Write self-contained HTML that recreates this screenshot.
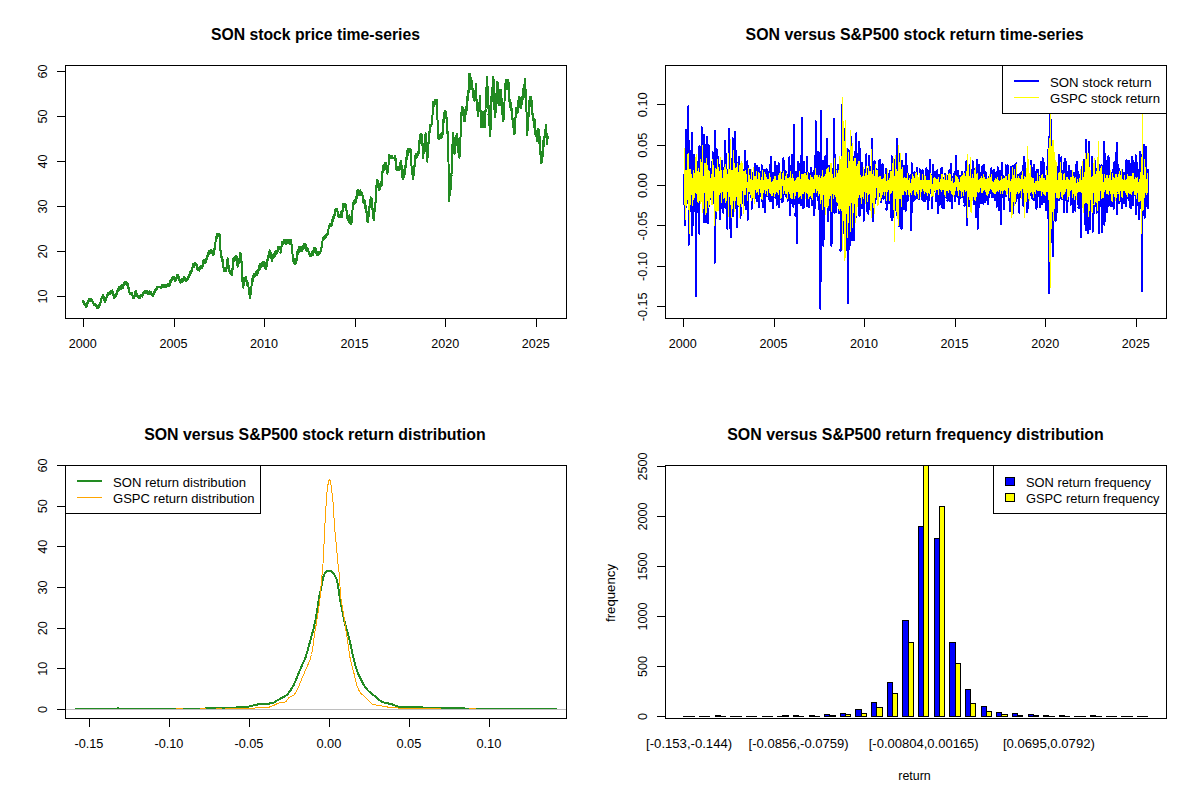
<!DOCTYPE html>
<html><head><meta charset="utf-8"><title>SON vs S&amp;P500</title>
<style>html,body{margin:0;padding:0;background:#fff}svg{display:block}text{font-family:"Liberation Sans", sans-serif}</style>
</head><body>
<svg width="1200" height="800" viewBox="0 0 1200 800">
<defs><clipPath id="c1"><rect x="65" y="65" width="502" height="254"/></clipPath><clipPath id="c2"><rect x="665" y="65" width="502" height="254"/></clipPath><clipPath id="c3"><rect x="65" y="465" width="502" height="254"/></clipPath><clipPath id="c4"><rect x="665" y="465" width="502" height="254"/></clipPath></defs>
<g shape-rendering="crispEdges">
<g clip-path="url(#c1)">
<polyline points="83.1,301.3 83.2,302.3 83.2,300.8 83.3,300.7 83.4,301.8 83.5,301.9 83.5,301.7 83.6,302.8 83.7,301.6 83.7,302.7 83.8,302.5 83.9,303.3 84.0,303.4 84.0,303.8 84.1,302.3 84.2,303.4 84.2,303.0 84.3,303.7 84.4,304.3 84.5,304.2 84.5,304.3 84.6,303.9 84.7,304.5 84.7,304.3 84.8,305.1 84.9,304.9 85.0,303.4 85.0,304.8 85.1,305.1 85.2,304.4 85.2,303.8 85.3,305.5 85.4,304.7 85.5,305.1 85.5,306.2 85.6,304.8 85.7,305.4 85.7,305.4 85.8,305.8 85.9,305.1 86.0,305.8 86.0,305.6 86.1,306.7 86.2,307.1 86.2,306.2 86.3,305.9 86.4,306.0 86.5,305.0 86.5,305.8 86.6,305.7 86.7,306.1 86.8,303.8 86.8,304.0 86.9,303.7 87.0,303.4 87.0,303.8 87.1,303.5 87.2,303.9 87.2,303.7 87.3,303.6 87.4,302.8 87.5,303.0 87.5,303.4 87.6,303.6 87.7,302.8 87.8,301.2 87.8,301.7 87.9,301.7 88.0,301.8 88.0,302.3 88.1,301.7 88.2,300.9 88.2,301.4 88.3,301.0 88.4,300.9 88.5,300.5 88.5,301.1 88.6,299.9 88.7,300.0 88.8,299.4 88.8,300.2 88.9,299.7 89.0,299.6 89.0,298.5 89.1,299.9 89.2,299.5 89.3,300.5 89.3,298.9 89.4,300.2 89.5,300.4 89.5,299.5 89.6,298.8 89.7,300.6 89.8,300.3 89.8,300.0 89.9,300.0 90.0,298.9 90.0,300.1 90.1,299.9 90.2,299.3 90.3,300.3 90.3,299.7 90.4,300.3 90.5,300.5 90.5,301.3 90.6,299.0 90.7,300.9 90.8,300.4 90.8,300.5 90.9,300.3 91.0,300.1 91.0,299.0 91.1,300.4 91.2,300.8 91.3,300.5 91.3,300.5 91.4,299.3 91.5,299.4 91.5,300.9 91.6,300.8 91.7,300.4 91.8,299.3 91.8,301.3 91.9,300.0 92.0,299.4 92.0,300.7 92.1,300.2 92.2,299.7 92.3,299.9 92.3,301.3 92.4,301.3 92.5,302.2 92.5,302.1 92.6,301.4 92.7,301.5 92.8,301.9 92.8,301.4 92.9,302.9 93.0,302.9 93.0,302.6 93.1,303.0 93.2,302.7 93.3,303.2 93.3,303.5 93.4,303.1 93.5,304.2 93.5,304.5 93.6,303.3 93.7,303.6 93.8,303.8 93.8,304.9 93.9,304.5 94.0,304.6 94.0,304.8 94.1,304.7 94.2,304.8 94.3,304.8 94.3,305.4 94.4,304.7 94.5,303.6 94.5,303.8 94.6,304.1 94.7,304.6 94.8,305.5 94.8,304.4 94.9,305.2 95.0,305.4 95.0,305.4 95.1,305.3 95.2,305.6 95.3,305.5 95.3,305.7 95.4,305.1 95.5,303.9 95.5,305.6 95.6,305.9 95.7,305.5 95.8,305.6 95.8,306.3 95.9,306.0 96.0,305.9 96.0,306.0 96.1,306.0 96.2,305.5 96.3,306.4 96.3,305.8 96.4,306.4 96.5,305.5 96.5,307.4 96.6,306.9 96.7,307.2 96.8,306.6 96.8,307.1 96.9,307.5 97.0,307.0 97.0,308.2 97.1,307.5 97.2,308.0 97.3,307.0 97.3,307.6 97.4,307.8 97.5,307.3 97.5,307.1 97.6,307.2 97.7,306.8 97.8,307.4 97.8,308.0 97.9,306.6 98.0,306.6 98.1,306.8 98.1,306.8 98.2,305.7 98.3,306.4 98.3,306.5 98.4,306.4 98.5,305.9 98.6,307.1 98.6,305.7 98.7,306.6 98.8,307.0 98.8,305.8 98.9,306.1 99.0,306.2 99.1,305.7 99.1,305.3 99.2,305.0 99.3,305.7 99.4,305.1 99.4,304.8 99.5,305.5 99.6,304.8 99.6,305.0 99.7,305.3 99.8,305.4 99.9,305.2 99.9,305.0 100.0,305.0 100.1,305.4 100.1,304.2 100.2,303.7 100.3,303.3 100.4,303.2 100.4,302.2 100.5,302.6 100.6,301.8 100.7,302.2 100.7,301.3 100.8,301.7 100.9,300.8 101.0,300.7 101.0,299.4 101.1,301.1 101.2,300.0 101.2,299.0 101.3,299.2 101.4,299.1 101.5,298.6 101.5,298.9 101.6,298.1 101.7,296.6 101.8,296.8 101.8,298.3 101.9,297.5 102.0,297.5 102.0,297.6 102.1,296.8 102.2,297.7 102.3,297.6 102.3,297.5 102.4,296.3 102.5,296.6 102.5,296.8 102.6,296.0 102.7,296.2 102.7,296.0 102.8,295.8 102.9,295.6 103.0,295.3 103.0,295.1 103.1,295.0 103.2,294.8 103.2,296.5 103.3,295.7 103.4,296.8 103.5,297.3 103.5,297.9 103.6,297.3 103.7,297.0 103.8,296.4 103.8,296.4 103.9,297.1 104.0,297.3 104.0,298.2 104.1,297.7 104.2,298.4 104.3,298.2 104.3,298.0 104.4,299.0 104.5,300.5 104.6,300.8 104.6,301.4 104.7,301.4 104.8,300.3 104.9,300.9 104.9,302.0 105.0,301.2 105.1,300.3 105.1,300.1 105.2,299.9 105.3,300.0 105.4,300.6 105.4,299.3 105.5,299.6 105.6,300.3 105.6,298.0 105.7,299.2 105.8,298.6 105.9,300.0 105.9,298.5 106.0,298.4 106.1,298.1 106.2,298.8 106.2,299.0 106.3,298.2 106.4,299.1 106.4,298.6 106.5,297.4 106.6,297.8 106.7,297.4 106.7,297.0 106.8,295.4 106.9,295.6 106.9,296.3 107.0,295.3 107.1,296.1 107.2,295.9 107.2,294.9 107.3,296.2 107.4,295.4 107.5,295.7 107.5,294.8 107.6,293.2 107.7,294.3 107.7,293.9 107.8,294.2 107.9,294.5 108.0,294.6 108.0,293.4 108.1,292.7 108.2,293.8 108.2,294.4 108.3,293.8 108.4,294.1 108.5,293.2 108.5,293.2 108.6,293.1 108.7,293.3 108.8,292.5 108.8,292.6 108.9,293.1 109.0,293.8 109.0,293.3 109.1,293.0 109.2,292.4 109.3,293.2 109.3,292.3 109.4,292.5 109.5,292.4 109.5,292.4 109.6,292.0 109.7,293.3 109.8,292.9 109.8,292.0 109.9,293.4 110.0,293.3 110.0,292.0 110.1,293.2 110.2,293.2 110.3,292.9 110.3,292.0 110.4,293.8 110.5,292.9 110.6,292.8 110.6,292.7 110.7,292.4 110.8,292.5 110.8,291.5 110.9,292.0 111.0,291.4 111.1,291.5 111.1,292.5 111.2,291.9 111.3,290.9 111.3,291.8 111.4,291.8 111.5,291.7 111.6,292.8 111.6,292.1 111.7,291.8 111.8,292.5 111.9,292.1 111.9,291.2 112.0,292.3 112.1,291.1 112.1,291.7 112.2,291.7 112.3,291.7 112.4,290.4 112.4,291.5 112.5,291.2 112.6,291.7 112.6,291.5 112.7,292.3 112.8,292.4 112.9,294.3 112.9,292.8 113.0,293.9 113.1,293.5 113.2,295.4 113.2,294.2 113.3,294.7 113.4,294.0 113.5,295.6 113.5,295.8 113.6,294.2 113.7,296.4 113.7,296.8 113.8,296.6 113.9,297.4 114.0,296.1 114.0,295.9 114.1,297.3 114.2,297.9 114.3,296.4 114.3,296.8 114.4,297.5 114.5,296.9 114.5,296.8 114.6,297.6 114.7,296.3 114.8,297.0 114.8,295.9 114.9,296.2 115.0,296.2 115.0,294.7 115.1,296.2 115.2,296.6 115.3,296.3 115.3,296.2 115.4,294.8 115.5,296.1 115.5,295.9 115.6,297.0 115.7,296.3 115.8,295.9 115.8,295.2 115.9,296.2 116.0,294.9 116.0,294.5 116.1,295.0 116.2,294.4 116.3,294.5 116.3,295.7 116.4,293.7 116.5,293.6 116.5,294.3 116.6,294.7 116.7,292.4 116.8,292.8 116.8,292.2 116.9,292.5 117.0,292.8 117.0,291.4 117.1,291.5 117.2,291.5 117.3,291.7 117.3,291.6 117.4,290.6 117.5,291.0 117.6,289.6 117.6,291.3 117.7,290.5 117.8,291.2 117.8,289.9 117.9,289.6 118.0,288.9 118.1,290.4 118.1,290.3 118.2,290.3 118.3,290.6 118.4,290.8 118.4,290.2 118.5,291.3 118.6,290.4 118.6,289.8 118.7,290.3 118.8,290.5 118.9,290.3 118.9,287.9 119.0,289.9 119.1,287.6 119.1,288.0 119.2,288.1 119.3,288.8 119.4,286.6 119.4,286.6 119.5,288.0 119.6,287.6 119.7,286.7 119.7,287.2 119.8,286.6 119.9,287.5 119.9,286.6 120.0,287.7 120.1,286.6 120.2,287.1 120.2,288.3 120.3,287.3 120.4,287.7 120.5,286.6 120.5,287.5 120.6,287.5 120.7,287.6 120.7,287.6 120.8,287.0 120.9,287.6 121.0,288.3 121.0,288.7 121.1,288.1 121.2,286.2 121.2,286.1 121.3,287.1 121.4,287.4 121.5,288.4 121.5,288.0 121.6,287.6 121.7,287.9 121.7,287.6 121.8,287.0 121.9,286.8 122.0,287.1 122.0,285.8 122.1,286.1 122.2,284.8 122.2,286.1 122.3,286.4 122.4,285.7 122.5,286.1 122.5,286.6 122.6,286.8 122.7,285.9 122.8,286.1 122.8,286.0 122.9,288.0 123.0,286.6 123.0,286.8 123.1,286.9 123.2,287.2 123.3,287.0 123.3,286.1 123.4,285.3 123.5,286.1 123.5,284.1 123.6,283.8 123.7,284.4 123.8,283.8 123.8,285.0 123.9,283.7 124.0,284.6 124.0,284.2 124.1,284.0 124.2,284.1 124.3,283.0 124.3,282.5 124.4,282.5 124.5,282.9 124.5,282.3 124.6,282.4 124.7,282.5 124.8,282.6 124.8,283.3 124.9,284.0 125.0,283.1 125.0,284.1 125.1,282.3 125.2,282.3 125.3,284.2 125.3,282.3 125.4,282.6 125.5,282.9 125.6,281.6 125.6,282.5 125.7,284.5 125.8,282.8 125.8,283.5 125.9,283.2 126.0,283.1 126.1,284.3 126.1,284.3 126.2,284.5 126.3,284.2 126.3,283.9 126.4,285.0 126.5,285.1 126.6,284.6 126.6,285.1 126.7,284.6 126.8,285.1 126.9,285.1 126.9,285.1 127.0,284.2 127.1,284.2 127.1,283.2 127.2,284.2 127.3,284.1 127.4,284.5 127.4,283.5 127.5,283.8 127.6,284.1 127.6,285.3 127.7,285.2 127.8,283.4 127.9,286.5 127.9,286.0 128.0,285.6 128.1,285.8 128.1,288.2 128.2,288.1 128.3,288.0 128.4,287.4 128.4,288.5 128.5,288.9 128.6,287.2 128.6,287.4 128.7,288.4 128.8,289.0 128.9,288.4 128.9,289.2 129.0,289.0 129.1,290.9 129.1,290.5 129.2,291.1 129.3,292.1 129.4,291.7 129.4,291.7 129.5,292.3 129.6,292.1 129.6,293.7 129.7,293.3 129.8,293.1 129.9,293.3 129.9,292.9 130.0,293.8 130.1,294.2 130.1,293.7 130.2,294.0 130.3,292.9 130.4,293.2 130.4,293.3 130.5,292.9 130.6,292.9 130.6,292.9 130.7,292.9 130.8,292.9 130.9,292.9 130.9,292.9 131.0,292.9 131.1,292.9 131.2,292.9 131.2,292.9 131.3,292.9 131.4,293.0 131.4,293.1 131.5,292.9 131.6,293.5 131.7,293.8 131.7,293.3 131.8,293.4 131.9,293.4 131.9,295.0 132.0,293.2 132.1,293.8 132.2,293.4 132.2,295.4 132.3,294.6 132.4,295.2 132.5,296.2 132.5,296.0 132.6,295.2 132.7,296.3 132.7,296.4 132.8,296.1 132.9,296.1 133.0,296.1 133.0,297.7 133.1,297.5 133.2,298.0 133.2,296.9 133.3,298.2 133.4,298.1 133.5,297.7 133.5,298.0 133.6,296.8 133.7,297.8 133.7,296.8 133.8,297.6 133.9,297.0 134.0,297.8 134.0,297.6 134.1,297.8 134.2,296.5 134.2,296.3 134.3,295.6 134.4,295.8 134.5,296.3 134.5,296.2 134.6,296.0 134.7,295.5 134.7,294.8 134.8,294.9 134.9,295.8 135.0,295.5 135.0,294.2 135.1,294.6 135.2,294.4 135.2,291.9 135.3,292.7 135.4,292.5 135.5,292.2 135.5,292.7 135.6,291.2 135.7,292.6 135.7,290.8 135.8,291.7 135.9,292.1 136.0,292.1 136.0,291.9 136.1,291.6 136.2,291.8 136.2,292.6 136.3,290.8 136.4,292.3 136.5,293.3 136.5,293.8 136.6,294.1 136.7,293.7 136.7,293.9 136.8,293.9 136.9,293.7 137.0,294.2 137.0,295.1 137.1,293.7 137.2,294.1 137.2,293.6 137.3,295.9 137.4,295.8 137.5,295.7 137.5,296.4 137.6,296.5 137.7,296.4 137.8,295.7 137.8,295.9 137.9,296.3 138.0,295.8 138.0,296.0 138.1,296.4 138.2,296.7 138.3,296.9 138.3,296.7 138.4,296.2 138.5,296.7 138.5,296.5 138.6,296.8 138.7,297.6 138.8,297.6 138.8,296.6 138.9,296.4 139.0,295.7 139.0,297.3 139.1,296.8 139.2,296.8 139.3,296.9 139.3,297.9 139.4,297.5 139.5,297.5 139.5,297.5 139.6,296.6 139.7,297.3 139.8,296.9 139.8,297.4 139.9,298.3 140.0,297.5 140.0,297.6 140.1,296.6 140.2,296.2 140.3,296.9 140.3,296.7 140.4,295.0 140.5,296.1 140.6,296.1 140.6,295.7 140.7,295.9 140.8,295.6 140.8,295.3 140.9,294.7 141.0,296.5 141.1,295.9 141.1,296.2 141.2,296.3 141.3,296.2 141.3,296.5 141.4,295.9 141.5,296.4 141.6,296.4 141.6,296.4 141.7,296.1 141.8,296.0 141.9,295.7 141.9,296.2 142.0,296.3 142.1,296.1 142.1,296.7 142.2,296.0 142.3,296.2 142.4,295.4 142.4,296.1 142.5,295.6 142.6,295.8 142.6,294.9 142.7,295.0 142.8,293.7 142.9,293.5 142.9,294.1 143.0,293.5 143.1,293.7 143.1,293.8 143.2,293.0 143.3,292.6 143.4,293.6 143.4,293.0 143.5,293.9 143.6,292.8 143.7,293.1 143.7,293.8 143.8,292.5 143.9,292.1 143.9,292.8 144.0,292.4 144.1,293.3 144.2,291.7 144.2,293.1 144.3,292.3 144.4,291.2 144.4,292.1 144.5,291.7 144.6,291.5 144.7,292.0 144.7,291.9 144.8,291.9 144.9,292.1 145.0,291.1 145.0,291.0 145.1,291.0 145.2,292.2 145.2,292.5 145.3,293.0 145.4,291.5 145.5,291.8 145.5,291.9 145.6,292.4 145.7,292.4 145.7,291.7 145.8,291.6 145.9,291.9 146.0,291.8 146.0,291.1 146.1,291.4 146.2,292.3 146.2,291.9 146.3,292.5 146.4,291.5 146.5,292.5 146.5,291.6 146.6,292.3 146.7,292.0 146.8,291.2 146.8,291.9 146.9,291.6 147.0,292.8 147.0,292.5 147.1,291.8 147.2,291.4 147.3,291.5 147.3,291.3 147.4,292.3 147.5,292.4 147.5,292.1 147.6,292.5 147.7,292.9 147.8,293.5 147.8,292.6 147.9,293.6 148.0,293.0 148.1,293.8 148.1,293.4 148.2,293.8 148.3,293.3 148.3,293.8 148.4,293.8 148.5,293.1 148.6,293.8 148.6,293.6 148.7,293.7 148.8,293.8 148.8,293.2 148.9,293.0 149.0,293.8 149.1,292.6 149.1,293.1 149.2,292.8 149.3,292.4 149.4,292.6 149.4,291.0 149.5,293.0 149.6,292.3 149.6,291.7 149.7,293.0 149.8,293.1 149.9,292.2 149.9,292.6 150.0,292.5 150.1,291.6 150.1,292.9 150.2,292.4 150.3,292.9 150.4,293.3 150.4,293.5 150.5,293.3 150.6,292.4 150.6,293.7 150.7,292.8 150.8,293.7 150.9,293.6 150.9,293.6 151.0,293.6 151.1,293.5 151.2,294.5 151.2,293.4 151.3,293.7 151.4,292.4 151.4,293.8 151.5,293.7 151.6,294.5 151.7,294.2 151.7,294.8 151.8,293.9 151.9,294.4 151.9,294.1 152.0,294.4 152.1,294.8 152.2,293.9 152.2,294.8 152.3,294.9 152.4,294.7 152.5,295.9 152.5,295.8 152.6,295.0 152.7,295.6 152.7,295.5 152.8,296.0 152.9,295.1 153.0,294.9 153.0,295.5 153.1,295.0 153.2,295.5 153.2,295.6 153.3,295.7 153.4,295.3 153.5,294.6 153.5,294.0 153.6,293.7 153.7,293.1 153.7,293.2 153.8,292.8 153.9,293.2 154.0,293.9 154.0,293.7 154.1,292.9 154.2,292.9 154.2,293.0 154.3,293.0 154.4,291.6 154.5,292.6 154.5,292.2 154.6,290.9 154.7,291.1 154.7,290.8 154.8,289.6 154.9,290.1 155.0,290.1 155.0,290.2 155.1,290.5 155.2,290.2 155.2,290.6 155.3,290.6 155.4,290.5 155.5,289.9 155.5,290.1 155.6,290.0 155.7,290.3 155.7,289.5 155.8,289.5 155.9,289.4 156.0,289.6 156.0,290.3 156.1,289.8 156.2,289.1 156.3,289.3 156.3,288.8 156.4,288.2 156.5,288.7 156.5,289.3 156.6,289.3 156.7,288.7 156.8,288.9 156.8,288.3 156.9,289.0 157.0,288.6 157.0,288.0 157.1,288.7 157.2,288.1 157.3,286.8 157.3,287.1 157.4,287.4 157.5,286.6 157.6,287.0 157.6,286.6 157.7,286.6 157.8,286.6 157.8,286.6 157.9,286.9 158.0,286.9 158.1,286.6 158.1,286.6 158.2,286.6 158.3,287.3 158.4,286.6 158.4,286.6 158.5,286.6 158.6,286.6 158.6,286.6 158.7,286.6 158.8,286.6 158.9,286.6 158.9,286.6 159.0,286.6 159.1,286.6 159.1,286.6 159.2,286.6 159.3,286.6 159.4,286.6 159.4,286.6 159.5,286.6 159.6,286.6 159.7,286.6 159.7,286.6 159.8,286.8 159.9,286.6 159.9,286.6 160.0,286.6 160.1,286.6 160.2,287.1 160.2,286.9 160.3,287.8 160.4,287.3 160.5,287.4 160.5,288.0 160.6,286.6 160.7,287.7 160.7,288.0 160.8,287.2 160.9,288.3 161.0,287.8 161.0,288.2 161.1,287.7 161.2,287.5 161.2,287.5 161.3,287.1 161.4,287.4 161.5,287.9 161.5,287.2 161.6,286.6 161.7,286.9 161.8,286.0 161.8,287.4 161.9,286.6 162.0,287.0 162.0,285.0 162.1,286.0 162.2,285.7 162.3,286.5 162.3,285.6 162.4,286.1 162.5,285.3 162.6,286.2 162.6,284.7 162.7,285.1 162.8,285.1 162.8,284.9 162.9,285.4 163.0,285.2 163.1,284.8 163.1,285.2 163.2,285.8 163.3,285.8 163.4,286.0 163.4,285.0 163.5,285.1 163.6,285.5 163.6,285.0 163.7,286.8 163.8,286.1 163.9,285.1 163.9,286.5 164.0,287.3 164.1,285.8 164.1,286.2 164.2,286.5 164.3,285.8 164.4,286.8 164.4,287.4 164.5,286.2 164.6,286.6 164.7,286.5 164.7,286.0 164.8,285.8 164.9,285.7 164.9,285.9 165.0,285.2 165.1,285.8 165.2,287.1 165.2,287.0 165.3,287.0 165.4,286.0 165.5,285.6 165.5,287.3 165.6,286.5 165.7,287.5 165.7,286.6 165.8,287.0 165.9,285.9 166.0,286.5 166.0,286.9 166.1,285.9 166.2,286.3 166.2,285.6 166.3,285.5 166.4,285.1 166.5,285.5 166.5,285.7 166.6,286.2 166.7,285.4 166.8,286.1 166.8,285.2 166.9,285.2 167.0,285.5 167.0,284.7 167.1,285.9 167.2,285.0 167.3,284.4 167.3,284.3 167.4,284.2 167.5,284.9 167.5,284.8 167.6,283.7 167.7,285.1 167.8,284.6 167.8,285.0 167.9,285.1 168.0,284.1 168.1,284.4 168.1,284.9 168.2,285.4 168.3,285.0 168.3,286.1 168.4,285.3 168.5,285.3 168.6,286.0 168.6,285.7 168.7,286.0 168.8,285.6 168.8,284.3 168.9,284.9 169.0,284.6 169.1,285.3 169.1,285.0 169.2,284.9 169.3,284.2 169.4,283.4 169.4,284.1 169.5,283.6 169.6,284.2 169.6,286.0 169.7,284.4 169.8,283.3 169.9,282.8 169.9,283.5 170.0,283.1 170.1,282.4 170.1,281.3 170.2,281.3 170.3,282.1 170.4,281.0 170.4,280.7 170.5,281.3 170.6,280.6 170.6,280.8 170.7,280.6 170.8,280.7 170.9,281.9 170.9,281.8 171.0,281.3 171.1,280.4 171.2,279.9 171.2,280.0 171.3,279.4 171.4,278.9 171.4,279.7 171.5,279.3 171.6,279.5 171.7,279.1 171.7,279.0 171.8,278.5 171.9,279.6 171.9,278.8 172.0,279.2 172.1,280.2 172.2,278.9 172.2,279.8 172.3,277.8 172.4,279.1 172.5,279.0 172.5,279.2 172.6,279.2 172.7,278.7 172.7,277.6 172.8,277.8 172.9,277.2 173.0,277.0 173.0,277.9 173.1,277.5 173.2,277.2 173.2,277.7 173.3,276.6 173.4,276.6 173.5,276.7 173.5,277.0 173.6,278.2 173.7,276.8 173.8,278.3 173.8,279.3 173.9,278.5 174.0,278.6 174.1,277.9 174.1,279.0 174.2,278.5 174.3,279.3 174.3,278.2 174.4,278.7 174.5,278.3 174.6,280.7 174.6,280.3 174.7,281.3 174.8,280.5 174.9,280.1 174.9,281.0 175.0,280.0 175.1,280.8 175.1,281.2 175.2,278.9 175.3,280.5 175.4,280.9 175.4,280.4 175.5,280.1 175.6,280.2 175.6,280.1 175.7,280.9 175.8,279.7 175.9,279.8 175.9,279.8 176.0,279.6 176.1,279.2 176.1,278.1 176.2,278.3 176.3,278.7 176.4,279.0 176.4,278.7 176.5,277.5 176.6,278.8 176.6,277.6 176.7,277.6 176.8,278.2 176.9,277.3 176.9,277.1 177.0,277.0 177.1,276.0 177.1,275.8 177.2,275.6 177.3,277.0 177.4,276.6 177.4,274.7 177.5,275.6 177.6,275.6 177.6,275.4 177.7,274.7 177.8,275.9 177.9,276.5 177.9,276.9 178.0,275.4 178.1,275.1 178.1,275.7 178.2,275.1 178.3,274.7 178.4,276.4 178.4,275.3 178.5,276.0 178.6,276.7 178.6,277.8 178.7,277.3 178.8,277.4 178.9,277.6 178.9,279.1 179.0,279.0 179.1,278.2 179.1,279.8 179.2,279.8 179.3,280.1 179.4,278.7 179.4,279.1 179.5,279.9 179.6,279.4 179.6,280.0 179.7,280.1 179.8,280.2 179.9,280.8 179.9,280.0 180.0,281.2 180.1,281.5 180.1,281.2 180.2,281.4 180.3,282.6 180.4,281.4 180.4,281.5 180.5,281.1 180.6,281.6 180.6,281.8 180.7,282.4 180.8,282.6 180.9,282.4 180.9,282.3 181.0,281.9 181.1,282.6 181.2,282.2 181.2,281.8 181.3,281.7 181.4,281.8 181.4,281.5 181.5,281.9 181.6,281.7 181.7,281.7 181.7,282.0 181.8,281.1 181.9,280.6 181.9,279.1 182.0,281.0 182.1,281.2 182.2,281.3 182.2,281.1 182.3,280.8 182.4,281.4 182.5,281.5 182.5,280.3 182.6,281.2 182.7,280.6 182.7,280.4 182.8,280.0 182.9,279.7 183.0,280.5 183.0,280.8 183.1,280.9 183.2,280.6 183.2,280.4 183.3,280.9 183.4,279.6 183.5,278.6 183.5,277.2 183.6,277.6 183.7,277.2 183.8,277.7 183.8,278.1 183.9,278.7 184.0,277.8 184.0,277.2 184.1,277.8 184.2,277.6 184.3,278.6 184.3,277.6 184.4,278.1 184.5,278.4 184.5,277.8 184.6,277.7 184.7,277.7 184.8,278.3 184.8,278.9 184.9,277.7 185.0,278.8 185.1,279.4 185.1,278.6 185.2,279.8 185.3,279.3 185.3,279.5 185.4,279.2 185.5,280.0 185.6,280.2 185.6,280.5 185.7,280.1 185.8,279.6 185.9,280.7 185.9,280.2 186.0,280.6 186.1,280.4 186.1,280.7 186.2,279.5 186.3,280.5 186.4,280.0 186.4,280.0 186.5,280.7 186.6,280.2 186.6,280.7 186.7,280.6 186.8,280.1 186.9,280.3 186.9,280.2 187.0,280.0 187.1,278.4 187.2,279.1 187.2,280.1 187.3,279.9 187.4,280.0 187.4,280.4 187.5,280.2 187.6,280.2 187.7,279.0 187.7,279.4 187.8,279.8 187.9,279.0 188.0,279.1 188.0,278.3 188.1,279.4 188.2,277.4 188.2,276.6 188.3,277.0 188.4,277.4 188.5,276.3 188.5,276.8 188.6,277.2 188.7,276.5 188.7,276.1 188.8,276.2 188.9,274.8 189.0,275.7 189.0,274.6 189.1,275.0 189.2,275.6 189.2,274.8 189.3,274.5 189.4,274.8 189.5,275.1 189.5,274.2 189.6,272.7 189.7,275.0 189.7,273.2 189.8,272.9 189.9,272.7 190.0,272.5 190.0,272.2 190.1,271.6 190.2,272.5 190.2,273.2 190.3,271.7 190.4,272.6 190.5,271.6 190.5,272.7 190.6,272.5 190.7,272.5 190.7,270.6 190.8,271.9 190.9,272.3 191.0,272.9 191.0,273.0 191.1,272.1 191.2,272.1 191.2,271.1 191.3,271.4 191.4,271.1 191.5,270.6 191.5,270.4 191.6,270.2 191.7,270.0 191.7,269.9 191.8,270.3 191.9,270.9 192.0,271.0 192.0,269.6 192.1,270.8 192.2,269.6 192.2,269.0 192.3,269.8 192.4,269.9 192.5,267.4 192.5,266.1 192.6,266.0 192.7,265.4 192.7,265.4 192.8,266.3 192.9,265.4 193.0,266.3 193.0,266.3 193.1,266.2 193.2,265.6 193.2,265.6 193.3,263.8 193.4,266.2 193.5,264.0 193.5,264.1 193.6,265.9 193.7,265.6 193.7,264.2 193.8,266.5 193.9,266.6 194.0,266.0 194.0,267.4 194.1,266.6 194.2,267.3 194.2,266.3 194.3,264.0 194.4,264.2 194.5,265.9 194.5,263.8 194.6,263.7 194.7,264.5 194.7,262.9 194.8,264.9 194.9,262.9 195.0,265.2 195.0,264.1 195.1,264.8 195.2,264.7 195.2,263.3 195.3,264.0 195.4,263.9 195.5,263.7 195.5,264.6 195.6,263.7 195.7,263.5 195.7,264.5 195.8,265.3 195.9,264.8 196.0,263.6 196.0,263.4 196.1,264.1 196.2,264.6 196.2,263.8 196.3,264.5 196.4,264.9 196.5,265.2 196.5,265.5 196.6,266.1 196.7,265.2 196.8,265.1 196.8,266.6 196.9,267.0 197.0,265.8 197.0,266.6 197.1,266.0 197.2,267.1 197.2,266.0 197.3,267.3 197.4,268.6 197.5,269.7 197.5,268.5 197.6,269.0 197.7,268.2 197.8,268.3 197.8,267.8 197.9,268.9 198.0,268.4 198.0,267.9 198.1,268.5 198.2,268.6 198.2,268.0 198.3,268.9 198.4,269.3 198.5,269.2 198.5,269.3 198.6,270.1 198.7,269.9 198.8,269.4 198.8,269.7 198.9,269.1 199.0,268.2 199.0,270.0 199.1,270.0 199.2,269.2 199.3,269.3 199.3,269.6 199.4,270.7 199.5,269.4 199.5,269.8 199.6,268.4 199.7,269.1 199.8,268.0 199.8,268.0 199.9,268.5 200.0,266.9 200.0,267.1 200.1,267.8 200.2,267.4 200.3,268.6 200.3,267.4 200.4,267.5 200.5,268.4 200.6,267.5 200.6,267.6 200.7,267.7 200.8,267.0 200.8,266.4 200.9,267.1 201.0,266.3 201.1,267.5 201.1,266.7 201.2,265.9 201.3,266.2 201.3,267.1 201.4,267.4 201.5,267.3 201.6,266.7 201.6,267.6 201.7,267.5 201.8,266.7 201.9,268.2 201.9,266.4 202.0,268.3 202.1,267.0 202.1,267.7 202.2,266.2 202.3,266.3 202.4,265.6 202.4,265.4 202.5,266.2 202.6,266.1 202.6,266.1 202.7,264.1 202.8,264.1 202.9,262.7 202.9,263.5 203.0,262.6 203.1,260.7 203.1,261.2 203.2,261.2 203.3,261.6 203.4,262.3 203.4,262.3 203.5,263.2 203.6,264.0 203.7,260.5 203.7,260.4 203.8,261.9 203.9,260.5 203.9,260.9 204.0,262.2 204.1,261.5 204.2,261.8 204.2,261.3 204.3,261.4 204.4,261.5 204.4,261.6 204.5,260.4 204.6,260.4 204.7,260.4 204.7,260.4 204.8,260.4 204.9,261.8 205.0,260.4 205.0,262.0 205.1,261.1 205.2,261.1 205.2,263.1 205.3,261.3 205.4,261.3 205.5,261.6 205.5,261.1 205.6,261.2 205.7,261.3 205.7,262.0 205.8,261.8 205.9,261.3 206.0,260.1 206.0,262.0 206.1,260.9 206.2,259.1 206.2,260.3 206.3,259.1 206.4,261.7 206.5,258.4 206.5,258.8 206.6,259.4 206.7,256.1 206.7,256.2 206.8,256.2 206.9,256.2 207.0,256.5 207.0,257.5 207.1,257.2 207.2,256.1 207.2,255.6 207.3,255.9 207.4,255.4 207.5,255.0 207.5,254.9 207.6,252.6 207.7,253.0 207.8,255.8 207.8,255.6 207.9,255.9 208.0,256.4 208.0,254.8 208.1,256.1 208.2,255.7 208.3,254.7 208.3,253.7 208.4,254.7 208.5,254.9 208.5,253.9 208.6,254.0 208.7,253.8 208.8,252.9 208.8,253.7 208.9,253.4 209.0,253.4 209.0,251.1 209.1,250.4 209.2,252.0 209.3,250.6 209.3,252.2 209.4,251.2 209.5,252.6 209.5,251.6 209.6,251.1 209.7,251.8 209.8,253.2 209.8,252.6 209.9,253.2 210.0,252.7 210.0,252.3 210.1,251.9 210.2,252.8 210.3,250.6 210.3,251.1 210.4,250.9 210.5,251.8 210.6,251.7 210.6,252.2 210.7,250.9 210.8,251.1 210.8,250.8 210.9,250.3 211.0,251.2 211.1,250.3 211.1,250.3 211.2,250.5 211.3,250.3 211.3,250.7 211.4,250.3 211.5,251.4 211.6,250.3 211.6,250.3 211.7,251.0 211.8,252.1 211.9,250.9 211.9,250.5 212.0,251.9 212.1,252.1 212.1,251.3 212.2,251.4 212.3,253.2 212.4,252.3 212.4,252.1 212.5,251.9 212.6,252.0 212.6,251.0 212.7,251.8 212.8,253.5 212.9,252.5 212.9,251.8 213.0,252.3 213.1,255.1 213.2,253.8 213.2,254.0 213.3,253.1 213.4,254.6 213.5,253.8 213.5,252.0 213.6,254.4 213.7,254.1 213.8,253.8 213.8,252.7 213.9,252.2 214.0,252.5 214.0,251.5 214.1,251.1 214.2,251.1 214.2,250.2 214.3,248.9 214.4,248.0 214.5,248.7 214.5,248.1 214.6,247.1 214.7,247.9 214.7,249.0 214.8,247.2 214.9,248.3 215.0,244.3 215.0,244.4 215.1,244.1 215.2,244.9 215.2,244.6 215.3,243.0 215.4,242.5 215.5,242.4 215.5,240.9 215.6,240.0 215.7,240.5 215.7,240.3 215.8,239.0 215.9,239.9 216.0,238.5 216.0,238.4 216.1,240.1 216.2,237.7 216.2,238.3 216.3,237.1 216.4,237.6 216.5,238.2 216.5,237.8 216.6,238.6 216.7,236.1 216.7,236.4 216.8,233.6 216.9,234.2 217.0,236.6 217.0,235.0 217.1,235.0 217.2,235.4 217.2,234.7 217.3,234.4 217.4,235.8 217.5,235.4 217.5,235.2 217.6,236.4 217.7,235.2 217.7,234.6 217.8,235.5 217.9,235.5 218.0,234.2 218.0,233.6 218.1,234.5 218.2,234.2 218.2,235.5 218.3,234.6 218.4,234.4 218.5,235.3 218.5,233.8 218.6,235.5 218.7,233.6 218.7,234.5 218.8,235.0 218.9,236.2 219.0,233.6 219.0,233.6 219.1,235.8 219.2,233.6 219.2,234.1 219.3,234.4 219.4,234.3 219.5,236.0 219.5,234.4 219.6,236.2 219.7,238.0 219.7,239.4 219.8,241.4 219.9,242.6 220.0,242.8 220.0,244.4 220.1,243.6 220.2,247.0 220.2,246.6 220.3,249.0 220.4,248.8 220.5,250.8 220.5,250.1 220.6,252.5 220.7,253.7 220.7,253.4 220.8,253.0 220.9,252.4 221.0,253.4 221.0,254.7 221.1,253.7 221.2,255.4 221.3,255.0 221.3,252.9 221.4,256.2 221.5,258.2 221.6,256.6 221.6,257.1 221.7,256.5 221.8,256.8 221.8,258.6 221.9,258.7 222.0,258.7 222.1,259.1 222.1,261.3 222.2,259.0 222.3,259.9 222.4,260.2 222.4,259.8 222.5,260.0 222.6,259.6 222.6,260.1 222.7,260.6 222.8,264.2 222.9,264.1 222.9,262.4 223.0,263.6 223.1,265.0 223.2,265.6 223.2,265.5 223.3,267.2 223.4,267.0 223.5,268.2 223.5,267.3 223.6,268.8 223.7,267.7 223.8,268.8 223.8,268.6 223.9,268.4 224.0,267.9 224.0,267.9 224.1,267.9 224.2,267.9 224.2,267.9 224.3,271.3 224.4,270.1 224.5,269.3 224.5,271.2 224.6,271.3 224.7,270.3 224.8,270.9 224.8,269.0 224.9,270.4 225.0,270.9 225.0,271.3 225.1,271.1 225.2,271.3 225.2,271.3 225.3,271.1 225.4,271.3 225.5,269.8 225.5,271.3 225.6,270.6 225.7,271.1 225.8,271.2 225.8,268.8 225.9,271.3 226.0,269.6 226.0,271.3 226.1,270.5 226.2,268.4 226.2,270.0 226.3,269.9 226.4,267.7 226.5,269.1 226.5,267.9 226.6,267.7 226.7,267.0 226.8,266.1 226.8,265.7 226.9,265.9 227.0,263.9 227.1,263.5 227.1,262.4 227.2,261.1 227.3,260.4 227.4,259.8 227.4,259.1 227.5,258.8 227.6,258.4 227.6,261.6 227.7,261.3 227.8,259.7 227.9,262.0 227.9,261.8 228.0,262.8 228.1,262.0 228.2,262.9 228.2,264.0 228.3,262.1 228.4,263.7 228.4,265.6 228.5,265.2 228.6,265.2 228.7,267.0 228.7,266.4 228.8,267.1 228.9,266.7 229.0,269.8 229.0,269.4 229.1,271.4 229.2,269.9 229.3,270.0 229.3,270.3 229.4,271.2 229.5,270.7 229.5,270.6 229.6,272.2 229.7,272.8 229.8,271.3 229.8,270.9 229.9,272.5 230.0,271.6 230.0,272.3 230.1,273.4 230.2,273.6 230.3,272.6 230.3,272.9 230.4,273.2 230.5,274.1 230.5,270.5 230.6,272.9 230.7,272.0 230.8,272.8 230.8,272.4 230.9,273.7 231.0,272.3 231.0,272.6 231.1,271.8 231.2,273.7 231.3,273.7 231.3,273.3 231.4,271.9 231.5,274.1 231.5,273.1 231.6,274.6 231.7,274.1 231.8,273.8 231.8,274.9 231.9,275.0 232.0,273.2 232.0,273.3 232.1,274.0 232.2,271.5 232.3,271.4 232.3,269.0 232.4,268.6 232.5,269.5 232.5,268.4 232.6,268.0 232.7,266.7 232.7,266.1 232.8,264.4 232.9,264.0 233.0,263.7 233.0,261.4 233.1,260.0 233.2,258.9 233.2,260.1 233.3,259.8 233.4,257.9 233.5,259.2 233.5,261.3 233.6,261.3 233.7,261.3 233.7,259.6 233.8,259.6 233.9,260.6 234.0,261.2 234.0,258.9 234.1,258.6 234.2,259.5 234.2,259.7 234.3,258.5 234.4,259.5 234.5,260.3 234.5,258.3 234.6,259.8 234.7,257.4 234.7,258.5 234.8,260.0 234.9,258.9 235.0,257.4 235.0,260.2 235.1,258.1 235.2,256.4 235.2,259.2 235.3,258.0 235.4,259.0 235.5,257.6 235.5,259.9 235.6,259.1 235.7,259.7 235.7,258.4 235.8,258.2 235.9,258.1 236.0,257.3 236.0,257.3 236.1,257.1 236.2,258.8 236.2,256.9 236.3,256.0 236.4,256.0 236.5,257.6 236.5,256.0 236.6,257.4 236.7,257.5 236.8,259.4 236.8,261.3 236.9,261.7 237.0,260.6 237.1,259.1 237.1,263.2 237.2,265.3 237.3,263.0 237.4,264.7 237.4,265.2 237.5,266.2 237.6,266.5 237.6,266.4 237.7,266.7 237.8,263.7 237.9,264.7 237.9,264.3 238.0,262.9 238.1,261.2 238.1,262.2 238.2,264.3 238.3,263.1 238.4,262.8 238.4,262.3 238.5,263.5 238.6,262.8 238.7,263.3 238.7,262.6 238.8,262.1 238.9,262.2 238.9,261.7 239.0,259.8 239.1,258.9 239.2,259.3 239.2,259.5 239.3,262.0 239.4,259.1 239.4,258.8 239.5,258.0 239.6,258.2 239.7,257.7 239.7,257.1 239.8,253.4 239.9,256.3 240.0,257.7 240.0,257.4 240.1,257.1 240.2,256.2 240.2,256.8 240.3,256.1 240.4,252.8 240.5,252.8 240.5,253.0 240.6,253.8 240.7,254.9 240.7,256.0 240.8,254.9 240.9,253.4 241.0,258.3 241.0,256.5 241.1,259.1 241.2,260.0 241.2,258.1 241.3,261.9 241.4,263.0 241.5,260.5 241.5,262.2 241.6,264.3 241.7,264.0 241.8,263.5 241.8,265.5 241.9,266.2 242.0,270.8 242.0,267.6 242.1,270.7 242.2,272.7 242.3,275.4 242.3,277.1 242.4,279.7 242.5,281.8 242.5,281.9 242.6,285.4 242.7,284.0 242.8,286.2 242.8,287.6 242.9,287.6 243.0,283.6 243.0,287.6 243.1,287.6 243.2,284.8 243.3,284.4 243.3,287.6 243.4,284.2 243.5,282.8 243.6,285.4 243.6,282.4 243.7,283.1 243.8,283.3 243.8,282.2 243.9,282.1 244.0,282.9 244.1,278.1 244.1,281.5 244.2,281.6 244.3,279.3 244.4,280.9 244.4,278.7 244.5,280.4 244.6,279.5 244.7,279.6 244.7,279.4 244.8,280.1 244.9,280.2 244.9,277.6 245.0,280.6 245.1,280.2 245.2,280.0 245.2,278.4 245.3,278.3 245.4,277.6 245.5,280.2 245.5,277.9 245.6,277.5 245.7,276.9 245.7,276.6 245.8,279.2 245.9,279.7 246.0,278.1 246.0,278.4 246.1,278.1 246.2,278.8 246.2,281.2 246.3,280.1 246.4,279.9 246.5,282.3 246.5,282.6 246.6,283.7 246.7,281.3 246.7,280.3 246.8,284.6 246.9,281.6 247.0,281.8 247.0,283.5 247.1,284.0 247.2,285.0 247.2,284.9 247.3,283.9 247.4,283.5 247.5,284.3 247.5,283.3 247.6,284.2 247.7,285.9 247.7,282.8 247.8,283.4 247.9,285.7 248.0,282.9 248.0,284.4 248.1,285.0 248.2,284.1 248.2,285.2 248.3,284.2 248.4,285.3 248.5,287.1 248.5,287.7 248.6,289.6 248.7,289.4 248.8,290.0 248.8,289.1 248.9,290.5 249.0,292.6 249.1,292.3 249.1,292.7 249.2,293.9 249.3,292.0 249.3,293.5 249.4,293.6 249.5,295.4 249.6,295.6 249.6,294.1 249.7,296.8 249.8,296.3 249.9,296.9 249.9,297.9 250.0,297.5 250.1,296.8 250.1,297.4 250.2,296.7 250.3,296.4 250.4,295.9 250.4,295.7 250.5,295.3 250.6,294.0 250.7,293.0 250.7,292.1 250.8,290.6 250.9,291.8 250.9,292.4 251.0,290.0 251.1,291.3 251.2,290.2 251.2,287.2 251.3,286.7 251.4,287.2 251.5,285.9 251.5,284.1 251.6,285.5 251.7,282.0 251.8,282.3 251.8,279.1 251.9,280.0 252.0,279.4 252.0,278.6 252.1,281.1 252.2,281.2 252.3,281.3 252.3,279.6 252.4,279.7 252.5,281.3 252.6,281.3 252.6,279.9 252.7,278.5 252.8,279.0 252.8,278.4 252.9,277.1 253.0,277.7 253.1,278.4 253.1,275.9 253.2,277.9 253.3,279.0 253.4,278.2 253.4,279.1 253.5,277.2 253.6,275.9 253.6,278.1 253.7,275.6 253.8,274.1 253.9,274.3 253.9,276.3 254.0,276.0 254.1,275.4 254.1,276.3 254.2,276.3 254.3,275.7 254.4,275.9 254.4,274.1 254.5,275.8 254.6,274.1 254.7,274.1 254.7,274.1 254.8,274.7 254.9,274.1 254.9,274.3 255.0,274.1 255.1,274.1 255.2,274.9 255.2,274.9 255.3,274.1 255.4,274.1 255.5,275.0 255.5,274.4 255.6,275.0 255.7,274.8 255.7,275.6 255.8,274.4 255.9,273.2 256.0,274.3 256.0,273.2 256.1,274.7 256.2,273.4 256.2,273.1 256.3,272.1 256.4,274.3 256.5,273.2 256.5,275.5 256.6,273.8 256.7,272.2 256.7,272.1 256.8,274.0 256.9,274.2 257.0,271.8 257.0,273.5 257.1,271.2 257.2,272.5 257.2,271.9 257.3,270.4 257.4,270.5 257.5,271.2 257.5,273.4 257.6,271.8 257.7,272.1 257.7,272.0 257.8,270.4 257.9,273.3 258.0,270.8 258.0,271.3 258.1,271.2 258.2,270.8 258.2,269.7 258.3,270.0 258.4,270.1 258.5,269.3 258.5,268.9 258.6,269.6 258.7,270.0 258.7,269.5 258.8,268.1 258.9,266.7 259.0,266.3 259.0,266.6 259.1,265.9 259.2,266.4 259.2,267.5 259.3,268.4 259.4,267.7 259.5,268.2 259.5,267.5 259.6,264.5 259.7,267.9 259.7,266.4 259.8,266.6 259.9,265.1 260.0,264.1 260.0,266.7 260.1,269.2 260.2,264.7 260.2,264.7 260.3,267.8 260.4,266.1 260.5,265.3 260.5,268.4 260.6,265.0 260.7,264.1 260.7,265.8 260.8,265.3 260.9,265.9 261.0,264.8 261.0,265.0 261.1,266.3 261.2,265.8 261.2,263.8 261.3,265.0 261.4,264.1 261.5,264.6 261.5,262.8 261.6,264.7 261.7,265.0 261.7,266.2 261.8,264.9 261.9,263.9 262.0,264.1 262.0,266.3 262.1,264.1 262.2,265.5 262.2,265.8 262.3,265.2 262.4,265.4 262.5,265.5 262.5,265.2 262.6,264.4 262.7,264.8 262.7,265.7 262.8,264.0 262.9,264.4 263.0,261.8 263.0,262.1 263.1,262.1 263.2,263.3 263.2,261.6 263.3,262.3 263.4,262.7 263.5,261.6 263.5,264.4 263.6,262.7 263.7,262.7 263.8,262.5 263.8,262.0 263.9,261.6 264.0,262.8 264.0,263.1 264.1,261.6 264.2,261.6 264.3,261.9 264.3,263.9 264.4,263.5 264.5,266.3 264.5,266.7 264.6,265.3 264.7,265.4 264.8,264.2 264.8,263.8 264.9,264.4 265.0,263.3 265.0,265.9 265.1,264.9 265.2,267.2 265.3,266.0 265.3,266.4 265.4,266.4 265.5,266.1 265.5,268.6 265.6,266.2 265.7,267.5 265.8,266.7 265.8,268.4 265.9,268.8 266.0,268.9 266.0,268.0 266.1,267.7 266.2,267.5 266.3,267.1 266.3,267.2 266.4,267.3 266.5,267.3 266.6,264.6 266.6,265.8 266.7,264.7 266.8,264.1 266.8,262.7 266.9,261.7 267.0,263.2 267.1,261.6 267.1,261.8 267.2,261.5 267.3,260.6 267.4,261.9 267.4,259.7 267.5,260.0 267.6,260.1 267.6,258.9 267.7,258.2 267.8,258.3 267.9,259.8 267.9,257.9 268.0,258.9 268.1,257.6 268.1,256.1 268.2,258.0 268.3,256.8 268.4,258.9 268.4,258.0 268.5,258.7 268.6,256.6 268.6,255.2 268.7,255.3 268.8,256.9 268.9,255.6 268.9,255.4 269.0,254.1 269.1,254.1 269.1,252.7 269.2,252.8 269.3,254.9 269.4,252.9 269.4,253.2 269.5,251.3 269.6,250.5 269.6,251.9 269.7,251.1 269.8,253.4 269.9,254.5 269.9,252.3 270.0,251.2 270.1,252.6 270.1,251.4 270.2,253.0 270.3,253.9 270.4,254.1 270.4,254.0 270.5,254.8 270.6,255.8 270.7,252.5 270.7,254.5 270.8,256.6 270.9,257.2 270.9,257.8 271.0,255.7 271.1,253.8 271.2,257.4 271.2,256.6 271.3,258.3 271.4,256.2 271.5,257.3 271.5,258.4 271.6,257.7 271.7,257.6 271.8,258.0 271.8,260.0 271.9,260.0 272.0,259.4 272.0,261.0 272.1,259.2 272.2,259.4 272.3,259.3 272.3,259.7 272.4,258.8 272.5,258.9 272.6,256.5 272.6,258.3 272.7,257.7 272.8,256.5 272.8,256.6 272.9,255.3 273.0,255.1 273.1,258.1 273.1,257.2 273.2,257.3 273.3,254.2 273.4,255.9 273.4,255.5 273.5,254.1 273.6,256.4 273.6,256.0 273.7,255.9 273.8,256.4 273.9,255.0 273.9,254.8 274.0,254.2 274.1,255.3 274.1,255.6 274.2,255.7 274.3,255.5 274.4,256.8 274.4,255.1 274.5,255.1 274.6,255.7 274.7,256.5 274.7,255.4 274.8,254.7 274.9,254.1 274.9,252.1 275.0,255.9 275.1,254.2 275.2,253.3 275.2,253.9 275.3,253.2 275.4,254.1 275.5,253.4 275.5,252.0 275.6,252.5 275.7,253.3 275.7,252.9 275.8,250.6 275.9,253.2 276.0,252.2 276.0,252.5 276.1,253.3 276.2,253.8 276.2,253.0 276.3,253.8 276.4,253.7 276.5,253.7 276.5,253.8 276.6,253.1 276.7,253.8 276.7,251.7 276.8,251.0 276.9,253.6 277.0,252.0 277.0,250.7 277.1,251.3 277.2,252.7 277.2,253.0 277.3,251.7 277.4,251.1 277.5,252.2 277.5,251.1 277.6,250.8 277.7,250.3 277.7,249.0 277.8,249.3 277.9,249.9 278.0,247.3 278.0,248.4 278.1,248.1 278.2,248.4 278.2,249.0 278.3,247.7 278.4,247.9 278.5,247.2 278.5,247.2 278.6,248.2 278.7,247.2 278.7,247.2 278.8,248.4 278.9,247.5 279.0,247.5 279.0,247.4 279.1,248.4 279.2,248.7 279.2,247.3 279.3,248.1 279.4,248.4 279.5,247.2 279.5,248.1 279.6,247.2 279.7,247.8 279.7,247.6 279.8,248.5 279.9,247.8 280.0,249.1 280.0,249.6 280.1,248.7 280.2,248.6 280.2,247.7 280.3,248.3 280.4,249.8 280.5,250.3 280.5,252.6 280.6,251.2 280.7,250.7 280.7,250.3 280.8,250.6 280.9,248.7 281.0,248.9 281.0,248.9 281.1,249.9 281.2,249.4 281.2,249.2 281.3,248.1 281.4,247.8 281.5,246.5 281.5,245.2 281.6,245.2 281.7,245.5 281.7,246.3 281.8,244.9 281.9,245.5 282.0,244.0 282.0,243.8 282.1,243.5 282.2,244.0 282.2,245.2 282.3,245.1 282.4,241.6 282.5,243.7 282.5,242.6 282.6,242.8 282.7,242.3 282.7,241.6 282.8,241.6 282.9,241.6 283.0,241.6 283.0,244.0 283.1,242.5 283.2,243.8 283.2,242.5 283.3,241.8 283.4,241.3 283.5,243.3 283.5,241.9 283.6,243.2 283.7,243.7 283.7,241.8 283.8,241.8 283.9,242.6 284.0,242.6 284.0,241.4 284.1,240.1 284.2,240.9 284.2,240.8 284.3,240.3 284.4,240.7 284.5,239.7 284.5,240.8 284.6,241.1 284.7,240.7 284.7,240.5 284.8,239.9 284.9,239.7 285.0,241.2 285.0,239.7 285.1,239.7 285.2,241.1 285.2,240.2 285.3,240.3 285.4,241.1 285.5,239.7 285.5,240.8 285.6,239.7 285.7,241.0 285.7,242.1 285.8,242.2 285.9,242.0 286.0,242.2 286.0,241.8 286.1,243.8 286.2,240.4 286.2,240.6 286.3,239.8 286.4,240.9 286.5,240.2 286.5,241.4 286.6,240.0 286.7,240.7 286.8,239.7 286.8,239.8 286.9,239.7 287.0,239.8 287.0,239.7 287.1,240.1 287.2,239.7 287.3,240.3 287.3,239.7 287.4,240.3 287.5,240.6 287.6,240.8 287.6,240.9 287.7,240.2 287.8,241.1 287.8,241.3 287.9,242.4 288.0,241.7 288.1,242.7 288.1,239.7 288.2,241.9 288.3,242.0 288.4,240.9 288.4,239.7 288.5,241.7 288.6,242.3 288.6,240.7 288.7,240.7 288.8,242.0 288.9,242.6 288.9,241.7 289.0,240.2 289.1,241.2 289.1,240.8 289.2,241.1 289.3,240.9 289.4,240.6 289.4,241.3 289.5,241.0 289.6,243.3 289.7,243.8 289.7,242.5 289.8,243.2 289.9,243.3 289.9,242.4 290.0,242.4 290.1,242.7 290.2,242.5 290.2,240.8 290.3,239.7 290.4,241.9 290.5,242.8 290.5,241.1 290.6,241.4 290.7,241.1 290.7,241.8 290.8,239.7 290.9,239.9 291.0,239.7 291.0,242.7 291.1,243.7 291.2,241.4 291.2,242.5 291.3,243.3 291.4,243.1 291.5,244.1 291.5,245.5 291.6,243.9 291.7,244.7 291.7,245.1 291.8,245.4 291.9,246.3 292.0,248.6 292.0,248.6 292.1,250.1 292.2,250.5 292.2,252.2 292.3,250.6 292.4,253.7 292.5,253.7 292.5,254.1 292.6,254.7 292.7,255.3 292.7,257.2 292.8,258.5 292.9,259.0 293.0,260.3 293.0,258.5 293.1,260.0 293.2,259.8 293.2,260.6 293.3,261.6 293.4,259.1 293.5,261.3 293.5,259.1 293.6,259.1 293.7,260.4 293.7,259.1 293.8,261.1 293.9,261.9 294.0,259.1 294.0,261.4 294.1,262.4 294.2,262.5 294.2,262.2 294.3,261.8 294.4,262.1 294.5,263.8 294.5,262.2 294.6,260.4 294.7,263.8 294.7,263.4 294.8,262.6 294.9,262.2 295.0,263.8 295.0,263.8 295.1,263.7 295.2,261.4 295.2,261.5 295.3,263.8 295.4,263.8 295.5,263.8 295.5,263.8 295.6,262.5 295.7,262.2 295.7,259.6 295.8,262.1 295.9,260.6 296.0,260.2 296.0,258.7 296.1,260.6 296.2,260.9 296.3,263.2 296.3,263.0 296.4,261.8 296.5,259.8 296.6,261.2 296.6,259.8 296.7,258.8 296.8,260.1 296.8,259.2 296.9,259.4 297.0,255.4 297.1,254.7 297.1,255.6 297.2,254.6 297.3,252.1 297.4,252.8 297.4,252.9 297.5,252.5 297.6,253.7 297.6,253.4 297.7,252.5 297.8,252.4 297.9,250.2 297.9,250.5 298.0,253.2 298.1,251.2 298.1,251.5 298.2,253.0 298.3,252.2 298.4,253.0 298.4,251.6 298.5,253.8 298.6,251.7 298.7,251.3 298.7,250.6 298.8,250.7 298.9,247.9 298.9,249.9 299.0,249.4 299.1,247.9 299.2,246.6 299.2,246.6 299.3,246.8 299.4,248.0 299.4,247.6 299.5,246.7 299.6,246.6 299.7,246.6 299.7,246.6 299.8,247.1 299.9,246.6 300.0,246.6 300.0,247.6 300.1,246.6 300.2,251.4 300.2,246.6 300.3,247.0 300.4,247.5 300.5,248.8 300.5,246.6 300.6,247.3 300.7,247.1 300.7,246.6 300.8,247.8 300.9,248.6 301.0,246.7 301.0,248.8 301.1,246.6 301.2,247.2 301.2,247.5 301.3,248.5 301.4,248.2 301.5,248.0 301.5,248.6 301.6,246.7 301.7,249.0 301.8,247.8 301.8,246.6 301.9,248.8 302.0,246.6 302.1,246.6 302.1,247.3 302.2,251.3 302.3,249.0 302.4,250.5 302.4,249.8 302.5,250.0 302.6,248.3 302.6,249.0 302.7,248.4 302.8,248.2 302.9,248.8 302.9,248.5 303.0,248.8 303.1,248.5 303.2,248.4 303.2,247.8 303.3,247.8 303.4,245.8 303.4,246.0 303.5,247.1 303.6,249.0 303.7,246.4 303.7,245.5 303.8,246.5 303.9,246.9 304.0,244.4 304.0,244.6 304.1,246.9 304.2,243.6 304.3,245.1 304.3,243.7 304.4,244.4 304.5,244.8 304.5,243.9 304.6,245.4 304.7,243.5 304.8,245.3 304.8,244.4 304.9,245.1 305.0,244.4 305.0,245.9 305.1,244.9 305.2,246.1 305.3,246.0 305.3,244.8 305.4,243.8 305.5,245.7 305.6,245.3 305.6,245.9 305.7,245.4 305.8,246.1 305.8,245.9 305.9,246.0 306.0,245.3 306.1,245.9 306.1,248.3 306.2,246.8 306.3,247.0 306.3,249.6 306.4,250.3 306.5,249.6 306.6,249.7 306.6,249.4 306.7,250.7 306.8,248.0 306.9,248.4 306.9,249.1 307.0,249.3 307.1,248.5 307.1,249.4 307.2,247.6 307.3,248.5 307.4,247.5 307.4,250.3 307.5,250.0 307.6,251.2 307.6,250.7 307.7,250.3 307.8,249.5 307.9,249.9 307.9,249.1 308.0,249.1 308.1,249.1 308.1,250.9 308.2,250.9 308.3,250.7 308.4,250.1 308.4,250.8 308.5,251.2 308.6,252.9 308.6,251.6 308.7,252.0 308.8,254.2 308.9,253.4 308.9,253.5 309.0,253.4 309.1,253.9 309.1,254.7 309.2,253.6 309.3,254.7 309.4,253.0 309.4,254.1 309.5,254.0 309.6,254.5 309.6,254.7 309.7,255.3 309.8,253.5 309.9,254.3 309.9,255.8 310.0,255.0 310.1,254.7 310.1,255.1 310.2,255.1 310.3,255.1 310.4,256.3 310.4,256.3 310.5,255.8 310.6,256.1 310.7,254.9 310.7,256.3 310.8,256.3 310.9,256.3 310.9,256.3 311.0,255.8 311.1,256.3 311.2,255.0 311.2,254.5 311.3,255.5 311.4,255.2 311.4,254.2 311.5,254.6 311.6,255.7 311.7,255.3 311.7,253.1 311.8,253.7 311.9,252.5 312.0,252.1 312.0,253.0 312.1,252.5 312.2,253.3 312.2,252.7 312.3,252.8 312.4,251.3 312.5,252.8 312.5,252.6 312.6,252.3 312.7,251.8 312.8,253.5 312.8,253.0 312.9,254.8 313.0,253.9 313.0,253.1 313.1,252.4 313.2,251.0 313.3,251.9 313.3,251.0 313.4,251.6 313.5,251.0 313.6,251.1 313.6,251.0 313.7,251.4 313.8,250.9 313.8,250.3 313.9,251.6 314.0,251.7 314.1,249.0 314.1,249.7 314.2,250.0 314.3,248.6 314.3,247.8 314.4,247.8 314.5,247.8 314.6,247.8 314.6,247.8 314.7,247.8 314.8,248.8 314.9,248.2 314.9,249.8 315.0,248.8 315.1,249.0 315.1,249.6 315.2,248.8 315.3,250.1 315.4,250.3 315.4,249.9 315.5,250.7 315.6,249.5 315.7,249.7 315.7,248.5 315.8,250.8 315.9,250.2 315.9,250.4 316.0,250.7 316.1,250.5 316.2,251.4 316.2,251.9 316.3,251.5 316.4,252.0 316.5,253.9 316.5,254.4 316.6,252.9 316.7,253.9 316.8,253.9 316.8,255.0 316.9,254.4 317.0,253.9 317.0,254.3 317.1,254.4 317.2,253.9 317.3,254.2 317.3,252.3 317.4,255.1 317.5,253.7 317.5,255.5 317.6,253.3 317.7,253.9 317.8,252.4 317.8,252.4 317.9,251.6 318.0,251.6 318.0,251.6 318.1,251.6 318.2,253.1 318.3,251.9 318.3,252.0 318.4,251.6 318.5,251.6 318.5,253.6 318.6,253.4 318.7,253.4 318.8,253.6 318.8,251.9 318.9,253.2 319.0,253.0 319.0,254.1 319.1,252.7 319.2,251.8 319.3,252.1 319.3,251.9 319.4,252.5 319.5,252.5 319.5,252.6 319.6,252.8 319.7,252.6 319.8,252.7 319.8,253.3 319.9,253.2 320.0,252.4 320.0,252.8 320.1,251.8 320.2,253.1 320.3,251.5 320.3,251.2 320.4,252.3 320.5,252.2 320.5,251.3 320.6,251.8 320.7,250.4 320.8,249.8 320.8,249.1 320.9,249.9 321.0,248.8 321.0,247.7 321.1,247.5 321.2,248.8 321.3,247.4 321.3,247.3 321.4,247.3 321.5,247.8 321.5,246.7 321.6,245.8 321.7,244.2 321.8,245.8 321.8,244.3 321.9,245.0 322.0,244.7 322.0,243.8 322.1,243.3 322.2,242.3 322.3,243.1 322.3,241.7 322.4,242.8 322.5,241.1 322.5,239.6 322.6,239.6 322.7,239.4 322.7,240.1 322.8,239.4 322.9,239.5 323.0,238.8 323.0,238.2 323.1,237.5 323.2,237.6 323.2,237.3 323.3,238.8 323.4,238.8 323.5,238.0 323.5,238.1 323.6,238.5 323.7,237.7 323.7,236.5 323.8,236.7 323.9,238.7 324.0,237.4 324.0,238.8 324.1,238.4 324.2,238.1 324.2,238.8 324.3,238.8 324.4,238.3 324.5,238.8 324.5,238.8 324.6,237.8 324.7,238.8 324.7,237.4 324.8,237.1 324.9,237.2 325.0,238.5 325.0,237.8 325.1,236.8 325.2,236.1 325.3,236.3 325.3,237.4 325.4,237.4 325.5,235.5 325.5,236.9 325.6,237.3 325.7,236.5 325.8,235.8 325.8,235.3 325.9,236.3 326.0,236.2 326.0,235.3 326.1,234.5 326.2,234.8 326.3,234.6 326.3,235.6 326.4,234.1 326.5,234.6 326.5,234.7 326.6,234.8 326.7,234.8 326.8,234.1 326.8,235.1 326.9,235.0 327.0,234.6 327.0,234.1 327.1,233.5 327.2,234.5 327.3,233.9 327.3,235.0 327.4,235.5 327.5,234.0 327.5,234.4 327.6,233.4 327.7,234.0 327.8,233.0 327.8,233.5 327.9,233.6 328.0,231.6 328.0,230.4 328.1,232.4 328.2,232.5 328.3,230.7 328.3,229.3 328.4,230.0 328.5,229.1 328.5,229.0 328.6,227.6 328.7,228.0 328.8,228.3 328.8,227.4 328.9,227.5 329.0,227.7 329.0,228.2 329.1,227.9 329.2,227.0 329.3,225.5 329.3,225.7 329.4,225.0 329.5,226.3 329.5,224.6 329.6,224.8 329.7,225.9 329.8,224.8 329.8,224.5 329.9,226.3 330.0,225.5 330.1,224.4 330.1,225.4 330.2,224.1 330.3,224.0 330.3,225.2 330.4,226.3 330.5,224.9 330.6,226.3 330.6,226.3 330.7,225.6 330.8,226.3 330.9,226.3 330.9,226.3 331.0,226.3 331.1,226.3 331.1,226.3 331.2,226.3 331.3,226.3 331.4,225.6 331.4,225.8 331.5,225.3 331.6,225.4 331.6,224.2 331.7,222.0 331.8,223.4 331.9,222.2 331.9,222.2 332.0,224.3 332.1,221.7 332.2,221.8 332.2,220.0 332.3,220.4 332.4,221.8 332.4,221.1 332.5,221.5 332.6,221.0 332.7,218.8 332.7,219.5 332.8,219.3 332.9,219.2 333.0,218.8 333.0,218.2 333.1,218.8 333.2,217.9 333.2,220.1 333.3,219.4 333.4,219.9 333.5,216.3 333.5,217.8 333.6,218.2 333.7,216.7 333.7,216.3 333.8,216.3 333.9,217.0 334.0,215.6 334.0,214.6 334.1,215.7 334.2,215.0 334.2,215.0 334.3,215.4 334.4,215.2 334.5,215.7 334.5,213.8 334.6,214.4 334.7,214.2 334.7,214.7 334.8,214.4 334.9,214.9 335.0,214.6 335.0,214.4 335.1,211.8 335.2,211.2 335.3,212.2 335.3,212.0 335.4,210.7 335.5,209.1 335.5,209.9 335.6,209.1 335.7,209.4 335.8,210.2 335.8,210.1 335.9,209.1 336.0,209.8 336.0,209.1 336.1,209.9 336.2,209.2 336.3,209.3 336.3,209.1 336.4,209.1 336.5,209.1 336.5,209.1 336.6,209.5 336.7,210.5 336.8,211.0 336.8,210.1 336.9,210.0 337.0,210.5 337.0,209.7 337.1,209.4 337.2,211.7 337.3,209.1 337.3,211.3 337.4,209.8 337.5,210.9 337.5,211.0 337.6,212.0 337.7,212.5 337.7,212.3 337.8,214.5 337.9,215.2 338.0,215.2 338.0,215.7 338.1,215.6 338.2,215.7 338.2,215.8 338.3,216.9 338.4,216.9 338.5,214.7 338.5,216.2 338.6,216.9 338.7,215.9 338.7,215.4 338.8,216.9 338.9,216.9 339.0,216.2 339.0,215.9 339.1,216.9 339.2,216.9 339.3,216.9 339.3,216.9 339.4,216.5 339.5,216.9 339.5,216.9 339.6,216.8 339.7,215.3 339.8,216.9 339.8,216.9 339.9,216.4 340.0,216.9 340.0,216.8 340.1,216.9 340.2,216.9 340.3,216.8 340.3,216.0 340.4,216.9 340.5,216.9 340.6,216.9 340.6,216.9 340.7,215.9 340.8,215.9 340.8,214.7 340.9,214.2 341.0,215.7 341.1,213.8 341.1,213.0 341.2,214.5 341.3,211.6 341.3,214.1 341.4,211.3 341.5,212.6 341.6,213.5 341.6,214.6 341.7,214.1 341.8,214.8 341.9,214.6 341.9,216.9 342.0,214.2 342.1,214.5 342.1,213.0 342.2,213.2 342.3,214.3 342.4,213.1 342.4,212.8 342.5,211.2 342.6,209.6 342.6,211.9 342.7,211.2 342.8,203.5 342.9,204.2 342.9,203.9 343.0,203.5 343.1,203.5 343.1,203.5 343.2,203.9 343.3,203.5 343.4,203.5 343.4,203.5 343.5,205.5 343.6,207.4 343.7,205.9 343.7,204.7 343.8,204.2 343.9,206.0 343.9,205.1 344.0,206.1 344.1,204.4 344.2,204.8 344.2,203.5 344.3,204.3 344.4,204.4 344.4,203.5 344.5,206.2 344.6,204.7 344.7,203.5 344.7,204.1 344.8,203.5 344.9,203.5 345.0,203.5 345.0,203.5 345.1,203.5 345.2,203.5 345.2,203.5 345.3,204.9 345.4,203.5 345.5,204.1 345.5,204.0 345.6,204.4 345.7,205.6 345.7,205.2 345.8,206.5 345.9,207.2 346.0,207.4 346.0,207.6 346.1,205.9 346.2,208.8 346.2,209.0 346.3,209.8 346.4,210.4 346.5,210.1 346.5,212.9 346.6,213.5 346.7,213.8 346.8,216.1 346.8,215.5 346.9,215.0 347.0,214.1 347.0,215.5 347.1,215.3 347.2,214.9 347.3,216.4 347.3,218.0 347.4,216.0 347.5,217.6 347.6,218.1 347.6,217.2 347.7,217.9 347.8,217.4 347.8,218.0 347.9,217.4 348.0,216.4 348.1,217.4 348.1,218.4 348.2,218.9 348.3,218.0 348.4,220.2 348.4,220.3 348.5,219.8 348.6,221.9 348.6,219.5 348.7,219.5 348.8,218.7 348.9,219.8 348.9,219.0 349.0,220.0 349.1,219.1 349.2,220.4 349.2,219.1 349.3,217.7 349.4,217.6 349.4,218.0 349.5,215.5 349.6,217.4 349.7,219.0 349.7,218.7 349.8,218.6 349.9,217.4 350.0,219.0 350.0,219.3 350.1,218.7 350.2,220.0 350.2,220.1 350.3,222.4 350.4,221.7 350.5,223.7 350.5,223.1 350.6,221.1 350.7,222.0 350.8,222.2 350.8,222.5 350.9,222.5 351.0,220.8 351.0,222.2 351.1,221.4 351.2,220.4 351.3,220.2 351.3,223.8 351.4,223.8 351.5,222.9 351.6,221.3 351.6,220.5 351.7,220.3 351.8,219.1 351.9,218.8 351.9,216.0 352.0,215.7 352.1,214.0 352.1,213.9 352.2,213.7 352.3,213.0 352.4,211.7 352.4,210.4 352.5,210.3 352.6,210.0 352.7,208.1 352.7,207.0 352.8,207.7 352.9,204.1 353.0,205.1 353.0,204.1 353.1,205.0 353.2,203.8 353.2,202.7 353.3,203.9 353.4,202.2 353.5,203.2 353.5,204.1 353.6,203.8 353.7,204.6 353.7,203.4 353.8,202.5 353.9,202.2 354.0,202.6 354.0,203.0 354.1,203.2 354.2,202.0 354.2,202.7 354.3,202.8 354.4,200.8 354.5,201.0 354.5,201.6 354.6,202.8 354.7,201.5 354.7,201.0 354.8,200.9 354.9,201.9 355.0,203.6 355.0,201.1 355.1,203.1 355.2,201.0 355.2,202.5 355.3,201.4 355.4,199.7 355.5,201.2 355.5,197.2 355.6,202.4 355.7,201.2 355.7,201.4 355.8,198.4 355.9,196.6 356.0,199.1 356.0,198.0 356.1,197.3 356.2,197.3 356.2,197.5 356.3,198.8 356.4,198.1 356.5,197.8 356.5,196.6 356.6,195.9 356.7,198.8 356.7,196.8 356.8,195.3 356.9,194.5 357.0,193.9 357.0,192.5 357.1,194.4 357.2,193.4 357.2,192.8 357.3,193.2 357.4,190.3 357.5,190.3 357.5,190.3 357.6,190.3 357.7,191.3 357.7,190.3 357.8,192.3 357.9,192.5 358.0,190.3 358.0,190.3 358.1,191.3 358.2,191.8 358.2,190.3 358.3,191.1 358.4,192.4 358.5,191.9 358.5,194.5 358.6,194.1 358.7,194.6 358.7,195.1 358.8,194.4 358.9,194.6 359.0,195.1 359.0,195.1 359.1,195.1 359.2,195.1 359.2,195.1 359.3,195.1 359.4,195.1 359.5,195.1 359.5,195.1 359.6,195.1 359.7,195.1 359.7,193.7 359.8,194.4 359.9,192.0 360.0,190.5 360.0,192.8 360.1,193.9 360.2,191.8 360.3,190.3 360.3,194.9 360.4,193.7 360.5,194.3 360.5,192.7 360.6,191.0 360.7,192.0 360.8,192.1 360.8,194.6 360.9,193.3 361.0,195.1 361.0,194.0 361.1,193.8 361.2,193.3 361.3,195.0 361.3,194.8 361.4,194.7 361.5,195.1 361.5,195.1 361.6,195.1 361.7,194.3 361.8,192.5 361.8,194.3 361.9,193.8 362.0,192.8 362.0,192.8 362.1,194.1 362.2,193.7 362.3,195.3 362.3,194.0 362.4,195.4 362.5,194.9 362.5,197.3 362.6,197.5 362.7,196.2 362.8,199.3 362.8,198.8 362.9,197.5 363.0,199.1 363.0,200.3 363.1,201.2 363.2,199.7 363.3,202.6 363.3,202.6 363.4,201.5 363.5,202.6 363.5,202.6 363.6,202.6 363.7,202.6 363.8,202.6 363.8,202.6 363.9,202.6 364.0,202.6 364.0,200.6 364.1,202.6 364.2,202.6 364.3,201.0 364.3,202.6 364.4,201.2 364.5,200.3 364.5,200.3 364.6,202.2 364.7,200.3 364.8,201.3 364.8,200.3 364.9,205.0 365.0,203.4 365.0,201.4 365.1,204.6 365.2,202.6 365.3,206.1 365.3,204.1 365.4,206.4 365.5,208.8 365.5,209.7 365.6,209.2 365.7,207.2 365.8,208.3 365.8,210.4 365.9,205.4 366.0,211.2 366.0,210.2 366.1,208.2 366.2,211.0 366.2,211.2 366.3,212.4 366.4,211.5 366.5,210.8 366.5,212.6 366.6,216.0 366.7,213.2 366.7,215.8 366.8,215.7 366.9,214.3 367.0,214.7 367.0,216.2 367.1,217.5 367.2,217.5 367.2,219.0 367.3,217.7 367.4,221.9 367.5,221.4 367.5,221.3 367.6,220.8 367.7,221.2 367.7,220.2 367.8,221.9 367.9,220.1 368.0,219.2 368.0,219.7 368.1,220.6 368.2,218.8 368.2,219.6 368.3,216.7 368.4,219.1 368.5,217.1 368.5,215.0 368.6,213.1 368.7,212.6 368.7,213.8 368.8,213.1 368.9,212.0 369.0,212.5 369.0,208.9 369.1,207.4 369.2,207.2 369.2,208.9 369.3,208.2 369.4,208.9 369.5,207.7 369.5,207.1 369.6,205.5 369.7,205.7 369.7,206.4 369.8,202.6 369.9,203.0 370.0,204.2 370.0,202.8 370.1,203.0 370.2,204.8 370.2,202.9 370.3,201.4 370.4,199.4 370.5,199.0 370.5,199.2 370.6,198.1 370.7,197.3 370.7,199.7 370.8,198.8 370.9,199.8 371.0,200.0 371.0,200.7 371.1,201.5 371.2,203.3 371.2,201.7 371.3,201.0 371.4,201.2 371.5,201.9 371.5,201.6 371.6,199.5 371.7,202.3 371.7,198.8 371.8,203.0 371.9,204.8 372.0,203.4 372.0,203.6 372.1,205.0 372.2,205.7 372.2,207.5 372.3,208.8 372.4,208.2 372.5,209.6 372.5,211.4 372.6,208.8 372.7,208.6 372.7,211.9 372.8,213.3 372.9,214.0 373.0,215.4 373.0,214.7 373.1,214.0 373.2,214.8 373.2,217.5 373.3,218.8 373.4,216.8 373.5,214.7 373.5,219.4 373.6,218.5 373.7,218.0 373.8,219.4 373.8,220.5 373.9,219.0 374.0,218.5 374.0,219.7 374.1,214.7 374.2,212.3 374.2,215.6 374.3,212.7 374.4,213.7 374.5,212.4 374.5,209.5 374.6,210.5 374.7,210.3 374.7,211.1 374.8,207.6 374.9,207.9 375.0,206.0 375.0,204.8 375.1,205.2 375.2,206.3 375.2,204.6 375.3,204.9 375.4,202.9 375.5,202.1 375.5,203.2 375.6,202.5 375.7,200.6 375.7,196.7 375.8,198.7 375.9,195.8 376.0,194.1 376.0,191.8 376.1,191.0 376.2,190.2 376.2,190.8 376.3,186.7 376.4,187.5 376.5,185.3 376.5,186.8 376.6,181.2 376.7,180.3 376.7,180.7 376.8,180.3 376.9,181.9 377.0,183.5 377.0,182.9 377.1,180.3 377.2,181.5 377.3,181.4 377.3,182.4 377.4,180.3 377.5,181.8 377.5,180.3 377.6,182.4 377.7,182.6 377.8,181.6 377.8,182.3 377.9,185.7 378.0,184.6 378.0,184.0 378.1,186.4 378.2,184.1 378.3,185.4 378.3,185.8 378.4,187.9 378.5,184.7 378.6,184.1 378.6,183.9 378.7,187.3 378.8,185.8 378.8,183.4 378.9,187.9 379.0,188.2 379.1,190.0 379.1,190.1 379.2,189.9 379.3,188.0 379.3,190.1 379.4,188.0 379.5,184.4 379.6,186.6 379.6,186.7 379.7,188.3 379.8,188.1 379.9,188.0 379.9,187.3 380.0,188.8 380.1,189.6 380.1,189.3 380.2,187.2 380.3,183.9 380.4,183.8 380.4,183.8 380.5,183.1 380.6,181.6 380.7,186.1 380.7,182.7 380.8,181.6 380.9,185.8 380.9,183.0 381.0,182.1 381.1,183.2 381.2,185.1 381.2,181.6 381.3,181.8 381.4,181.6 381.5,183.6 381.5,183.9 381.6,183.9 381.7,181.6 381.8,185.5 381.8,184.5 381.9,182.5 382.0,181.7 382.0,179.1 382.1,178.7 382.2,180.5 382.3,176.7 382.4,175.9 382.4,174.0 382.5,171.3 382.6,171.9 382.6,172.2 382.7,170.6 382.8,172.6 382.9,172.5 382.9,172.6 383.0,171.3 383.1,167.8 383.1,169.7 383.2,166.5 383.3,168.6 383.4,165.2 383.4,167.7 383.5,168.7 383.6,166.5 383.7,168.5 383.7,167.4 383.8,167.4 383.9,166.9 383.9,167.8 384.0,168.4 384.1,166.5 384.2,166.5 384.2,166.7 384.3,167.9 384.4,166.7 384.4,169.7 384.5,168.4 384.6,167.6 384.7,168.8 384.7,169.4 384.8,166.8 384.9,165.5 385.0,165.9 385.0,167.9 385.1,166.1 385.2,162.8 385.2,162.8 385.3,162.8 385.4,162.8 385.5,162.8 385.5,162.8 385.6,163.8 385.7,162.8 385.7,163.5 385.8,164.4 385.9,164.7 386.0,164.2 386.0,162.8 386.1,162.8 386.2,165.3 386.3,166.9 386.3,165.4 386.4,166.9 386.5,167.0 386.6,165.0 386.6,165.0 386.7,167.2 386.8,167.4 386.8,166.8 386.9,166.2 387.0,172.7 387.1,172.0 387.1,172.7 387.2,170.4 387.3,171.5 387.4,172.7 387.4,172.7 387.5,173.8 387.6,172.1 387.6,170.8 387.7,171.3 387.8,172.6 387.9,172.3 387.9,170.0 388.0,168.9 388.1,169.3 388.1,169.3 388.2,172.0 388.3,168.4 388.4,167.3 388.4,165.5 388.5,165.8 388.6,163.0 388.6,162.5 388.7,159.0 388.8,160.0 388.9,157.7 388.9,157.1 389.0,156.2 389.1,155.3 389.1,155.3 389.2,155.3 389.3,158.2 389.4,157.3 389.4,156.4 389.5,155.9 389.6,158.2 389.7,155.3 389.7,155.3 389.8,157.7 389.9,157.3 389.9,157.8 390.0,158.2 390.1,157.3 390.2,158.2 390.2,158.2 390.3,158.2 390.4,158.2 390.4,158.2 390.5,158.0 390.6,155.6 390.7,158.2 390.7,157.6 390.8,158.2 390.9,158.2 391.0,158.2 391.0,158.2 391.1,158.2 391.2,158.2 391.2,157.2 391.3,157.7 391.4,155.9 391.5,157.1 391.5,157.7 391.6,156.6 391.7,157.2 391.7,156.6 391.8,158.2 391.9,158.2 392.0,158.2 392.0,158.2 392.1,158.2 392.2,156.1 392.3,158.2 392.3,158.2 392.4,158.2 392.5,158.2 392.5,158.2 392.6,158.2 392.7,158.2 392.8,158.2 392.8,158.2 392.9,158.2 393.0,158.2 393.0,158.2 393.1,158.2 393.2,158.2 393.3,158.2 393.3,158.2 393.4,158.2 393.5,158.2 393.6,158.2 393.6,158.2 393.7,158.2 393.8,158.2 393.8,158.2 393.9,158.2 394.0,158.2 394.1,158.2 394.1,158.2 394.2,158.2 394.3,158.2 394.3,158.2 394.4,158.2 394.5,158.2 394.6,158.2 394.6,158.2 394.7,158.2 394.8,158.2 394.9,158.2 394.9,158.2 395.0,156.9 395.1,157.4 395.1,158.8 395.2,156.0 395.3,158.9 395.4,160.3 395.4,161.1 395.5,157.9 395.6,159.3 395.7,162.0 395.7,162.0 395.8,167.4 395.9,164.5 396.0,166.4 396.0,166.3 396.1,168.8 396.2,168.0 396.2,167.5 396.3,166.6 396.4,170.1 396.5,168.8 396.5,169.3 396.6,169.4 396.7,168.0 396.8,168.3 396.8,166.6 396.9,166.6 397.0,166.6 397.0,166.6 397.1,166.6 397.2,166.6 397.2,166.6 397.3,166.6 397.4,166.6 397.5,167.6 397.5,167.6 397.6,166.6 397.7,166.6 397.8,166.6 397.8,166.6 397.9,166.6 398.0,166.6 398.0,166.6 398.1,170.1 398.2,166.6 398.2,166.6 398.3,166.6 398.4,168.7 398.5,166.9 398.5,169.2 398.6,168.3 398.7,166.6 398.8,168.8 398.8,170.1 398.9,170.1 399.0,169.1 399.0,170.1 399.1,170.1 399.2,169.1 399.3,167.3 399.3,170.1 399.4,170.0 399.5,170.1 399.5,169.8 399.6,167.7 399.7,168.0 399.8,168.2 399.8,166.2 399.9,164.5 400.0,164.2 400.0,163.8 400.1,163.7 400.2,166.1 400.3,162.4 400.3,164.1 400.4,163.4 400.5,163.8 400.5,163.6 400.6,163.3 400.7,163.9 400.8,165.7 400.8,161.8 400.9,161.2 401.0,162.4 401.0,164.5 401.1,164.2 401.2,164.1 401.3,167.4 401.3,169.1 401.4,163.0 401.5,167.1 401.5,169.2 401.6,165.6 401.7,171.4 401.8,171.4 401.8,174.7 401.9,175.0 402.0,175.5 402.0,174.1 402.1,174.3 402.2,176.3 402.3,177.6 402.3,176.8 402.4,174.5 402.5,174.4 402.5,174.1 402.6,174.7 402.7,177.5 402.7,177.1 402.8,177.4 402.9,178.4 403.0,178.4 403.0,179.0 403.1,178.7 403.2,177.2 403.2,174.2 403.3,175.8 403.4,176.4 403.5,178.0 403.5,176.0 403.6,175.3 403.7,174.9 403.7,173.0 403.8,172.5 403.9,172.2 404.0,175.5 404.0,170.5 404.1,172.8 404.2,172.4 404.2,172.0 404.3,170.5 404.4,169.7 404.5,168.9 404.5,171.8 404.6,170.7 404.7,167.2 404.7,166.3 404.8,172.3 404.9,172.2 405.0,174.0 405.0,173.2 405.1,172.8 405.2,170.4 405.2,170.6 405.3,167.1 405.4,168.7 405.5,167.9 405.5,165.3 405.6,166.2 405.7,165.6 405.7,167.4 405.8,166.8 405.9,165.0 406.0,163.9 406.0,162.1 406.1,164.2 406.2,164.0 406.2,158.9 406.3,159.7 406.4,157.5 406.5,159.9 406.5,156.7 406.6,158.8 406.7,155.3 406.7,158.6 406.8,154.5 406.9,156.2 407.0,153.1 407.0,151.0 407.1,153.7 407.2,156.2 407.2,151.4 407.3,154.2 407.4,154.8 407.5,152.1 407.5,156.4 407.6,153.4 407.7,152.6 407.7,152.0 407.8,153.3 407.9,149.5 408.0,149.1 408.0,150.3 408.1,150.0 408.2,151.0 408.2,150.1 408.3,152.6 408.4,152.6 408.5,152.6 408.5,152.6 408.6,150.6 408.7,152.6 408.7,152.0 408.8,152.6 408.9,152.1 409.0,152.6 409.0,152.6 409.1,151.1 409.2,149.5 409.2,150.7 409.3,149.8 409.4,150.6 409.5,149.1 409.5,149.3 409.6,149.6 409.7,150.1 409.7,149.6 409.8,149.1 409.9,151.6 410.0,149.1 410.0,149.1 410.1,149.1 410.2,149.1 410.2,149.9 410.3,149.1 410.4,149.1 410.5,149.5 410.5,150.3 410.6,151.2 410.7,152.7 410.7,154.1 410.8,156.7 410.9,155.2 411.0,157.2 411.0,155.7 411.1,155.1 411.2,162.4 411.2,162.6 411.3,163.8 411.4,162.7 411.5,165.8 411.5,167.0 411.6,166.7 411.7,169.7 411.8,168.1 411.8,170.6 411.9,171.3 412.0,171.2 412.0,172.5 412.1,171.6 412.2,171.1 412.3,174.5 412.3,173.4 412.4,172.9 412.5,173.9 412.5,176.5 412.6,176.5 412.7,176.9 412.8,177.1 412.8,174.8 412.9,178.2 413.0,178.8 413.0,177.7 413.1,175.8 413.2,177.7 413.3,174.4 413.3,175.9 413.4,177.5 413.5,176.1 413.5,174.0 413.6,174.5 413.7,172.3 413.8,169.8 413.8,171.9 413.9,172.7 414.0,172.0 414.1,168.1 414.1,168.7 414.2,166.6 414.3,168.1 414.4,165.4 414.4,167.1 414.5,167.0 414.6,166.8 414.6,163.9 414.7,165.7 414.8,162.5 414.9,165.1 414.9,159.7 415.0,156.4 415.1,157.8 415.2,155.7 415.2,165.1 415.3,161.8 415.4,160.6 415.5,157.3 415.5,158.6 415.6,156.2 415.7,157.6 415.7,156.7 415.8,157.6 415.9,155.7 416.0,155.0 416.0,153.5 416.1,154.1 416.2,153.5 416.2,155.3 416.3,155.6 416.4,153.5 416.5,154.7 416.5,153.5 416.6,155.4 416.7,155.4 416.7,157.5 416.8,157.6 416.9,153.5 417.0,154.2 417.0,153.5 417.1,153.5 417.2,155.9 417.2,153.5 417.3,153.5 417.4,153.5 417.5,154.0 417.5,155.2 417.6,155.3 417.7,155.0 417.7,155.7 417.8,153.5 417.9,153.5 418.0,153.5 418.0,155.1 418.1,154.4 418.2,155.3 418.2,153.5 418.3,153.9 418.4,152.9 418.5,151.5 418.5,149.1 418.6,153.5 418.7,151.4 418.8,148.8 418.8,146.2 418.9,149.3 419.0,145.4 419.0,144.9 419.1,141.6 419.2,143.2 419.3,142.0 419.3,145.5 419.4,142.5 419.5,140.4 419.5,143.8 419.6,143.8 419.7,143.8 419.8,143.2 419.8,141.8 419.9,143.5 420.0,137.6 420.0,140.4 420.1,140.1 420.2,138.0 420.3,134.4 420.3,135.2 420.4,134.4 420.5,135.9 420.5,134.4 420.6,134.4 420.7,134.4 420.8,134.5 420.8,134.9 420.9,134.4 421.0,134.4 421.0,134.4 421.1,134.4 421.2,134.4 421.3,134.4 421.3,134.4 421.4,134.9 421.5,136.5 421.5,137.5 421.6,134.7 421.7,134.8 421.8,137.6 421.8,137.0 421.9,135.3 422.0,136.2 422.0,137.0 422.1,139.2 422.2,137.3 422.3,142.3 422.3,144.9 422.4,143.9 422.5,145.0 422.5,150.0 422.6,152.0 422.7,150.6 422.7,149.7 422.8,150.0 422.9,151.9 423.0,155.8 423.0,155.3 423.1,157.0 423.2,155.8 423.2,156.2 423.3,158.3 423.4,153.5 423.5,152.4 423.5,152.9 423.6,151.7 423.7,151.7 423.7,147.4 423.8,152.8 423.9,151.8 424.0,147.1 424.0,147.8 424.1,151.0 424.2,146.7 424.2,144.7 424.3,146.2 424.4,143.8 424.5,143.1 424.5,148.4 424.6,143.3 424.7,139.9 424.7,139.2 424.8,144.1 424.9,141.8 425.0,139.4 425.0,138.4 425.1,139.6 425.2,138.8 425.2,135.0 425.3,138.7 425.4,134.8 425.5,135.7 425.5,134.3 425.6,134.0 425.7,134.8 425.7,133.1 425.8,137.8 425.9,140.1 426.0,139.2 426.0,143.3 426.1,147.4 426.2,146.5 426.2,145.3 426.3,151.9 426.4,152.0 426.5,150.9 426.5,153.7 426.6,152.6 426.7,156.7 426.7,156.9 426.8,157.2 426.9,159.3 427.0,159.9 427.0,160.8 427.1,161.0 427.2,161.6 427.2,157.4 427.3,157.3 427.4,157.0 427.5,155.3 427.5,153.0 427.6,156.3 427.7,154.1 427.7,153.1 427.8,154.1 427.9,156.8 428.0,152.6 428.0,150.2 428.1,148.1 428.2,149.8 428.2,150.4 428.3,143.0 428.4,144.2 428.5,142.3 428.5,143.9 428.6,142.9 428.7,142.6 428.8,140.0 428.8,137.7 428.9,140.0 429.0,139.6 429.0,138.6 429.1,135.8 429.2,137.8 429.3,137.5 429.3,134.2 429.4,130.9 429.5,130.9 429.6,132.4 429.6,127.9 429.7,125.3 429.8,125.7 429.9,125.5 429.9,127.2 430.0,125.0 430.1,126.3 430.1,126.3 430.2,126.3 430.3,125.7 430.4,126.3 430.4,126.3 430.5,125.4 430.6,125.4 430.6,126.3 430.7,126.3 430.8,126.3 430.9,126.3 430.9,126.3 431.0,126.3 431.1,126.3 431.1,125.1 431.2,126.3 431.3,126.3 431.4,126.3 431.4,126.3 431.5,124.8 431.6,124.5 431.6,124.4 431.7,124.4 431.8,119.8 431.9,118.7 431.9,121.4 432.0,117.3 432.1,118.2 432.1,115.8 432.2,116.0 432.3,115.4 432.4,117.3 432.4,117.7 432.5,115.0 432.6,111.6 432.6,114.8 432.7,112.6 432.8,107.8 432.9,111.6 432.9,106.8 433.0,106.3 433.1,102.1 433.1,101.9 433.2,104.1 433.3,103.3 433.4,105.0 433.4,104.2 433.5,104.7 433.6,104.9 433.6,103.6 433.7,103.9 433.8,102.1 433.9,101.6 433.9,105.1 434.0,101.6 434.1,102.4 434.1,101.6 434.2,103.3 434.3,101.6 434.4,101.6 434.4,106.1 434.5,101.6 434.6,102.3 434.6,101.6 434.7,101.6 434.8,101.6 434.9,102.6 434.9,103.3 435.0,102.5 435.1,103.8 435.1,101.9 435.2,99.7 435.3,99.7 435.4,101.8 435.4,100.9 435.5,102.9 435.6,103.8 435.7,101.6 435.7,103.8 435.8,103.8 435.9,103.4 435.9,102.1 436.0,102.7 436.1,101.7 436.2,102.1 436.2,99.7 436.3,100.6 436.4,101.6 436.5,99.7 436.5,99.7 436.6,100.6 436.7,101.0 436.7,100.1 436.8,100.2 436.9,103.7 437.0,102.3 437.0,101.9 437.1,100.4 437.2,99.7 437.2,100.6 437.3,103.8 437.4,110.5 437.5,120.0 437.6,122.8 437.6,123.6 437.7,122.8 437.8,125.6 437.9,126.4 437.9,128.8 438.0,128.5 438.1,130.7 438.2,133.0 438.2,135.2 438.3,134.4 438.4,138.8 438.5,136.0 438.5,135.0 438.6,138.4 438.7,138.8 438.8,137.5 438.8,138.1 438.9,137.7 439.0,138.7 439.0,136.8 439.1,135.3 439.2,135.3 439.2,135.3 439.3,135.3 439.4,135.3 439.5,135.3 439.5,137.1 439.6,135.9 439.7,135.3 439.8,135.3 439.8,135.3 439.9,135.3 440.0,135.3 440.0,135.6 440.1,135.3 440.2,135.3 440.2,135.3 440.3,135.3 440.4,135.3 440.5,135.3 440.5,135.3 440.6,135.3 440.7,137.7 440.8,137.9 440.8,135.3 440.9,135.6 441.0,135.3 441.0,136.1 441.1,135.3 441.2,135.9 441.2,136.2 441.3,136.2 441.4,135.3 441.5,133.3 441.5,133.4 441.6,133.6 441.7,132.8 441.7,134.8 441.8,134.7 441.9,134.9 442.0,136.9 442.0,133.7 442.1,135.4 442.2,136.4 442.2,136.5 442.3,136.5 442.4,133.2 442.5,131.6 442.5,134.8 442.6,131.3 442.7,130.6 442.7,128.0 442.8,126.6 442.9,125.6 443.0,127.5 443.0,125.2 443.1,125.0 443.2,120.0 443.2,120.4 443.3,124.0 443.4,122.6 443.5,122.5 443.5,122.5 443.6,123.0 443.7,122.4 443.7,122.3 443.8,117.7 443.9,118.6 444.0,117.9 444.0,118.3 444.1,117.4 444.2,120.7 444.2,118.9 444.3,114.6 444.4,116.2 444.5,111.6 444.5,112.1 444.6,113.4 444.7,115.7 444.8,111.9 444.8,112.5 444.9,114.6 445.0,111.0 445.0,113.7 445.1,114.0 445.2,113.4 445.3,113.6 445.3,113.3 445.4,111.7 445.5,114.6 445.5,113.5 445.6,111.5 445.7,112.7 445.8,112.2 445.8,117.2 445.9,112.6 446.0,118.5 446.0,117.4 446.1,116.6 446.2,113.5 446.3,117.6 446.3,117.4 446.4,117.4 446.5,118.0 446.5,117.3 446.6,120.2 446.7,121.0 446.8,122.7 446.8,124.0 446.9,125.0 447.0,128.6 447.0,127.7 447.1,129.7 447.2,129.2 447.3,130.8 447.3,132.9 447.4,132.5 447.5,131.7 447.5,131.2 447.6,134.2 447.7,137.0 447.7,138.9 447.8,136.6 447.9,138.6 448.0,140.9 448.0,138.8 448.1,140.0 448.2,141.0 448.2,155.4 448.3,139.1 448.4,150.8 448.5,162.2 448.5,163.8 448.6,165.0 448.7,175.8 448.7,180.3 448.8,187.6 448.9,184.8 448.9,196.6 449.0,200.0 449.1,201.3 449.1,199.8 449.2,198.7 449.3,200.0 449.4,193.1 449.4,190.8 449.5,187.8 449.6,196.0 449.6,192.8 449.7,190.7 449.8,191.0 449.9,192.8 449.9,186.6 450.0,187.5 450.1,183.2 450.1,186.2 450.2,186.7 450.3,184.7 450.4,184.9 450.4,175.3 450.5,182.2 450.6,174.8 450.7,180.2 450.7,174.1 450.8,188.8 450.9,177.5 451.0,181.2 451.0,174.1 451.1,174.1 451.2,178.3 451.3,175.7 451.3,174.1 451.4,175.0 451.5,176.3 451.5,175.1 451.6,166.0 451.7,167.4 451.8,162.8 451.8,161.7 451.9,160.0 452.0,159.1 452.0,156.2 452.1,153.3 452.2,160.2 452.3,149.5 452.3,148.0 452.4,144.0 452.5,144.1 452.5,146.1 452.6,141.7 452.7,136.5 452.8,141.6 452.8,134.0 452.9,133.7 453.0,134.9 453.0,135.8 453.1,138.1 453.2,138.5 453.3,132.8 453.3,138.1 453.4,136.1 453.5,138.4 453.5,140.4 453.6,142.6 453.7,140.5 453.8,142.1 453.8,145.1 453.9,140.8 454.0,145.3 454.0,146.7 454.1,143.6 454.2,146.7 454.3,151.5 454.3,153.4 454.4,152.5 454.5,153.8 454.5,152.2 454.6,150.6 454.7,153.8 454.8,152.3 454.8,145.0 454.9,145.1 455.0,146.1 455.0,140.7 455.1,145.8 455.2,138.0 455.3,142.4 455.3,143.3 455.4,141.6 455.5,142.1 455.5,141.3 455.6,140.5 455.7,144.8 455.8,145.6 455.8,140.2 455.9,137.8 456.0,142.0 456.0,138.0 456.1,142.1 456.2,141.5 456.3,138.5 456.3,135.9 456.4,135.9 456.5,134.8 456.5,138.6 456.6,136.1 456.7,134.1 456.8,139.3 456.8,136.7 456.9,135.0 457.0,134.1 457.0,137.7 457.1,137.1 457.2,139.8 457.3,136.6 457.3,140.9 457.4,137.3 457.5,137.9 457.5,139.0 457.6,140.8 457.7,141.4 457.8,142.2 457.8,142.2 457.9,142.4 458.0,144.6 458.0,144.9 458.1,149.4 458.2,151.9 458.3,149.1 458.3,149.8 458.4,150.9 458.5,148.4 458.5,152.7 458.6,152.1 458.7,150.9 458.8,157.6 458.8,154.7 458.9,154.2 459.0,154.0 459.0,154.5 459.1,154.5 459.2,157.3 459.3,157.7 459.3,155.5 459.4,156.9 459.5,157.1 459.5,152.0 459.6,149.1 459.7,150.1 459.8,150.5 459.8,150.8 459.9,148.3 460.0,144.6 460.0,144.4 460.1,144.6 460.2,142.3 460.2,143.6 460.3,138.9 460.4,139.0 460.5,136.6 460.5,131.6 460.6,132.5 460.7,130.9 460.7,129.0 460.8,129.8 460.9,125.9 461.0,124.0 461.0,123.0 461.1,124.1 461.2,127.9 461.2,121.1 461.3,121.7 461.4,121.5 461.5,111.6 461.5,115.0 461.6,114.0 461.7,113.1 461.8,112.3 461.8,106.6 461.9,107.5 462.0,106.6 462.0,106.6 462.1,106.6 462.2,111.8 462.3,106.6 462.3,108.5 462.4,111.5 462.5,109.5 462.5,112.4 462.6,114.0 462.7,115.2 462.8,107.9 462.8,114.5 462.9,110.8 463.0,108.1 463.0,110.0 463.1,112.1 463.2,112.6 463.3,113.6 463.3,111.2 463.4,112.5 463.5,114.6 463.5,115.1 463.6,110.6 463.7,115.5 463.8,116.6 463.8,110.1 463.9,116.3 464.0,117.0 464.0,117.0 464.1,116.7 464.2,119.9 464.3,117.1 464.3,121.3 464.4,120.0 464.5,119.4 464.5,115.1 464.6,119.6 464.7,121.3 464.8,121.3 464.8,121.3 464.9,121.3 465.0,121.3 465.0,113.2 465.1,119.8 465.2,119.1 465.3,114.6 465.3,116.0 465.4,115.2 465.5,111.1 465.5,111.9 465.6,111.3 465.7,108.9 465.8,113.5 465.8,110.0 465.9,110.5 466.0,109.9 466.0,114.1 466.1,111.6 466.2,111.2 466.3,108.4 466.3,111.3 466.4,106.3 466.5,111.2 466.5,105.0 466.6,103.6 466.7,105.7 466.8,103.0 466.8,101.6 466.9,102.5 467.0,98.5 467.0,99.5 467.1,98.9 467.2,98.5 467.3,100.4 467.3,96.8 467.4,98.5 467.5,96.1 467.5,98.2 467.6,97.3 467.7,99.5 467.8,99.9 467.8,99.5 467.9,95.8 468.0,100.6 468.0,92.4 468.1,95.1 468.2,95.6 468.3,90.9 468.3,95.4 468.4,92.1 468.5,92.4 468.5,89.8 468.6,91.6 468.7,92.3 468.8,90.0 468.8,85.2 468.9,81.7 469.0,80.5 469.0,82.9 469.1,80.3 469.2,80.9 469.3,77.1 469.3,79.2 469.4,79.2 469.5,73.5 469.6,73.5 469.6,73.5 469.7,73.5 469.8,79.4 469.9,78.4 469.9,74.1 470.0,74.4 470.1,73.9 470.1,73.5 470.2,75.7 470.3,73.5 470.4,73.5 470.4,73.5 470.5,76.4 470.6,78.8 470.6,79.0 470.7,82.1 470.8,85.1 470.9,84.6 470.9,85.8 471.0,84.6 471.1,88.8 471.1,88.8 471.2,88.8 471.3,88.8 471.4,88.8 471.4,88.8 471.5,88.8 471.6,88.8 471.6,86.1 471.7,87.5 471.8,83.1 471.9,84.0 471.9,88.8 472.0,81.1 472.1,81.6 472.1,88.8 472.2,86.3 472.3,87.3 472.4,84.9 472.4,83.6 472.5,87.5 472.6,88.4 472.6,90.5 472.7,90.2 472.8,91.1 472.9,95.8 472.9,94.5 473.0,93.4 473.1,96.4 473.2,95.1 473.2,94.9 473.3,91.0 473.4,92.9 473.4,92.7 473.5,97.9 473.6,92.6 473.7,90.6 473.7,95.8 473.8,92.4 473.9,93.7 474.0,94.3 474.0,94.8 474.1,97.2 474.2,97.4 474.3,97.4 474.3,99.1 474.4,100.0 474.5,101.3 474.5,98.2 474.6,94.5 474.7,92.2 474.8,95.8 474.8,95.9 474.9,95.9 475.0,94.5 475.1,92.9 475.1,91.7 475.2,92.9 475.3,90.9 475.3,90.5 475.4,92.4 475.5,92.1 475.6,89.2 475.6,91.5 475.7,85.1 475.8,86.4 475.9,84.4 475.9,87.8 476.0,83.7 476.1,85.4 476.1,92.5 476.2,91.6 476.3,92.4 476.4,98.2 476.4,95.2 476.5,98.4 476.6,102.5 476.7,100.2 476.8,103.5 476.8,102.1 476.9,106.3 477.0,105.4 477.0,105.3 477.1,105.6 477.2,105.3 477.3,107.9 477.3,105.9 477.4,107.7 477.5,111.4 477.5,109.9 477.6,112.3 477.7,114.6 477.7,116.3 477.8,115.7 477.9,113.7 478.0,116.3 478.0,116.3 478.1,115.0 478.2,112.3 478.2,111.3 478.3,109.9 478.4,109.3 478.5,108.4 478.5,108.1 478.6,102.5 478.7,105.3 478.8,103.3 478.8,110.8 478.9,109.6 479.0,110.1 479.1,107.1 479.1,109.3 479.2,109.0 479.3,106.3 479.3,108.3 479.4,103.2 479.5,103.1 479.6,107.0 479.6,104.4 479.7,103.7 479.8,102.7 479.9,98.3 479.9,96.0 480.0,96.9 480.1,99.2 480.1,98.9 480.2,102.9 480.3,104.5 480.4,109.9 480.4,104.5 480.5,109.4 480.6,113.2 480.7,117.0 480.7,113.6 480.8,117.7 480.9,118.8 481.0,122.6 481.0,122.9 481.1,124.5 481.2,127.5 481.2,126.3 481.3,122.5 481.4,120.2 481.5,124.3 481.5,124.2 481.6,127.5 481.7,126.7 481.7,127.5 481.8,122.5 481.9,123.8 482.0,123.1 482.0,122.5 482.1,124.6 482.2,123.4 482.2,119.7 482.3,117.1 482.4,112.5 482.5,113.5 482.5,118.3 482.6,115.2 482.7,111.6 482.7,111.6 482.8,113.7 482.9,111.6 483.0,117.7 483.0,113.1 483.1,112.5 483.2,113.8 483.2,114.9 483.3,114.0 483.4,115.5 483.5,121.4 483.5,119.3 483.6,120.5 483.7,120.8 483.7,124.2 483.8,123.9 483.9,118.8 484.0,124.8 484.0,122.0 484.1,127.5 484.2,125.1 484.2,125.9 484.3,125.8 484.4,121.9 484.5,127.5 484.5,125.7 484.6,126.3 484.7,122.7 484.7,120.9 484.8,122.8 484.9,119.6 485.0,119.3 485.0,111.0 485.1,119.5 485.2,112.7 485.2,113.4 485.3,112.8 485.4,115.3 485.5,111.8 485.5,109.1 485.6,106.3 485.7,106.2 485.7,107.5 485.8,95.5 485.9,94.6 486.0,94.3 486.0,95.2 486.1,94.2 486.2,94.1 486.2,96.5 486.3,88.0 486.4,88.1 486.5,91.2 486.5,91.0 486.6,77.9 486.7,83.1 486.8,80.7 486.8,80.6 486.9,77.5 487.0,76.6 487.0,76.6 487.1,87.6 487.2,82.0 487.3,78.8 487.3,86.8 487.4,89.9 487.5,85.7 487.5,89.8 487.6,91.3 487.7,90.9 487.7,93.1 487.8,99.0 487.9,98.7 488.0,103.7 488.0,100.4 488.1,102.5 488.2,104.9 488.2,104.2 488.3,107.5 488.4,109.1 488.5,104.7 488.5,114.6 488.6,105.8 488.7,113.4 488.8,110.7 488.8,114.3 488.9,116.7 489.0,113.9 489.1,109.6 489.1,116.6 489.2,119.2 489.3,125.4 489.3,119.3 489.4,123.0 489.5,123.2 489.6,127.7 489.6,135.2 489.7,130.4 489.8,135.2 489.9,134.4 489.9,131.3 490.0,135.0 490.1,134.2 490.1,132.7 490.2,136.3 490.3,128.4 490.4,128.9 490.4,131.7 490.5,130.6 490.6,128.0 490.7,124.1 490.7,121.0 490.8,125.6 490.9,123.8 491.0,109.6 491.0,109.5 491.1,108.6 491.2,107.5 491.2,105.0 491.3,100.2 491.4,98.4 491.5,95.7 491.5,102.2 491.6,94.7 491.7,100.1 491.7,97.4 491.8,95.4 491.9,96.6 492.0,89.4 492.0,97.4 492.1,94.5 492.2,87.8 492.2,98.3 492.3,97.0 492.4,89.1 492.5,93.1 492.5,90.0 492.6,91.7 492.7,91.9 492.7,87.2 492.8,90.7 492.9,85.9 493.0,81.7 493.0,83.3 493.1,77.5 493.2,76.6 493.2,84.6 493.3,80.8 493.4,87.9 493.5,95.5 493.5,88.5 493.6,79.1 493.7,85.9 493.8,93.3 493.8,93.0 493.9,95.7 494.0,87.2 494.1,95.1 494.1,107.0 494.2,99.8 494.3,102.2 494.3,109.1 494.4,109.5 494.5,109.0 494.6,100.1 494.6,109.0 494.7,111.1 494.8,108.4 494.9,113.9 494.9,117.5 495.0,116.3 495.1,110.3 495.1,113.4 495.2,111.5 495.3,112.3 495.4,107.3 495.4,107.8 495.5,108.6 495.6,112.6 495.7,103.5 495.7,109.6 495.8,106.1 495.9,99.1 495.9,102.5 496.0,101.5 496.1,98.9 496.2,96.8 496.2,98.3 496.3,94.9 496.4,95.5 496.5,93.2 496.5,89.0 496.6,85.7 496.7,84.1 496.8,81.6 496.8,81.6 496.9,82.5 497.0,83.6 497.0,86.3 497.1,84.0 497.2,82.8 497.3,90.4 497.3,81.6 497.4,81.6 497.5,91.4 497.5,82.5 497.6,87.5 497.7,82.4 497.8,84.7 497.8,86.9 497.9,84.9 498.0,90.3 498.0,85.4 498.1,89.9 498.2,94.3 498.3,91.7 498.3,94.8 498.4,98.4 498.5,103.6 498.5,93.7 498.6,100.8 498.7,101.7 498.8,103.7 498.8,105.0 498.9,102.3 499.0,98.8 499.0,95.4 499.1,100.0 499.2,99.4 499.3,92.9 499.3,92.6 499.4,99.5 499.5,93.2 499.5,96.4 499.6,97.3 499.7,95.1 499.8,98.4 499.8,99.1 499.9,97.0 500.0,94.4 500.1,91.6 500.1,90.8 500.2,89.7 500.3,92.1 500.3,92.4 500.4,96.7 500.5,95.4 500.6,90.1 500.6,94.5 500.7,89.7 500.8,90.5 500.9,94.3 500.9,93.3 501.0,90.6 501.1,92.5 501.1,91.1 501.2,97.4 501.3,96.1 501.4,89.7 501.4,99.6 501.5,105.7 501.6,98.0 501.7,99.7 501.7,103.0 501.8,103.6 501.9,108.3 501.9,110.8 502.0,106.7 502.1,110.3 502.2,111.8 502.2,107.9 502.3,111.7 502.4,107.7 502.4,113.9 502.5,114.8 502.6,113.1 502.7,115.0 502.7,111.6 502.8,115.1 502.9,113.6 503.0,119.9 503.0,115.5 503.1,120.0 503.2,121.3 503.2,121.3 503.3,117.4 503.4,115.8 503.5,116.9 503.5,118.2 503.6,116.2 503.7,119.5 503.8,110.5 503.8,105.3 503.9,110.1 504.0,107.5 504.1,106.5 504.1,103.3 504.2,105.2 504.3,105.2 504.3,105.9 504.4,102.3 504.5,101.7 504.6,100.2 504.6,92.8 504.7,94.7 504.8,91.7 504.9,94.2 504.9,90.3 505.0,91.2 505.1,85.5 505.1,89.6 505.2,88.3 505.3,89.4 505.4,92.5 505.4,85.0 505.5,84.0 505.6,79.7 505.6,83.1 505.7,80.0 505.8,81.6 505.9,79.7 505.9,88.2 506.0,79.7 506.1,79.7 506.1,79.7 506.2,79.7 506.3,82.8 506.4,80.5 506.4,83.2 506.5,79.7 506.6,79.7 506.6,81.0 506.7,82.4 506.8,88.0 506.9,83.2 506.9,89.5 507.0,84.7 507.1,83.3 507.1,85.4 507.2,82.5 507.3,83.0 507.4,83.8 507.4,79.7 507.5,80.6 507.6,80.0 507.6,84.7 507.7,79.7 507.8,79.7 507.9,82.7 507.9,84.1 508.0,88.3 508.1,87.8 508.2,86.7 508.2,85.1 508.3,88.6 508.4,88.0 508.4,88.6 508.5,83.6 508.6,81.9 508.7,95.1 508.7,91.5 508.8,91.4 508.9,89.0 509.0,101.3 509.0,100.3 509.1,101.3 509.2,94.2 509.3,98.6 509.3,96.9 509.4,100.0 509.5,99.1 509.5,99.4 509.6,103.2 509.7,106.7 509.8,106.4 509.8,104.8 509.9,101.2 510.0,101.9 510.0,103.6 510.1,105.8 510.2,99.8 510.3,102.9 510.3,101.1 510.4,106.8 510.5,104.4 510.5,103.1 510.6,106.0 510.7,103.0 510.8,110.0 510.8,106.7 510.9,109.1 511.0,110.0 511.0,108.2 511.1,109.6 511.2,109.2 511.3,110.5 511.3,109.9 511.4,110.5 511.5,110.6 511.5,112.5 511.6,112.5 511.7,112.1 511.8,108.9 511.8,112.5 511.9,111.2 512.0,111.0 512.0,112.6 512.1,114.9 512.2,114.9 512.3,115.6 512.3,113.6 512.4,119.2 512.5,118.2 512.5,117.8 512.6,122.4 512.7,121.2 512.8,120.7 512.8,120.3 512.9,122.6 513.0,126.0 513.0,121.0 513.1,122.7 513.2,119.6 513.3,126.4 513.3,122.6 513.4,125.3 513.5,128.1 513.5,126.9 513.6,127.9 513.7,126.5 513.8,127.5 513.8,125.6 513.9,126.6 514.0,130.5 514.0,130.1 514.1,130.1 514.2,131.6 514.3,134.1 514.3,134.4 514.4,133.1 514.5,129.5 514.5,131.0 514.6,130.2 514.7,126.3 514.8,133.3 514.8,124.4 514.9,124.5 515.0,126.3 515.0,122.4 515.1,122.6 515.2,118.4 515.2,121.4 515.3,117.4 515.4,121.3 515.5,118.3 515.5,110.7 515.6,111.2 515.7,111.1 515.7,108.1 515.8,111.2 515.9,108.3 516.0,112.5 516.0,112.5 516.1,110.4 516.2,111.3 516.2,111.7 516.3,112.5 516.4,112.5 516.5,111.1 516.5,112.5 516.6,112.5 516.7,112.4 516.7,112.5 516.8,112.5 516.9,112.5 517.0,110.5 517.0,110.9 517.1,111.2 517.2,112.4 517.2,112.5 517.3,112.5 517.4,112.5 517.5,112.5 517.5,112.5 517.6,112.5 517.7,112.5 517.7,112.5 517.8,112.5 517.9,112.5 518.0,107.5 518.0,107.6 518.1,108.5 518.2,102.4 518.2,104.4 518.3,100.3 518.4,103.2 518.5,101.2 518.5,101.5 518.6,100.8 518.7,102.5 518.8,97.5 518.8,96.6 518.9,96.6 519.0,96.6 519.0,96.6 519.1,96.6 519.2,101.4 519.2,98.3 519.3,103.5 519.4,104.3 519.5,99.9 519.5,102.8 519.6,101.7 519.7,98.7 519.7,101.9 519.8,105.9 519.9,102.9 520.0,103.8 520.0,105.7 520.1,98.0 520.2,102.8 520.2,102.2 520.3,99.4 520.4,103.9 520.5,108.2 520.5,105.0 520.6,107.5 520.7,105.3 520.7,108.5 520.8,102.9 520.9,101.8 521.0,101.7 521.0,98.5 521.1,101.6 521.2,102.1 521.3,105.3 521.3,103.4 521.4,103.9 521.5,101.5 521.5,99.7 521.6,104.7 521.7,102.5 521.8,100.4 521.8,102.4 521.9,102.0 522.0,101.5 522.1,103.3 522.1,100.5 522.2,99.1 522.3,96.6 522.4,99.3 522.4,96.8 522.5,97.5 522.6,98.8 522.6,95.9 522.7,92.1 522.8,98.8 522.9,95.3 522.9,97.2 523.0,97.9 523.1,94.2 523.1,97.6 523.2,95.4 523.3,95.4 523.4,89.6 523.4,90.2 523.5,87.7 523.6,89.4 523.6,90.6 523.7,85.3 523.8,91.0 523.9,87.3 523.9,85.6 524.0,87.2 524.1,96.8 524.1,94.0 524.2,92.5 524.3,87.9 524.4,89.8 524.4,84.2 524.5,85.0 524.6,82.7 524.6,84.4 524.7,82.7 524.8,79.6 524.9,82.0 524.9,78.5 525.0,79.4 525.1,84.2 525.1,88.0 525.2,83.1 525.3,82.6 525.4,88.6 525.4,88.3 525.5,89.5 525.6,89.8 525.7,91.6 525.7,93.7 525.8,94.4 525.9,97.4 526.0,97.4 526.0,99.0 526.1,101.1 526.2,105.6 526.2,105.0 526.3,106.9 526.4,107.9 526.5,112.4 526.5,118.5 526.6,121.4 526.7,119.8 526.7,124.1 526.8,128.2 526.9,127.3 527.0,129.9 527.0,130.7 527.1,135.0 527.2,134.6 527.2,131.1 527.3,132.0 527.4,130.4 527.5,131.2 527.5,124.1 527.6,127.0 527.7,126.3 527.7,128.6 527.8,126.0 527.9,122.1 528.0,117.6 528.0,117.7 528.1,115.9 528.2,116.1 528.2,115.5 528.3,118.6 528.4,119.2 528.5,115.0 528.5,117.1 528.6,112.2 528.7,114.4 528.8,111.2 528.8,112.2 528.9,106.5 529.0,108.6 529.0,105.6 529.1,100.7 529.2,103.6 529.3,101.4 529.3,100.7 529.4,100.2 529.5,103.2 529.6,105.4 529.6,101.0 529.7,104.2 529.8,104.8 529.9,100.7 529.9,101.3 530.0,97.5 530.1,96.6 530.1,96.6 530.2,98.4 530.3,101.1 530.4,99.5 530.4,106.0 530.5,101.6 530.6,102.9 530.6,96.6 530.7,100.3 530.8,96.6 530.9,98.0 530.9,96.6 531.0,98.2 531.1,96.6 531.1,96.6 531.2,96.6 531.3,102.1 531.4,102.2 531.4,100.4 531.5,102.7 531.6,99.9 531.6,103.0 531.7,105.5 531.8,109.5 531.9,107.8 531.9,112.1 532.0,109.5 532.1,108.5 532.1,113.2 532.2,111.4 532.3,111.7 532.4,114.3 532.4,114.4 532.5,115.0 532.6,114.1 532.6,115.8 532.7,114.1 532.8,114.1 532.9,114.1 532.9,114.1 533.0,115.5 533.1,114.1 533.1,115.9 533.2,114.1 533.3,114.1 533.4,118.1 533.4,115.8 533.5,121.3 533.6,121.5 533.6,121.1 533.7,121.7 533.8,122.4 533.9,123.2 533.9,124.0 534.0,127.5 534.1,121.4 534.1,119.1 534.2,121.8 534.3,124.2 534.4,125.5 534.4,123.7 534.5,123.6 534.6,125.7 534.6,121.1 534.7,120.0 534.8,122.4 534.9,124.0 534.9,124.7 535.0,126.3 535.1,125.3 535.1,127.4 535.2,131.6 535.3,128.8 535.4,130.0 535.4,134.6 535.5,129.5 535.6,133.9 535.7,130.2 535.7,131.5 535.8,132.3 535.9,131.6 536.0,135.8 536.0,132.8 536.1,134.4 536.2,135.3 536.2,132.3 536.3,133.3 536.4,131.6 536.5,132.2 536.5,135.1 536.6,132.9 536.7,134.7 536.8,138.7 536.8,135.7 536.9,141.2 537.0,139.7 537.0,140.2 537.1,138.8 537.2,139.4 537.3,139.2 537.3,137.6 537.4,136.8 537.5,132.7 537.5,135.7 537.6,132.9 537.7,133.5 537.8,132.2 537.8,130.5 537.9,133.0 538.0,131.0 538.0,131.9 538.1,129.1 538.2,133.8 538.3,130.2 538.3,132.8 538.4,130.7 538.5,133.9 538.5,132.8 538.6,129.1 538.7,129.1 538.8,130.0 538.8,134.1 538.9,130.9 539.0,132.3 539.0,132.6 539.1,136.4 539.2,134.0 539.3,135.7 539.3,143.8 539.4,137.7 539.5,136.5 539.6,139.9 539.6,142.8 539.7,140.5 539.8,136.4 539.9,140.4 539.9,136.5 540.0,142.5 540.1,146.5 540.1,142.0 540.2,148.2 540.3,149.3 540.4,148.8 540.4,150.7 540.5,154.8 540.6,157.6 540.7,159.6 540.7,158.7 540.8,160.5 540.9,161.9 541.0,159.8 541.0,163.2 541.1,163.2 541.2,162.2 541.2,161.9 541.3,162.0 541.4,163.2 541.5,162.9 541.5,155.6 541.6,158.3 541.7,157.7 541.7,158.0 541.8,153.6 541.9,151.9 542.0,157.7 542.0,154.1 542.1,154.7 542.2,152.4 542.2,151.4 542.3,153.3 542.4,154.4 542.5,156.7 542.5,151.0 542.6,148.9 542.7,155.3 542.7,147.8 542.8,149.5 542.9,152.3 543.0,144.1 543.0,146.0 543.1,145.0 543.2,146.3 543.2,141.5 543.3,140.2 543.4,143.2 543.5,145.2 543.5,146.0 543.6,146.3 543.7,146.3 543.8,144.6 543.8,144.2 543.9,144.2 544.0,145.3 544.0,145.5 544.1,143.2 544.2,146.3 544.3,140.5 544.3,141.3 544.4,136.4 544.5,138.4 544.6,137.1 544.6,138.2 544.7,134.1 544.8,136.9 544.9,134.1 544.9,136.4 545.0,135.0 545.1,135.4 545.1,135.5 545.2,136.3 545.3,130.0 545.4,130.9 545.4,131.2 545.5,128.8 545.6,130.1 545.6,127.2 545.7,125.9 545.8,131.8 545.9,127.6 545.9,126.2 546.0,124.4 546.1,128.0 546.1,126.7 546.2,127.0 546.3,131.7 546.4,137.6 546.4,130.9 546.5,135.4 546.6,133.5 546.7,137.0 546.7,136.5 546.8,138.6 546.9,140.6 547.0,142.0 547.0,139.6 547.1,143.8 547.2,139.1 547.2,142.5 547.3,138.7 547.4,141.0 547.5,139.3 547.5,138.0 547.6,137.1 547.7,137.1 547.8,137.1 547.8,137.1 547.9,138.0" fill="none" stroke="#228B22" stroke-width="2" stroke-linejoin="round"/>
</g>
<g clip-path="url(#c2)">
<polyline points="684.0,184.8 684.2,202.7 684.3,174.9 684.4,187.0 684.5,204.5 684.7,171.3 684.9,225.5 685.0,160.2 685.1,208.3 685.4,188.0 685.5,185.4 685.6,190.7 685.8,139.1 685.9,156.9 686.0,151.3 686.1,202.6 686.2,130.2 686.4,180.6 686.5,206.8 686.8,136.5 686.9,189.9 687.0,184.9 687.3,170.0 687.4,197.5 687.5,193.2 687.5,195.4 687.7,196.9 687.9,178.3 688.0,180.8 688.0,164.2 688.2,106.4 688.4,200.0 688.5,196.4 688.5,180.1 688.7,244.9 688.7,140.2 689.0,172.2 689.0,191.1 689.3,168.8 689.4,216.6 689.5,202.3 689.5,195.9 689.7,211.4 690.0,156.8 690.0,174.1 690.1,189.7 690.3,150.7 690.5,177.6 690.6,198.1 690.9,165.3 691.0,179.4 691.1,194.0 691.1,162.6 691.3,201.8 691.5,178.5 691.6,196.7 691.6,132.6 691.9,187.9 692.0,186.7 692.1,235.2 692.4,171.9 692.5,223.4 692.6,170.8 692.6,225.9 692.9,186.7 693.0,175.9 693.2,195.3 693.3,171.7 693.4,177.9 693.5,191.3 693.7,196.4 693.9,170.1 693.9,176.6 694.0,188.0 694.1,205.4 694.4,154.8 694.4,189.2 694.5,176.8 694.7,211.0 694.7,175.6 695.0,181.5 695.0,209.6 695.2,158.7 695.5,167.6 695.5,164.6 695.6,197.1 696.0,173.6 696.0,180.9 696.1,295.8 696.4,170.3 696.5,195.0 696.5,180.1 696.8,200.4 697.0,164.7 697.0,182.4 697.3,190.4 697.5,173.4 697.5,182.5 697.6,204.4 697.9,171.8 698.0,180.7 698.1,162.3 698.2,212.5 698.5,196.0 698.6,192.2 698.9,198.4 699.0,158.2 699.1,186.7 699.2,178.8 699.4,233.6 699.5,146.1 699.6,199.5 699.9,195.3 700.0,169.9 700.3,163.1 700.4,195.5 700.5,187.6 700.6,177.5 700.9,195.7 700.9,190.4 701.0,195.8 701.2,156.7 701.4,193.5 701.5,192.4 701.6,127.0 701.7,198.5 701.9,198.0 702.0,183.8 702.2,160.7 702.4,201.9 702.5,185.1 702.6,209.8 702.9,164.9 703.0,193.7 703.0,194.7 703.1,203.5 703.2,169.4 703.5,177.6 703.5,177.0 703.6,222.3 703.9,135.1 704.0,175.8 704.0,182.0 704.1,177.8 704.4,206.1 704.5,196.8 704.5,163.8 704.8,186.1 704.9,154.2 705.0,182.4 705.0,181.3 705.2,204.0 705.5,145.0 705.5,170.7 705.6,157.5 706.0,194.4 706.1,222.2 706.1,172.5 706.5,183.7 706.6,178.0 706.6,136.7 706.8,181.9 706.9,178.5 707.0,167.1 707.2,200.3 707.3,158.9 707.4,199.9 707.5,179.5 707.7,223.4 707.9,184.2 708.0,188.1 708.4,221.2 708.4,183.8 708.5,145.4 708.9,200.9 709.0,184.1 709.2,206.6 709.3,173.8 709.4,198.1 709.5,188.4 709.6,179.8 709.8,195.6 709.9,182.2 710.0,188.5 710.2,169.0 710.2,195.2 710.5,191.3 710.5,199.5 711.0,173.3 711.0,187.7 711.2,173.1 711.5,189.4 711.5,191.3 711.8,167.1 712.0,194.5 712.0,191.6 712.1,161.6 712.5,183.6 712.5,188.1 712.8,152.4 713.0,202.8 713.0,185.6 713.3,202.9 713.4,174.9 713.5,180.2 713.6,191.7 713.6,174.9 714.0,175.4 714.1,185.5 714.3,194.1 714.5,172.4 714.6,190.7 714.6,262.7 714.8,155.1 714.9,164.0 715.0,163.0 715.1,218.7 715.1,131.1 715.4,175.8 715.5,187.8 715.6,177.3 715.9,204.1 716.0,189.7 716.2,218.5 716.3,169.1 716.4,190.1 716.5,167.0 716.6,149.2 716.8,199.4 716.9,180.2 717.0,173.2 717.1,172.2 717.2,207.9 717.4,175.1 717.5,183.8 717.6,198.4 717.7,175.8 718.0,194.6 718.0,180.3 718.3,156.9 718.5,209.7 718.5,174.5 718.7,170.6 718.9,200.8 719.0,182.2 719.0,195.8 719.2,167.7 719.4,203.5 719.5,178.0 719.5,181.9 719.6,165.0 719.7,219.4 720.0,181.9 720.0,184.7 720.2,191.3 720.3,170.3 720.5,184.3 720.5,174.3 720.6,203.3 721.0,182.1 721.1,200.6 721.3,164.2 721.5,185.3 721.6,179.1 721.6,205.5 721.8,170.9 722.0,177.7 722.1,199.9 722.1,208.7 722.2,161.2 722.4,189.0 722.5,193.0 722.7,180.3 722.9,193.1 723.0,192.7 723.3,212.8 723.4,185.9 723.4,191.2 723.5,195.1 723.6,167.9 723.7,197.6 723.9,182.1 724.0,196.0 724.4,168.8 724.5,195.5 724.6,170.5 724.7,199.3 724.9,186.6 725.0,176.6 725.3,140.8 725.4,196.8 725.5,208.3 726.0,158.6 726.0,204.8 726.4,153.7 726.5,179.0 726.5,184.6 726.6,225.5 727.0,169.9 727.0,185.7 727.3,173.4 727.4,229.0 727.5,187.7 727.5,186.8 727.7,199.3 727.8,169.7 728.0,189.0 728.0,208.3 728.1,214.2 728.4,187.5 728.5,187.7 728.6,195.6 728.9,128.6 729.0,181.5 729.1,192.3 729.4,166.3 729.5,188.4 729.6,184.4 729.8,204.4 729.8,176.6 729.9,193.1 730.0,190.9 730.2,227.9 730.3,162.3 730.4,180.3 730.5,179.6 730.9,169.3 730.9,199.1 731.0,179.0 731.1,237.6 731.4,217.6 731.5,182.0 731.7,159.1 731.8,188.0 731.9,188.0 732.0,183.5 732.1,204.9 732.3,175.1 732.4,180.1 732.5,174.0 732.7,138.2 732.8,215.8 732.9,166.2 733.0,196.1 733.3,183.9 733.5,197.5 733.5,184.9 733.7,196.3 734.0,187.0 734.0,167.2 734.2,199.2 734.5,182.1 734.5,146.4 734.6,186.9 735.0,179.9 735.0,172.4 735.3,131.9 735.3,207.6 735.5,158.4 735.5,201.6 735.8,180.4 736.0,191.3 736.0,180.2 736.3,150.7 736.5,208.0 736.6,188.8 736.7,201.7 737.0,169.0 737.1,181.0 737.3,227.0 737.3,178.7 737.4,195.9 737.5,190.7 737.6,163.4 737.9,193.8 738.0,180.1 738.1,169.3 738.1,196.6 738.4,187.0 738.5,180.4 738.8,156.8 738.9,206.0 738.9,163.5 739.0,190.9 739.1,165.3 739.3,199.3 739.4,191.2 739.5,201.0 739.7,180.7 739.9,181.1 740.0,177.0 740.1,215.4 740.4,166.8 740.4,173.3 740.5,217.8 741.0,168.5 741.0,192.3 741.1,192.3 741.2,176.7 741.5,186.2 741.5,190.9 741.7,175.9 741.7,199.4 742.0,192.1 742.0,200.6 742.2,174.8 742.5,189.7 742.5,169.2 742.8,202.8 743.0,185.9 743.0,199.7 743.3,176.4 743.5,194.4 743.5,184.9 743.7,203.6 744.0,188.7 744.1,188.7 744.4,204.8 744.5,170.1 744.6,183.1 744.8,150.9 745.0,197.3 745.1,185.5 745.2,175.4 745.4,192.0 745.4,179.4 745.5,204.0 745.6,174.3 745.9,209.3 746.0,190.3 746.1,198.1 746.4,166.4 746.4,184.6 746.5,182.3 746.6,168.7 746.7,191.2 746.9,186.6 747.0,190.3 747.4,161.1 747.4,178.7 747.5,174.2 747.7,219.9 747.9,172.5 747.9,183.5 748.0,182.7 748.2,185.9 748.3,166.0 748.5,185.1 748.5,184.4 748.7,183.1 749.0,191.9 749.0,190.0 749.2,193.6 749.3,174.2 749.5,184.3 749.5,192.1 749.6,171.8 750.0,180.4 750.0,185.0 750.2,169.9 750.3,187.4 750.5,184.2 750.5,184.3 750.8,180.7 750.9,194.6 751.0,190.2 751.0,183.8 751.4,175.1 751.5,197.6 751.6,209.2 751.9,177.7 752.0,181.9 752.1,188.1 752.1,194.3 752.2,172.5 752.5,188.7 752.6,182.9 752.8,194.7 752.9,174.9 753.0,189.1 753.2,174.5 753.4,185.5 753.5,178.6 753.6,173.8 753.8,194.2 753.9,183.8 754.0,187.7 754.3,198.3 754.4,171.4 754.4,182.6 754.5,192.6 754.8,170.9 754.9,183.4 755.0,178.1 755.2,164.2 755.3,198.3 755.4,190.4 755.5,195.3 755.9,177.7 756.0,173.7 756.1,193.8 756.2,172.0 756.5,177.9 756.5,191.3 756.7,165.5 756.8,201.0 757.0,188.3 757.0,188.9 757.1,196.7 757.2,175.0 757.5,190.0 757.5,189.6 757.8,194.5 757.9,172.5 758.0,194.4 758.0,184.8 758.1,193.9 758.4,183.1 758.5,187.0 758.5,184.6 758.6,178.0 758.8,207.1 759.0,187.6 759.0,188.6 759.2,168.2 759.5,178.6 759.6,183.5 759.8,177.4 760.0,192.5 760.1,193.7 760.3,195.7 760.4,179.6 760.5,191.7 760.9,181.8 760.9,183.1 761.0,183.0 761.1,196.7 761.4,170.9 761.5,187.3 761.6,165.4 761.9,201.1 762.0,182.7 762.2,189.8 762.4,175.6 762.4,183.8 762.5,178.4 762.7,176.5 762.9,199.0 763.0,207.6 763.2,178.0 763.4,186.4 763.5,181.1 763.7,196.8 764.0,170.0 764.0,188.7 764.2,191.7 764.5,178.2 764.5,187.9 764.7,181.7 764.9,212.6 765.0,184.8 765.0,186.7 765.3,170.2 765.5,195.6 765.5,186.5 765.9,191.8 766.0,175.4 766.0,193.2 766.3,174.2 766.4,196.3 766.5,178.0 766.5,169.3 767.0,195.8 767.1,182.4 767.3,172.0 767.3,190.6 767.5,179.6 767.6,190.1 767.8,178.7 767.9,196.2 768.0,189.5 768.1,172.1 768.1,193.9 768.4,177.9 768.5,195.3 768.9,179.7 769.0,199.4 769.1,180.8 769.4,187.9 769.5,171.0 769.6,190.7 769.9,164.9 769.9,184.2 770.0,193.4 770.1,201.3 770.4,172.8 770.4,183.5 770.5,182.8 770.8,167.3 770.9,188.8 770.9,186.2 771.0,178.9 771.2,156.5 771.4,199.9 771.5,184.6 771.5,186.2 771.7,200.8 771.8,175.0 772.0,186.3 772.0,178.0 772.1,172.6 772.2,192.8 772.5,187.0 772.5,190.4 772.7,173.9 772.9,207.8 773.0,179.3 773.0,183.9 773.1,173.3 773.4,195.1 773.5,191.9 773.5,184.0 773.7,193.4 773.8,177.7 774.0,184.8 774.0,179.6 774.3,191.3 774.5,174.0 774.6,186.9 774.6,189.2 774.8,179.1 775.0,181.5 775.1,166.6 775.3,162.1 775.5,198.2 775.6,196.4 775.7,197.2 775.8,178.3 775.9,187.9 776.0,188.1 776.2,177.1 776.4,182.0 776.5,173.6 776.7,204.8 776.9,166.3 776.9,195.0 777.0,190.0 777.4,175.2 777.4,196.2 777.5,177.1 777.8,185.5 777.9,173.8 778.0,176.6 778.2,195.0 778.4,185.7 778.5,183.3 778.7,163.3 778.8,207.4 779.0,180.3 779.0,177.6 779.3,189.6 779.4,177.1 779.5,182.1 779.5,182.6 779.8,176.4 780.0,193.3 780.0,175.1 780.2,196.2 780.5,182.6 780.5,187.8 780.8,172.4 780.9,191.1 781.0,186.7 781.0,190.0 781.1,199.6 781.3,176.6 781.5,190.2 781.5,185.1 781.7,195.8 781.9,184.2 782.0,188.3 782.1,179.1 782.3,202.3 782.4,177.3 782.5,179.4 782.6,189.5 782.7,169.9 782.8,201.5 783.0,186.0 783.1,180.9 783.3,193.2 783.4,169.3 783.5,158.3 783.8,191.1 783.9,172.8 784.0,168.1 784.4,191.1 784.5,186.4 784.8,180.1 784.9,185.2 785.0,193.7 785.4,174.7 785.4,181.0 785.5,186.5 785.6,171.0 785.9,187.3 786.0,186.4 786.2,173.5 786.4,197.1 786.5,187.5 786.7,176.8 786.9,188.3 787.0,178.7 787.0,193.2 787.5,175.3 787.5,179.2 787.7,200.8 788.0,185.7 788.0,192.4 788.4,173.9 788.5,198.3 788.5,176.4 788.7,175.8 788.9,199.4 789.0,182.5 789.0,195.6 789.2,157.4 789.5,196.2 789.5,181.1 789.6,179.6 789.7,196.2 790.0,182.9 790.1,173.4 790.3,214.9 790.5,186.6 790.6,172.6 790.6,186.8 790.8,169.5 790.9,183.7 791.0,177.7 791.1,196.8 791.2,166.0 791.4,182.4 791.5,176.6 791.6,168.4 791.9,203.3 792.0,182.5 792.1,203.3 792.2,155.1 792.4,178.1 792.5,186.8 792.6,200.7 792.9,177.8 793.0,179.0 793.1,176.5 793.3,188.2 793.4,184.9 793.5,206.9 793.9,172.6 794.0,124.9 794.5,198.1 794.5,178.3 794.7,191.4 794.7,173.3 795.0,181.0 795.0,182.9 795.1,196.2 795.4,178.5 795.5,188.5 795.5,215.9 795.7,172.2 796.0,184.0 796.0,179.0 796.1,185.3 796.3,171.8 796.5,174.5 796.5,173.5 796.6,197.1 797.0,177.5 797.0,242.8 797.5,171.4 797.6,187.6 797.8,195.9 798.0,162.1 798.1,189.3 798.1,178.0 798.2,196.0 798.5,191.3 798.6,172.6 798.9,202.3 798.9,180.7 799.0,202.7 799.3,170.0 799.4,185.0 799.5,189.5 799.6,173.4 799.8,194.9 799.9,179.4 800.0,190.4 800.2,163.7 800.4,165.2 800.5,193.9 800.7,156.3 800.9,204.9 801.0,188.8 801.1,199.9 801.4,162.4 801.5,179.1 801.6,175.5 802.0,202.1 802.0,202.3 802.2,118.1 802.5,185.3 802.5,174.9 802.6,189.7 803.0,177.7 803.0,197.7 803.2,177.6 803.4,208.3 803.5,188.7 803.5,196.8 803.7,173.2 803.8,206.8 804.0,182.0 804.0,173.8 804.3,162.1 804.4,192.0 804.5,172.5 804.5,179.0 804.7,178.6 804.8,196.1 805.0,179.4 805.1,188.2 805.2,192.7 805.5,172.8 805.6,195.4 805.6,196.7 806.0,172.5 806.1,185.4 806.1,177.8 806.4,193.1 806.5,184.4 806.8,157.1 806.9,197.5 807.0,191.3 807.2,205.8 807.4,172.2 807.4,192.9 807.5,185.1 807.6,172.5 807.8,192.9 807.9,185.4 808.0,182.2 808.4,195.1 808.4,172.7 808.5,178.1 808.8,195.7 808.9,173.7 809.0,174.6 809.3,207.4 809.4,180.5 809.5,194.9 809.7,174.4 809.8,197.8 810.0,187.1 810.0,185.4 810.2,175.0 810.2,189.7 810.5,184.5 810.5,185.5 810.7,193.6 810.9,168.0 811.0,182.1 811.0,184.3 811.3,175.4 811.5,194.0 811.5,188.6 811.6,189.2 811.8,173.5 812.0,188.5 812.0,179.1 812.1,204.8 812.3,178.6 812.5,185.6 812.5,185.7 812.7,194.3 813.0,175.6 813.1,185.0 813.3,172.7 813.4,200.5 813.5,186.8 813.6,170.8 813.7,187.4 813.9,182.5 814.0,200.6 814.1,173.9 814.4,215.4 814.4,179.6 814.5,181.2 814.6,190.8 814.9,176.7 814.9,186.0 815.0,171.9 815.1,198.6 815.4,155.7 815.5,207.6 815.6,120.8 815.9,180.8 816.0,170.7 816.2,195.8 816.4,189.7 816.5,196.0 816.8,170.1 816.9,190.0 817.0,176.2 817.2,189.8 817.5,186.9 817.5,182.0 817.7,176.9 817.8,199.9 818.0,190.6 818.0,152.0 818.2,192.6 818.5,171.4 818.5,152.4 818.8,209.4 819.0,156.3 819.0,181.7 819.1,195.7 819.3,172.3 819.5,183.6 819.5,194.2 819.8,171.8 820.0,179.1 820.0,180.7 820.2,175.9 820.5,309.2 820.6,186.6 820.7,194.5 821.0,111.2 821.1,184.0 821.4,204.2 821.5,183.1 821.6,167.3 821.7,190.4 821.9,179.4 822.0,165.1 822.2,194.2 822.4,185.9 822.5,174.9 822.7,194.8 822.9,172.4 822.9,184.8 823.0,161.3 823.1,218.5 823.4,204.3 823.5,245.7 823.7,171.2 823.9,193.1 824.0,163.2 824.3,208.9 824.4,192.9 824.5,171.0 824.8,194.2 824.9,167.3 825.0,171.7 825.0,176.0 825.2,191.4 825.2,156.3 825.5,180.8 825.5,168.5 825.6,204.7 825.7,165.6 826.0,167.5 826.0,196.9 826.2,176.7 826.5,182.2 826.5,186.6 826.7,199.7 827.0,176.1 827.0,168.1 827.1,139.3 827.3,205.9 827.5,180.7 827.5,185.7 827.8,169.8 827.8,221.1 828.0,171.7 828.1,184.0 828.1,193.4 828.3,174.0 828.5,188.2 828.6,186.6 828.6,210.3 829.0,170.4 829.1,168.7 829.1,166.0 829.4,195.1 829.5,177.3 829.6,198.3 829.9,174.8 829.9,181.5 830.0,185.5 830.2,166.8 830.4,195.9 830.5,178.9 830.9,200.4 830.9,186.1 831.0,185.8 831.1,192.4 831.4,174.4 831.5,245.7 831.9,175.6 832.0,192.0 832.1,173.3 832.2,198.6 832.5,185.4 832.5,177.0 832.7,208.9 832.8,169.0 833.0,180.5 833.0,187.8 833.4,197.6 833.5,175.5 833.5,199.0 833.8,119.2 834.0,179.2 834.0,183.3 834.3,212.7 834.5,165.7 834.5,191.9 834.6,167.7 835.0,199.9 835.0,173.4 835.1,154.5 835.2,206.1 835.5,169.5 835.6,195.6 835.8,177.4 835.9,212.0 836.0,181.1 836.1,185.8 836.1,175.2 836.5,208.0 836.6,190.9 836.6,197.5 836.7,169.5 836.9,188.4 837.0,179.8 837.2,173.9 837.4,184.6 837.5,186.4 837.8,181.0 837.9,197.6 837.9,181.6 838.0,179.0 838.3,187.0 838.4,164.5 838.5,181.0 838.8,196.7 838.9,179.0 839.0,186.9 839.2,212.9 839.4,174.4 839.4,198.9 839.5,183.0 839.6,170.7 839.8,200.5 839.9,174.7 840.0,186.4 840.4,175.2 840.5,190.1 840.5,251.2 840.9,169.7 841.0,195.0 841.0,239.4 841.3,175.7 841.5,221.3 841.5,179.3 841.7,162.4 841.8,204.0 842.0,165.1 842.0,104.8 842.5,199.0 842.5,199.0 842.6,162.3 842.9,206.4 843.0,184.6 843.0,190.1 843.3,169.4 843.4,212.3 843.5,189.9 843.6,157.8 843.8,141.9 843.9,220.4 844.0,212.5 844.1,218.5 844.3,176.3 844.4,192.6 844.5,233.7 844.7,157.7 844.9,213.1 845.0,201.8 845.2,216.0 845.3,128.6 845.4,173.3 845.5,162.9 845.6,206.7 845.9,169.9 846.0,186.5 846.1,178.8 846.1,249.7 846.4,210.7 846.5,198.3 846.7,159.4 846.9,208.7 846.9,196.6 847.0,178.6 847.4,148.5 847.4,195.1 847.5,188.1 847.6,220.9 847.7,162.5 848.0,165.6 848.0,168.5 848.2,303.0 848.2,163.9 848.5,168.7 848.5,195.6 848.7,249.5 848.7,150.2 849.0,178.8 849.0,189.5 849.3,161.3 849.3,208.6 849.5,190.6 849.5,186.7 849.8,160.3 849.8,245.7 850.0,181.2 850.0,195.9 850.1,231.1 850.2,180.5 850.5,187.0 850.5,210.2 850.7,136.7 851.0,185.1 851.1,181.3 851.1,224.9 851.2,158.4 851.5,160.6 851.6,150.1 851.6,194.9 852.0,186.6 852.1,202.0 852.2,240.5 852.4,184.1 852.4,189.2 852.5,200.9 852.9,156.4 853.0,197.5 853.4,221.4 853.4,185.6 853.5,211.3 853.8,240.1 853.9,165.6 854.0,177.3 854.1,161.5 854.2,202.6 854.4,171.7 854.5,182.3 854.6,152.0 854.7,201.1 854.9,195.8 855.0,192.7 855.4,168.7 855.5,209.8 855.5,155.8 855.7,207.2 856.0,183.1 856.0,216.8 856.4,133.0 856.5,185.2 856.5,173.1 856.8,190.4 857.0,154.1 857.0,177.9 857.4,197.0 857.5,160.5 857.5,184.2 857.9,166.1 858.0,196.1 858.0,181.5 858.3,197.2 858.5,164.0 858.6,156.7 858.8,205.0 859.0,190.4 859.1,141.6 859.5,216.1 859.6,173.1 859.6,197.7 859.8,168.7 859.9,186.7 860.0,158.6 860.1,215.6 860.3,148.6 860.4,214.1 860.5,181.0 860.6,196.7 860.9,165.6 861.0,174.4 861.1,165.3 861.4,202.8 861.4,184.5 861.5,185.0 861.7,208.0 861.9,162.4 861.9,174.6 862.0,200.2 862.4,168.9 862.5,187.0 862.9,200.9 863.0,174.2 863.4,189.3 863.5,183.1 863.5,176.7 863.7,220.6 863.9,170.2 864.0,203.3 864.0,204.6 864.5,172.0 864.5,189.0 864.8,200.7 864.8,173.3 865.0,185.1 865.0,189.7 865.2,174.0 865.3,192.3 865.5,177.8 865.5,178.5 865.9,170.6 866.0,196.9 866.1,170.9 866.3,183.5 866.4,154.2 866.5,183.0 866.6,210.7 866.7,174.9 867.0,184.7 867.1,188.8 867.1,168.9 867.2,202.6 867.4,183.7 867.5,193.6 867.6,197.5 867.8,173.9 867.9,179.0 868.0,191.2 868.3,195.9 868.4,174.5 868.4,185.8 868.5,214.2 868.6,182.5 868.9,188.1 869.0,188.9 869.1,156.2 869.2,201.5 869.4,179.1 869.5,196.2 869.7,176.9 869.9,178.9 870.0,167.3 870.4,201.6 870.4,194.2 870.5,186.1 870.7,178.1 871.0,202.0 871.0,184.8 871.3,200.7 871.4,170.5 871.5,182.0 871.5,170.2 871.7,215.5 871.9,138.7 872.0,175.4 872.0,202.7 872.2,179.0 872.5,212.1 872.5,174.9 873.0,220.7 873.0,183.4 873.3,192.1 873.3,175.3 873.5,190.0 873.5,171.0 873.7,199.8 874.0,180.2 874.1,165.4 874.3,189.8 874.5,161.3 874.6,185.6 874.8,171.2 874.9,194.6 875.0,200.3 875.2,203.1 875.3,171.9 875.4,173.5 875.5,196.5 875.6,179.6 875.9,179.9 876.0,187.8 876.1,192.8 876.4,172.6 876.5,176.5 876.6,169.2 876.8,195.9 876.9,184.5 877.0,180.5 877.4,178.2 877.4,200.0 877.5,196.1 877.9,175.9 877.9,197.5 878.0,189.2 878.2,179.8 878.4,203.0 878.5,195.7 878.5,177.1 878.7,189.3 878.7,172.4 879.0,185.9 879.0,183.9 879.2,191.7 879.3,160.3 879.5,177.0 879.5,182.3 879.8,176.6 879.9,196.4 880.0,194.5 880.0,179.1 880.1,194.1 880.3,160.2 880.5,188.9 880.5,187.4 880.6,177.9 880.8,190.7 881.0,178.9 881.0,175.1 881.1,202.1 881.4,165.4 881.5,192.1 881.6,184.2 881.9,191.2 882.0,170.8 882.1,183.4 882.3,190.0 882.5,164.0 882.6,189.1 882.6,174.1 882.9,195.9 882.9,185.1 883.0,187.8 883.4,199.1 883.4,169.4 883.5,189.9 883.6,198.9 883.6,181.8 883.9,190.2 884.0,190.6 884.1,198.0 884.2,177.8 884.4,193.0 884.5,191.2 884.6,175.1 884.9,177.5 885.0,179.5 885.2,193.2 885.4,178.7 885.4,183.6 885.5,178.4 885.7,178.2 885.8,203.1 886.0,192.8 886.0,190.3 886.1,169.3 886.5,169.6 886.5,210.1 886.7,181.0 887.0,184.4 887.0,184.6 887.2,172.8 887.3,207.8 887.5,186.4 887.5,183.6 887.7,182.5 887.8,199.6 888.0,190.8 888.0,175.4 888.2,173.5 888.4,196.0 888.5,181.9 888.5,176.0 888.6,203.5 889.0,201.7 889.1,178.1 889.1,203.1 889.3,176.9 889.5,185.7 889.6,193.3 889.6,178.0 890.0,187.7 890.1,189.2 890.2,194.3 890.3,170.5 890.4,189.9 890.5,191.4 890.7,178.0 890.9,192.3 890.9,191.2 891.0,179.4 891.1,175.6 891.2,217.3 891.4,179.6 891.5,203.1 891.8,156.4 891.9,170.4 892.0,200.1 892.1,159.4 892.3,219.9 892.4,178.3 892.5,192.7 892.6,196.2 892.9,179.5 893.0,190.3 893.2,202.1 893.3,169.6 893.4,182.0 893.5,177.4 893.8,168.5 894.0,199.8 894.0,159.9 894.4,217.9 894.5,188.7 894.5,199.4 894.7,207.1 894.9,184.6 895.0,201.7 895.0,173.6 895.1,163.8 895.3,210.0 895.5,179.2 895.5,188.2 895.6,181.8 896.0,205.3 896.0,174.2 896.3,199.9 896.5,190.8 896.5,165.5 896.7,215.4 897.0,155.8 897.1,196.7 897.2,213.2 897.3,138.7 897.5,198.5 897.6,193.9 897.8,194.6 897.9,168.8 898.0,186.2 898.3,174.4 898.4,196.7 898.5,175.5 898.6,203.5 898.9,191.6 899.0,178.5 899.1,226.1 899.3,159.8 899.4,199.3 899.5,154.0 899.6,188.3 899.9,184.7 900.0,211.2 900.2,168.5 900.4,182.3 900.5,185.1 900.8,197.3 900.9,178.7 901.0,196.7 901.1,170.9 901.5,228.7 901.5,180.4 901.8,160.5 901.9,192.4 902.0,189.5 902.0,177.3 902.2,194.7 902.2,162.1 902.5,181.4 902.5,191.5 902.9,179.2 903.0,192.5 903.0,200.3 903.5,179.4 903.5,188.0 903.8,196.9 904.0,166.3 904.0,184.4 904.2,209.0 904.3,179.6 904.5,184.3 904.6,185.7 904.8,176.1 905.0,178.3 905.1,184.8 905.1,199.2 905.3,171.8 905.5,184.8 905.6,203.6 905.9,153.9 905.9,210.7 906.0,177.0 906.4,204.6 906.4,182.0 906.5,202.8 906.8,165.7 906.9,187.1 907.0,191.5 907.1,196.1 907.3,170.7 907.4,180.9 907.5,191.7 907.7,200.9 907.9,174.1 907.9,198.8 908.0,188.2 908.4,178.7 908.4,185.9 908.5,184.4 908.6,183.3 909.0,190.6 909.0,196.5 909.3,180.1 909.5,184.8 909.5,177.9 909.7,196.5 910.0,190.4 910.0,192.4 910.1,175.4 910.2,196.7 910.5,177.3 910.5,181.6 910.7,194.5 911.0,175.2 911.0,230.0 911.2,183.0 911.5,185.3 911.5,186.9 911.7,163.3 911.8,187.9 912.0,172.0 912.1,183.4 912.3,211.8 912.5,182.7 912.6,190.0 912.7,198.2 912.9,182.1 913.0,193.2 913.1,189.1 913.3,173.0 913.4,180.0 913.5,187.3 913.7,200.7 913.9,176.9 914.0,178.9 914.3,195.1 914.4,176.5 914.4,193.5 914.5,180.6 914.6,171.9 914.7,199.9 914.9,186.8 915.0,179.1 915.2,192.6 915.4,190.5 915.5,188.8 915.8,180.2 915.9,184.7 916.0,189.7 916.2,177.2 916.5,196.4 916.5,191.9 916.6,198.4 916.7,177.6 917.0,185.4 917.0,177.7 917.2,168.2 917.4,194.3 917.5,181.3 917.5,182.3 917.9,195.4 918.0,189.0 918.0,182.2 918.1,189.6 918.5,179.9 918.5,189.1 918.9,179.4 919.0,189.2 919.0,190.4 919.1,198.9 919.4,181.6 919.5,186.8 919.6,185.7 919.7,169.3 919.8,189.8 920.0,184.9 920.1,183.4 920.3,173.8 920.4,193.1 920.5,192.5 920.6,193.3 920.7,181.4 920.9,187.5 921.0,180.4 921.1,191.7 921.4,178.6 921.5,185.7 921.6,178.0 921.7,195.5 921.9,182.1 922.0,192.3 922.2,177.1 922.4,199.7 922.5,169.6 922.9,189.3 923.0,176.6 923.4,194.2 923.5,186.6 923.7,175.9 923.9,189.9 923.9,185.4 924.0,201.5 924.3,177.7 924.5,186.2 924.5,183.2 924.6,201.4 924.8,182.6 925.0,184.1 925.0,189.0 925.1,190.3 925.5,178.5 925.5,184.6 925.7,189.4 926.0,169.3 926.0,191.0 926.3,171.5 926.4,198.6 926.5,188.0 926.5,167.9 926.8,187.9 927.0,182.9 927.0,191.0 927.3,177.7 927.5,197.8 927.6,184.5 927.7,179.0 928.0,186.2 928.1,191.2 928.2,209.5 928.4,177.5 928.5,191.1 928.8,171.3 928.9,200.0 929.0,181.3 929.1,195.5 929.2,178.2 929.4,186.8 929.5,185.6 929.9,181.3 929.9,191.9 930.0,177.5 930.1,160.2 930.4,187.1 930.4,186.4 930.5,178.4 930.9,193.6 931.0,183.0 931.2,179.7 931.4,186.4 931.5,180.3 932.0,207.8 932.0,187.0 932.3,175.1 932.4,203.8 932.5,177.8 932.5,174.7 932.8,164.7 933.0,194.6 933.0,167.7 933.1,196.6 933.5,184.4 933.5,187.0 933.7,174.8 933.8,187.1 934.0,178.9 934.0,188.7 934.3,172.9 934.4,189.4 934.5,187.8 934.5,183.0 934.6,189.9 934.9,181.1 935.0,188.1 935.1,189.5 935.3,191.2 935.3,172.0 935.5,187.1 935.6,183.2 935.8,179.8 936.0,200.7 936.1,174.7 936.3,193.1 936.4,175.4 936.5,188.8 936.6,190.8 936.9,175.2 937.0,177.7 937.3,170.4 937.4,190.1 937.5,186.3 937.6,178.3 937.7,213.4 937.9,190.8 938.0,186.1 938.1,176.8 938.3,193.6 938.4,177.9 938.5,180.8 938.7,174.8 938.9,192.1 938.9,186.4 939.0,182.4 939.4,201.2 939.5,192.8 939.5,196.1 939.6,205.0 939.7,176.4 940.0,193.7 940.0,189.3 940.2,189.5 940.2,178.6 940.5,183.5 940.5,168.5 941.0,191.4 941.0,180.9 941.3,176.1 941.4,196.2 941.5,185.7 941.5,185.0 941.6,207.4 941.8,168.0 942.0,191.9 942.0,196.4 942.4,181.5 942.5,193.9 942.6,185.9 942.7,180.8 942.9,190.5 943.0,185.9 943.1,183.6 943.1,177.9 943.2,207.8 943.5,184.7 943.6,185.8 943.7,180.0 943.8,207.8 943.9,184.9 944.0,196.1 944.3,185.2 944.4,193.5 944.5,192.7 944.8,175.3 944.9,184.6 945.0,173.6 945.1,192.0 945.4,183.7 945.5,184.0 945.7,174.5 945.9,191.5 946.0,184.5 946.3,197.6 946.4,180.8 946.4,187.4 946.5,182.6 946.8,178.7 946.9,194.2 947.0,187.4 947.2,179.6 947.3,188.6 947.5,183.4 947.5,200.8 948.0,175.7 948.0,181.8 948.1,179.5 948.2,192.6 948.5,181.3 948.5,186.1 948.8,175.9 948.8,192.8 949.0,188.9 949.0,180.9 949.4,187.9 949.5,169.9 949.5,186.0 949.7,194.6 949.9,169.5 950.0,180.8 950.0,201.3 950.4,180.4 950.5,183.6 950.6,185.3 950.8,169.4 950.9,192.8 951.0,190.5 951.1,165.7 951.2,197.7 951.3,163.8 951.4,179.8 951.5,180.9 951.6,191.9 951.9,177.6 952.0,196.0 952.3,208.0 952.4,176.8 952.4,188.4 952.5,181.3 952.7,191.7 952.8,180.7 952.9,187.7 953.0,183.7 953.2,195.5 953.4,179.3 953.5,183.9 953.7,174.6 953.9,187.4 953.9,180.9 954.0,192.5 954.1,173.8 954.4,183.3 954.5,190.1 954.6,178.6 954.7,194.8 955.0,186.2 955.0,179.5 955.1,171.5 955.2,200.9 955.5,179.4 955.5,182.1 955.8,155.5 956.0,186.3 956.0,189.6 956.3,182.9 956.4,196.3 956.5,185.7 956.5,179.4 956.9,191.4 957.0,180.6 957.0,171.8 957.5,196.7 957.5,174.9 957.7,194.0 958.0,170.4 958.1,184.8 958.3,179.2 958.3,192.2 958.5,191.0 958.6,178.6 958.9,204.4 959.0,189.7 959.1,191.5 959.2,180.1 959.4,187.2 959.5,185.1 959.8,175.7 959.9,192.5 959.9,189.8 960.0,187.0 960.1,198.0 960.4,183.3 960.4,194.8 960.5,177.4 960.8,197.2 960.9,180.8 961.0,190.2 961.1,175.5 961.4,195.8 961.4,192.0 961.5,178.2 961.6,189.4 961.9,172.2 962.0,173.6 962.2,197.0 962.5,188.7 962.5,181.8 962.8,174.5 962.9,191.3 963.0,178.2 963.0,193.7 963.2,178.7 963.5,182.1 963.5,189.7 963.6,194.5 963.9,173.6 964.0,191.3 964.0,185.3 964.2,184.7 964.4,202.2 964.5,190.3 964.5,206.2 965.0,175.5 965.0,182.9 965.3,190.8 965.4,171.7 965.5,177.5 965.6,194.0 965.8,177.5 966.0,190.2 966.1,191.0 966.3,199.6 966.4,161.2 966.5,193.0 966.6,184.2 966.7,225.5 966.9,183.7 967.0,207.8 967.1,219.9 967.2,173.3 967.4,177.1 967.5,189.2 967.6,201.6 967.9,175.7 967.9,183.8 968.0,188.7 968.1,167.6 968.4,183.9 968.5,180.3 968.7,173.1 968.8,187.7 968.9,179.4 969.0,173.5 969.2,205.8 969.4,186.5 969.5,184.7 969.8,201.7 969.9,165.2 970.0,182.8 970.0,172.7 970.3,198.4 970.5,175.4 970.5,186.1 970.6,184.1 971.0,198.6 971.0,184.7 971.2,192.2 971.4,170.5 971.5,177.3 971.5,198.1 971.8,171.1 972.0,189.7 972.0,179.1 972.3,192.0 972.5,169.5 972.5,193.8 972.6,161.2 972.8,199.3 973.0,192.6 973.1,199.7 973.4,175.3 973.5,188.2 973.6,192.0 973.8,180.6 973.9,203.8 974.0,192.3 974.1,197.1 974.3,175.6 974.4,177.5 974.5,185.4 974.6,190.3 974.9,168.6 975.0,194.5 975.3,182.7 975.4,183.3 975.5,195.3 975.6,216.6 975.8,173.8 975.9,181.7 976.0,192.8 976.2,173.5 976.4,197.7 976.4,197.2 976.5,185.5 976.7,216.9 976.9,176.3 977.0,159.9 977.4,204.9 977.4,169.8 977.5,181.9 977.6,228.7 978.0,173.9 978.0,186.0 978.4,202.9 978.5,176.5 978.5,189.8 978.9,168.0 979.0,207.6 979.0,179.0 979.2,164.7 979.3,204.1 979.5,191.6 979.5,175.7 979.6,172.4 980.0,186.5 980.0,176.0 980.1,200.6 980.5,182.9 980.5,186.3 980.6,178.5 980.8,203.0 981.0,198.0 981.1,187.1 981.1,173.2 981.5,195.5 981.6,190.4 981.7,176.1 981.9,183.9 982.0,191.3 982.1,198.1 982.4,166.2 982.5,193.3 982.6,178.4 982.9,192.9 983.0,193.0 983.4,173.6 983.5,203.5 983.6,177.4 983.9,180.9 984.0,176.8 984.1,165.3 984.4,197.1 984.5,182.7 984.6,172.0 984.9,202.2 985.0,185.3 985.3,189.1 985.5,171.6 985.5,195.9 985.7,188.5 986.0,190.3 986.0,195.8 986.2,175.2 986.5,192.7 986.5,184.2 986.6,180.4 986.8,192.8 987.0,181.5 987.0,186.3 987.3,179.4 987.5,201.3 987.5,183.9 987.6,183.4 987.7,192.3 988.0,186.1 988.0,181.0 988.1,203.8 988.3,180.7 988.5,189.7 988.6,190.9 988.6,176.8 988.8,197.7 989.0,192.0 989.1,177.2 989.4,191.5 989.5,180.4 989.6,191.0 989.9,179.8 989.9,182.3 990.0,186.2 990.1,192.2 990.4,180.2 990.4,182.0 990.5,185.9 990.6,179.0 990.9,188.5 991.0,179.5 991.3,192.9 991.4,175.2 991.5,167.6 991.9,195.7 991.9,193.5 992.0,197.1 992.2,178.5 992.4,191.1 992.5,184.4 992.7,194.1 992.8,176.9 993.0,178.5 993.0,178.4 993.5,196.9 993.5,171.3 993.9,191.0 994.0,184.5 994.0,176.3 994.3,169.6 994.4,186.9 994.5,181.4 994.5,198.4 994.8,175.9 995.0,187.2 995.0,178.9 995.2,200.3 995.5,186.1 995.5,172.8 995.6,194.6 996.0,183.8 996.1,178.2 996.3,189.2 996.5,172.4 996.6,173.3 996.7,206.9 997.0,185.1 997.1,190.7 997.3,180.6 997.4,200.5 997.5,177.6 997.7,167.1 997.9,193.0 997.9,179.7 998.0,182.3 998.1,181.5 998.4,195.1 998.5,190.3 998.6,175.5 998.6,209.8 998.9,184.6 999.0,185.9 999.2,188.2 999.4,174.3 999.5,193.7 999.8,199.3 999.9,170.7 1000.0,185.6 1000.1,179.1 1000.2,210.5 1000.4,180.4 1000.5,186.1 1000.7,191.5 1001.0,175.9 1001.0,186.8 1001.1,223.9 1001.4,180.9 1001.5,193.4 1001.5,176.6 1001.7,197.4 1002.0,191.8 1002.0,162.6 1002.3,197.4 1002.5,175.7 1002.5,184.4 1002.9,195.3 1003.0,178.7 1003.0,189.9 1003.2,197.1 1003.5,175.8 1003.6,188.2 1003.7,179.8 1003.9,209.1 1004.0,190.1 1004.1,189.2 1004.3,176.6 1004.5,181.6 1004.6,190.8 1004.8,180.2 1004.9,187.2 1005.0,194.0 1005.1,181.6 1005.4,188.3 1005.5,184.2 1005.6,165.3 1005.9,186.2 1005.9,182.9 1006.0,186.3 1006.3,196.5 1006.4,177.1 1006.5,185.3 1006.8,188.9 1006.9,171.2 1007.0,183.1 1007.2,176.0 1007.4,189.8 1007.5,192.3 1007.8,165.4 1007.9,186.3 1008.0,185.6 1008.2,193.1 1008.2,180.6 1008.5,184.0 1008.5,175.1 1008.7,199.6 1009.0,181.1 1009.0,179.8 1009.1,179.5 1009.2,193.4 1009.5,191.1 1009.5,178.1 1009.8,211.0 1010.0,176.3 1010.0,175.5 1010.2,188.1 1010.5,183.7 1010.5,189.6 1010.6,190.9 1010.8,171.5 1011.0,183.7 1011.0,188.6 1011.1,194.6 1011.2,166.5 1011.5,188.9 1011.6,185.4 1011.9,179.9 1012.0,195.4 1012.1,181.8 1012.3,187.3 1012.4,174.6 1012.5,184.4 1012.6,174.9 1012.8,193.7 1012.9,178.8 1013.0,190.0 1013.1,166.1 1013.2,213.5 1013.4,192.2 1013.5,181.1 1013.7,205.5 1013.9,183.9 1014.0,182.9 1014.1,198.6 1014.4,174.0 1014.4,193.7 1014.5,185.7 1014.7,203.1 1014.9,176.3 1014.9,180.6 1015.0,181.4 1015.2,191.6 1015.4,164.4 1015.4,189.7 1015.5,180.4 1015.8,179.7 1016.0,198.8 1016.0,200.8 1016.3,163.3 1016.5,189.4 1016.5,198.8 1016.9,181.1 1017.0,190.0 1017.0,178.7 1017.3,189.9 1017.5,176.0 1017.5,191.9 1017.6,197.5 1017.8,178.1 1018.0,197.1 1018.0,174.8 1018.3,193.0 1018.5,186.2 1018.5,192.6 1018.8,181.4 1019.0,207.2 1019.1,187.6 1019.3,180.6 1019.4,212.8 1019.5,188.8 1019.6,193.4 1019.8,177.7 1020.0,180.8 1020.1,177.6 1020.1,190.1 1020.3,173.4 1020.4,185.5 1020.5,185.8 1020.6,196.2 1020.7,182.0 1020.9,182.1 1021.0,196.7 1021.2,177.3 1021.4,195.7 1021.5,184.0 1021.6,186.9 1021.6,171.7 1021.9,185.5 1022.0,177.3 1022.1,196.7 1022.4,194.6 1022.5,176.9 1022.6,191.6 1022.7,165.7 1022.9,182.3 1023.0,188.8 1023.3,174.2 1023.4,205.9 1023.5,176.2 1023.5,189.1 1023.7,189.7 1023.8,156.9 1024.0,176.4 1024.0,186.5 1024.2,195.5 1024.3,177.5 1024.5,182.0 1024.5,184.2 1024.8,173.1 1025.0,191.0 1025.0,192.8 1025.3,198.4 1025.3,163.1 1025.5,178.3 1025.5,183.7 1025.9,181.1 1026.0,196.5 1026.0,184.0 1026.3,198.2 1026.5,174.0 1026.6,186.5 1026.9,191.4 1027.0,173.5 1027.1,171.7 1027.2,212.3 1027.5,191.3 1027.6,209.2 1027.8,173.1 1027.9,193.9 1028.0,192.7 1028.1,199.4 1028.4,177.1 1028.5,181.8 1028.7,193.5 1028.9,193.2 1029.0,188.9 1029.3,180.1 1029.4,193.9 1029.5,192.4 1029.7,179.4 1029.9,186.1 1030.0,178.1 1030.2,185.3 1030.4,184.6 1030.5,182.5 1030.6,160.6 1030.9,194.8 1030.9,183.0 1031.0,182.4 1031.3,173.9 1031.4,193.1 1031.5,183.3 1031.5,198.2 1032.0,183.0 1032.0,188.0 1032.2,190.4 1032.2,167.6 1032.5,185.6 1032.5,182.1 1032.6,199.0 1032.9,175.5 1033.0,181.0 1033.0,181.5 1033.2,178.5 1033.3,190.2 1033.5,187.7 1033.5,180.9 1033.7,195.9 1033.8,165.2 1034.0,188.5 1034.0,193.2 1034.1,172.0 1034.3,200.1 1034.5,188.6 1034.6,177.9 1034.9,171.4 1035.0,191.7 1035.1,189.0 1035.2,195.7 1035.3,178.8 1035.4,185.3 1035.5,182.3 1035.6,175.2 1035.9,191.5 1036.0,177.2 1036.1,185.6 1036.4,180.9 1036.5,209.0 1036.6,184.5 1036.9,190.5 1037.0,192.0 1037.2,169.6 1037.3,206.6 1037.4,190.3 1037.5,173.0 1037.7,171.4 1037.9,193.4 1038.0,191.0 1038.3,170.0 1038.4,181.3 1038.5,181.8 1038.6,190.9 1038.8,181.0 1039.0,184.4 1039.0,181.9 1039.5,197.1 1039.5,180.4 1039.6,202.3 1040.0,185.9 1040.0,207.2 1040.5,175.5 1040.5,187.5 1040.7,161.5 1041.0,194.1 1041.0,168.2 1041.4,191.7 1041.5,183.4 1041.5,190.1 1041.6,204.5 1041.7,178.3 1042.0,182.5 1042.1,200.0 1042.5,179.7 1042.6,188.5 1042.8,158.3 1043.0,186.7 1043.1,191.2 1043.2,174.3 1043.4,184.3 1043.5,186.8 1043.7,202.4 1043.9,163.0 1044.0,181.1 1044.4,190.4 1044.5,191.5 1044.6,181.1 1044.7,193.6 1044.9,189.0 1045.0,187.1 1045.2,180.8 1045.4,192.7 1045.4,190.3 1045.5,189.7 1045.7,183.3 1045.8,210.1 1045.9,191.3 1046.0,186.9 1046.2,195.8 1046.5,175.0 1046.5,188.8 1046.7,181.3 1047.0,194.0 1047.0,179.0 1047.1,197.1 1047.3,166.2 1047.5,179.2 1047.5,199.7 1047.6,150.3 1047.7,207.0 1048.0,194.8 1048.0,180.0 1048.3,218.3 1048.4,176.0 1048.5,199.4 1048.5,196.0 1049.0,136.8 1049.0,186.2 1049.1,292.9 1049.2,170.1 1049.5,201.4 1049.6,181.2 1049.8,74.6 1050.0,212.1 1050.1,182.2 1050.3,226.7 1050.4,112.5 1050.5,187.3 1050.6,179.6 1050.8,211.2 1050.9,128.6 1051.0,206.0 1051.1,120.3 1051.1,209.3 1051.4,164.4 1051.5,205.7 1051.6,141.7 1051.9,241.7 1051.9,194.4 1052.0,171.8 1052.4,197.6 1052.4,158.8 1052.5,197.9 1052.6,163.0 1052.7,224.0 1052.9,192.9 1053.0,204.2 1053.1,156.8 1053.3,256.2 1053.4,191.1 1053.5,207.2 1053.9,172.7 1054.0,194.3 1054.0,181.6 1054.1,155.9 1054.4,196.5 1054.5,182.8 1054.5,191.1 1054.7,208.7 1055.0,173.8 1055.0,213.3 1055.2,173.7 1055.5,221.2 1055.5,183.2 1055.8,197.8 1056.0,175.2 1056.0,214.5 1056.4,172.7 1056.5,192.7 1056.5,190.4 1056.8,212.6 1057.0,174.9 1057.1,175.3 1057.2,198.0 1057.3,169.5 1057.5,190.2 1057.6,188.4 1057.7,167.9 1057.8,198.4 1058.0,180.0 1058.1,184.5 1058.1,167.1 1058.3,198.6 1058.4,189.6 1058.5,169.4 1058.6,191.3 1058.9,179.1 1059.0,155.1 1059.4,200.5 1059.5,185.1 1059.8,197.9 1059.9,171.1 1059.9,173.7 1060.0,188.1 1060.1,167.1 1060.4,196.3 1060.5,177.7 1060.9,198.2 1060.9,180.1 1061.0,174.1 1061.2,190.2 1061.4,157.1 1061.5,182.3 1061.7,199.2 1061.7,170.2 1062.0,186.7 1062.0,187.5 1062.1,193.0 1062.3,180.3 1062.5,183.4 1062.5,180.4 1062.7,179.9 1063.0,186.9 1063.0,178.8 1063.1,196.9 1063.3,172.3 1063.5,190.5 1063.5,167.5 1063.8,212.1 1064.0,193.8 1064.0,186.4 1064.2,190.7 1064.5,161.7 1064.5,178.1 1064.8,192.3 1064.9,159.3 1065.0,185.2 1065.1,178.2 1065.3,164.4 1065.5,187.2 1065.6,177.6 1065.6,161.0 1065.8,193.7 1065.9,182.5 1066.0,199.9 1066.1,176.0 1066.4,185.2 1066.5,188.2 1066.6,201.8 1066.9,175.8 1066.9,184.1 1067.0,184.3 1067.1,212.0 1067.3,182.0 1067.4,189.3 1067.5,181.3 1067.6,200.4 1067.9,178.7 1068.0,173.9 1068.2,172.0 1068.4,201.5 1068.4,193.9 1068.5,186.0 1068.6,192.7 1068.7,165.9 1068.9,186.3 1069.0,178.4 1069.4,175.6 1069.5,192.5 1069.5,174.3 1069.9,194.6 1070.0,186.6 1070.0,176.0 1070.2,170.8 1070.5,195.9 1070.5,204.1 1070.6,204.9 1070.8,170.6 1071.0,177.6 1071.0,186.9 1071.1,190.2 1071.3,173.5 1071.5,188.9 1071.5,191.7 1071.7,171.2 1071.8,193.7 1072.0,192.2 1072.0,183.3 1072.2,177.6 1072.3,200.3 1072.5,188.4 1072.6,198.0 1072.6,178.3 1073.0,181.3 1073.1,211.9 1073.3,174.5 1073.5,194.0 1073.6,190.2 1073.6,194.7 1073.7,176.0 1073.9,181.3 1074.0,185.2 1074.1,172.4 1074.3,191.2 1074.4,185.0 1074.5,185.2 1074.6,193.4 1074.9,180.5 1075.0,196.0 1075.1,210.7 1075.4,177.8 1075.5,185.0 1075.7,191.2 1075.8,170.6 1075.9,181.5 1076.0,193.6 1076.2,164.9 1076.4,179.9 1076.5,198.9 1076.9,162.1 1077.0,191.1 1077.0,171.1 1077.4,197.6 1077.5,180.4 1077.5,187.4 1077.6,188.8 1077.7,173.2 1078.0,185.7 1078.0,183.5 1078.1,172.3 1078.2,204.4 1078.5,181.8 1078.5,208.5 1078.8,178.4 1079.0,202.9 1079.0,182.8 1079.1,205.1 1079.2,180.1 1079.5,185.9 1079.5,199.1 1079.8,175.2 1080.0,201.2 1080.1,178.6 1080.3,208.1 1080.5,174.0 1080.6,192.0 1080.7,179.8 1080.8,236.8 1081.0,184.0 1081.1,188.7 1081.3,203.3 1081.3,172.2 1081.4,178.9 1081.5,183.9 1081.6,196.1 1081.8,166.5 1081.9,182.6 1082.0,185.4 1082.1,206.0 1082.4,195.4 1082.5,195.2 1082.8,171.4 1082.9,196.7 1082.9,191.3 1083.0,195.0 1083.1,175.9 1083.4,202.8 1083.5,183.2 1083.7,175.3 1083.8,195.9 1083.9,185.6 1084.0,171.0 1084.2,159.8 1084.4,195.6 1084.5,179.0 1084.8,223.9 1085.0,185.3 1085.0,182.5 1085.1,165.6 1085.3,202.6 1085.5,201.1 1085.5,183.9 1085.8,183.8 1086.0,229.7 1086.0,161.8 1086.3,139.9 1086.5,201.3 1086.5,204.1 1086.6,165.7 1087.0,188.6 1087.0,183.7 1087.3,182.2 1087.5,210.2 1087.5,201.3 1087.6,153.9 1088.0,193.1 1088.1,188.8 1088.1,233.6 1088.3,173.2 1088.5,191.1 1088.6,192.5 1088.8,216.0 1088.8,141.5 1088.9,191.9 1089.0,170.0 1089.1,192.6 1089.4,190.9 1089.5,184.1 1089.7,210.4 1089.9,177.6 1089.9,191.9 1090.0,195.3 1090.1,229.0 1090.3,178.7 1090.4,181.4 1090.5,178.3 1090.7,196.3 1090.9,175.8 1091.0,174.1 1091.2,203.8 1091.4,183.1 1091.5,169.8 1091.7,195.4 1091.9,193.3 1092.0,190.3 1092.1,156.4 1092.2,193.6 1092.5,193.2 1092.5,180.1 1092.6,232.0 1093.0,178.5 1093.0,196.4 1093.3,218.8 1093.4,186.6 1093.5,209.0 1093.5,188.2 1093.8,213.6 1093.8,168.1 1094.0,185.9 1094.0,202.7 1094.1,170.0 1094.5,177.6 1094.5,191.3 1094.6,203.3 1094.9,178.6 1095.0,179.3 1095.0,185.5 1095.2,205.3 1095.3,161.4 1095.5,175.4 1095.6,201.4 1095.7,205.6 1096.0,181.5 1096.1,179.4 1096.3,191.4 1096.4,180.3 1096.5,194.6 1096.6,212.7 1096.9,180.0 1097.0,176.1 1097.1,168.9 1097.3,200.2 1097.4,185.8 1097.5,193.8 1097.6,202.1 1097.7,171.4 1097.9,186.4 1098.0,168.1 1098.4,195.4 1098.5,195.7 1098.8,166.0 1098.9,233.6 1099.0,174.5 1099.2,190.9 1099.4,165.0 1099.5,196.6 1099.6,171.4 1100.0,181.5 1100.0,192.8 1100.2,206.3 1100.5,169.9 1100.5,171.7 1100.7,166.0 1101.0,184.9 1101.0,200.6 1101.2,202.7 1101.4,165.2 1101.5,168.7 1101.5,182.1 1101.9,209.3 1102.0,192.0 1102.0,165.4 1102.1,231.8 1102.5,176.0 1102.5,176.9 1102.8,174.4 1102.9,210.7 1103.0,179.1 1103.1,184.4 1103.1,177.9 1103.2,207.0 1103.5,185.4 1103.6,185.9 1103.6,164.2 1103.8,204.7 1104.0,201.2 1104.1,188.7 1104.1,198.2 1104.4,141.6 1104.5,224.5 1104.8,154.0 1104.9,175.1 1105.0,200.3 1105.3,183.0 1105.4,184.2 1105.5,186.8 1105.8,200.5 1105.9,161.2 1106.0,183.0 1106.1,199.3 1106.3,173.7 1106.4,183.4 1106.5,208.8 1106.6,165.8 1106.8,212.2 1106.9,187.3 1107.0,183.1 1107.3,169.4 1107.4,201.5 1107.5,186.1 1107.5,176.6 1107.7,162.8 1108.0,195.8 1108.0,189.9 1108.2,156.3 1108.4,191.7 1108.5,175.1 1108.5,157.1 1108.6,206.2 1109.0,187.8 1109.0,192.8 1109.1,201.0 1109.3,177.2 1109.5,185.0 1109.5,177.5 1109.8,198.4 1110.0,189.1 1110.0,205.3 1110.2,176.6 1110.5,187.2 1110.6,182.1 1110.8,177.7 1111.0,206.4 1111.1,193.0 1111.3,174.9 1111.5,179.7 1111.6,172.9 1111.9,183.1 1112.0,191.5 1112.1,192.9 1112.4,174.9 1112.5,190.1 1112.6,169.8 1112.7,196.8 1112.9,184.8 1113.0,185.3 1113.3,205.9 1113.4,169.6 1113.5,186.3 1113.6,208.8 1113.9,182.1 1113.9,191.4 1114.0,187.7 1114.3,170.3 1114.4,193.1 1114.5,161.9 1114.7,194.6 1114.9,194.2 1115.0,196.4 1115.1,176.6 1115.5,184.8 1115.5,187.2 1115.7,153.2 1116.0,199.4 1116.0,185.0 1116.2,192.1 1116.5,173.4 1116.5,184.4 1116.7,214.1 1116.9,182.5 1117.0,197.7 1117.0,173.6 1117.1,143.2 1117.4,191.9 1117.5,181.3 1117.5,180.6 1117.7,164.2 1117.8,190.1 1118.0,183.9 1118.0,188.2 1118.1,171.3 1118.3,203.2 1118.5,171.4 1118.6,187.7 1118.7,190.9 1118.9,169.0 1119.0,171.4 1119.1,195.4 1119.2,177.8 1119.3,203.3 1119.4,188.7 1119.5,179.7 1119.7,175.6 1119.9,201.1 1119.9,190.2 1120.0,181.6 1120.2,199.1 1120.4,177.2 1120.5,183.4 1120.8,173.0 1120.9,197.9 1121.0,191.5 1121.1,171.4 1121.3,193.9 1121.4,191.6 1121.5,182.0 1121.6,208.4 1121.9,176.5 1122.0,170.0 1122.3,191.0 1122.4,181.0 1122.5,194.9 1123.0,177.0 1123.0,186.0 1123.3,178.1 1123.5,190.8 1123.5,195.5 1123.7,202.6 1124.0,175.0 1124.0,172.4 1124.3,196.8 1124.5,188.9 1124.5,202.9 1124.7,174.4 1125.0,201.8 1125.0,182.4 1125.2,190.2 1125.3,178.8 1125.5,186.2 1125.5,188.1 1125.7,180.3 1125.8,197.0 1126.0,183.9 1126.1,171.2 1126.2,206.2 1126.5,160.3 1126.6,191.7 1126.9,177.4 1127.0,197.8 1127.1,183.1 1127.2,168.3 1127.3,186.3 1127.4,180.8 1127.5,184.8 1127.6,180.0 1127.9,191.2 1128.0,178.3 1128.2,192.4 1128.4,177.3 1128.4,178.1 1128.5,183.5 1128.9,182.2 1128.9,189.9 1129.0,161.1 1129.2,200.2 1129.4,186.4 1129.5,175.9 1129.7,164.0 1129.7,189.9 1129.9,179.1 1130.0,207.0 1130.4,182.8 1130.5,194.8 1130.5,178.8 1130.8,208.6 1131.0,178.7 1131.0,187.3 1131.2,196.4 1131.4,174.7 1131.5,194.1 1131.5,183.4 1131.7,198.3 1131.9,156.7 1132.0,169.1 1132.0,173.6 1132.2,169.3 1132.4,197.7 1132.5,171.0 1132.5,182.7 1132.6,199.4 1132.8,165.8 1133.0,182.6 1133.0,197.7 1133.2,204.8 1133.4,160.5 1133.5,180.0 1133.6,193.8 1133.6,162.0 1134.0,192.7 1134.1,186.2 1134.2,166.6 1134.5,192.7 1134.6,187.4 1134.6,177.1 1134.7,193.1 1134.9,185.1 1135.0,172.5 1135.3,195.0 1135.4,189.1 1135.5,178.1 1135.7,155.4 1135.9,214.1 1135.9,191.7 1136.0,177.9 1136.2,189.1 1136.4,188.6 1136.5,180.3 1136.8,162.3 1136.9,197.7 1136.9,197.0 1137.0,175.1 1137.2,197.4 1137.4,186.0 1137.5,176.1 1137.7,171.7 1137.8,191.5 1137.9,184.6 1138.0,184.8 1138.2,169.6 1138.3,205.8 1138.5,186.9 1138.5,193.3 1138.9,175.6 1139.0,219.0 1139.0,177.9 1139.3,196.3 1139.5,183.7 1139.5,181.7 1139.8,163.5 1139.8,190.8 1140.0,186.5 1140.0,178.7 1140.3,151.9 1140.3,186.7 1140.5,179.1 1140.5,154.1 1140.6,208.1 1141.0,165.3 1141.1,195.1 1141.2,184.2 1141.5,202.9 1141.6,172.8 1141.6,212.0 1142.0,168.9 1142.1,182.3 1142.2,166.7 1142.3,291.3 1142.4,208.0 1142.5,172.6 1142.7,207.1 1142.9,165.9 1142.9,196.0 1143.0,214.8 1143.1,170.2 1143.4,208.9 1143.5,191.9 1143.6,161.3 1143.9,202.8 1143.9,175.9 1144.0,169.8 1144.2,195.8 1144.3,144.8 1144.4,165.3 1144.5,204.6 1144.7,217.9 1144.8,172.1 1144.9,197.6 1145.0,173.2 1145.2,203.1 1145.4,182.6 1145.5,193.2 1145.7,206.6 1145.9,178.5 1146.0,194.8 1146.0,199.2 1146.1,147.2 1146.5,187.7 1146.5,177.8 1146.7,177.2 1146.8,200.1 1147.0,186.3 1147.0,192.2 1147.3,170.4 1147.3,205.9 1147.5,187.3 1147.5,180.2 1147.7,169.6 1147.9,209.1" fill="none" stroke="#0000FF" stroke-width="2" stroke-linejoin="round"/>
<polyline points="684.0,180.2 684.1,204.5 684.1,177.9 684.3,187.1 684.4,187.9 684.6,197.7 684.6,185.9 684.7,185.4 684.8,202.8 684.9,148.8 685.0,172.2 685.1,184.7 685.3,208.8 685.4,181.9 685.6,176.6 685.6,186.8 685.7,219.1 686.0,169.8 686.1,206.0 686.4,189.2 686.4,183.3 686.5,174.0 686.7,190.1 686.7,202.7 686.9,172.9 687.0,188.2 687.1,173.3 687.4,199.3 687.5,184.4 687.5,154.2 687.7,183.8 687.7,176.8 688.0,198.0 688.1,184.3 688.2,186.6 688.2,162.8 688.4,182.8 688.5,183.9 688.5,153.8 688.7,198.4 688.8,209.2 689.0,190.1 689.0,191.4 689.1,184.4 689.3,175.1 689.4,233.6 689.5,185.6 689.5,170.4 689.7,190.3 689.8,190.2 689.8,193.3 690.0,169.2 690.0,183.8 690.1,173.9 690.3,199.3 690.4,193.8 690.5,172.6 690.7,204.3 690.8,178.8 690.8,174.3 691.1,194.3 691.1,192.4 691.2,177.7 691.3,189.4 691.3,174.6 691.4,180.1 691.5,175.7 691.6,191.8 691.8,181.2 691.8,191.0 691.9,181.9 692.1,191.5 692.2,180.8 692.3,190.4 692.4,187.0 692.5,182.4 692.7,178.0 692.8,205.9 692.9,184.5 692.9,201.2 693.1,193.0 693.2,194.8 693.5,176.9 693.6,179.8 693.7,199.6 693.8,189.4 693.9,169.9 693.9,198.5 694.2,194.8 694.2,198.1 694.4,175.9 694.5,183.7 694.6,173.1 694.7,194.1 694.8,177.1 694.9,188.4 695.0,173.3 695.1,192.5 695.2,191.5 695.2,169.3 695.4,191.9 695.5,157.4 695.5,187.7 695.6,180.5 695.7,191.7 695.7,178.1 695.9,180.9 696.0,183.6 696.0,173.8 696.2,176.6 696.2,171.8 696.3,193.6 696.5,183.1 696.6,179.6 696.9,154.3 697.0,188.2 697.1,201.9 697.2,179.0 697.3,172.7 697.5,200.2 697.6,183.7 697.8,190.3 697.9,171.4 698.0,183.2 698.1,195.0 698.2,172.8 698.3,193.6 698.3,192.5 698.4,187.5 698.5,202.7 698.6,192.2 698.6,190.5 698.8,199.0 698.8,168.9 698.9,185.2 699.0,172.0 699.2,194.4 699.3,180.9 699.3,193.2 699.5,173.9 699.6,186.8 699.6,178.0 699.9,175.4 699.9,200.7 700.0,200.8 700.1,171.4 700.3,179.6 700.4,170.5 700.4,193.2 700.6,180.3 700.7,176.0 700.8,159.2 700.9,181.1 700.9,178.2 701.0,203.7 701.2,171.0 701.3,178.7 701.4,195.7 701.6,197.4 701.7,162.7 701.7,187.0 701.9,183.6 701.9,185.4 702.0,184.2 702.1,144.8 702.2,188.6 702.3,181.5 702.4,206.7 702.4,180.6 702.7,186.8 702.7,179.9 703.0,213.4 703.1,181.7 703.2,176.4 703.3,195.4 703.4,187.3 703.5,179.2 703.5,193.0 703.7,182.4 703.7,181.8 703.8,201.7 703.9,177.7 704.0,189.0 704.1,191.2 704.3,170.4 704.3,193.0 704.4,174.6 704.5,185.1 704.6,163.9 704.7,173.9 704.8,185.1 704.8,190.3 704.9,171.6 705.0,179.8 705.1,183.7 705.2,215.1 705.4,173.3 705.5,195.4 705.5,163.4 705.7,203.9 705.8,187.9 705.8,196.1 706.1,173.8 706.1,181.7 706.2,158.0 706.4,188.2 706.5,181.5 706.7,212.2 706.8,180.1 707.1,195.2 707.1,193.7 707.2,201.1 707.4,183.2 707.5,187.8 707.6,170.1 707.8,190.2 707.9,165.3 707.9,196.0 708.1,173.8 708.1,187.4 708.4,195.9 708.4,178.2 708.5,205.9 708.7,170.8 708.8,204.7 708.9,187.5 709.0,208.3 709.1,183.6 709.2,173.7 709.2,192.3 709.4,176.3 709.5,186.3 709.7,190.9 709.7,185.1 709.8,189.9 709.9,171.7 709.9,184.8 710.2,180.8 710.2,192.7 710.4,182.2 710.5,197.3 710.5,179.8 710.6,178.3 710.8,197.9 710.9,178.3 711.0,189.9 711.2,183.6 711.2,174.2 711.5,204.9 711.5,188.6 711.8,174.1 711.8,180.2 711.9,203.6 712.1,158.8 712.2,171.6 712.3,185.6 712.4,177.6 712.5,204.4 712.6,167.9 712.8,200.6 712.9,193.7 713.0,163.5 713.2,180.7 713.3,173.8 713.3,189.8 713.6,185.6 713.6,185.9 713.7,180.7 713.8,190.6 713.8,183.5 713.9,182.8 714.1,196.7 714.2,177.0 714.3,196.4 714.4,185.6 714.6,193.5 714.6,183.8 714.8,225.5 714.9,180.6 714.9,186.5 715.0,182.4 715.1,174.5 715.2,184.0 715.3,193.1 715.4,210.8 715.6,168.3 715.6,198.3 715.9,182.6 716.0,190.4 716.1,194.2 716.2,175.8 716.3,174.3 716.6,211.2 716.7,189.0 716.7,190.9 716.9,176.1 716.9,183.3 717.0,168.8 717.2,192.1 717.3,189.0 717.4,185.7 717.4,188.9 717.6,177.2 717.7,195.4 717.9,159.1 718.0,210.8 718.0,192.3 718.3,174.9 718.4,195.9 718.6,177.0 718.7,178.2 718.7,167.5 719.0,194.0 719.0,170.8 719.2,194.4 719.3,180.8 719.4,183.7 719.6,177.1 719.7,192.3 719.8,189.0 720.0,184.5 720.0,179.4 720.3,182.2 720.4,189.6 720.5,157.7 720.5,192.3 720.7,185.6 720.8,190.6 720.9,182.6 721.0,188.2 721.1,179.1 721.1,203.1 721.2,172.4 721.3,190.1 721.4,181.7 721.5,190.9 721.6,170.3 721.7,186.0 721.8,199.3 722.0,177.8 722.1,189.7 722.1,179.8 722.3,186.1 722.3,181.1 722.4,182.0 722.5,186.7 722.6,181.9 722.7,183.4 722.8,188.5 722.9,191.7 723.1,172.8 723.1,186.6 723.3,170.1 723.4,181.1 723.4,173.4 723.6,198.7 723.7,182.8 723.8,193.2 723.9,176.6 724.1,183.5 724.2,178.6 724.4,197.9 724.4,175.7 724.5,169.1 724.7,190.3 724.7,187.1 724.8,192.1 724.9,167.4 725.1,187.0 725.2,191.1 725.3,202.8 725.4,173.4 725.4,192.2 725.5,184.4 725.7,191.4 725.7,164.8 725.8,178.3 725.9,197.3 726.1,169.7 726.2,175.7 726.4,192.8 726.5,187.9 726.5,186.3 726.6,172.6 726.8,201.1 726.9,188.1 727.0,194.3 727.1,182.4 727.2,187.7 727.3,190.7 727.5,180.8 727.5,187.5 727.8,188.0 727.8,179.7 727.9,175.2 728.0,174.3 728.2,188.5 728.3,196.5 728.4,153.6 728.5,175.6 728.6,203.1 728.6,175.9 728.8,187.1 728.9,217.0 729.1,169.4 729.2,170.9 729.3,189.6 729.3,169.3 729.5,189.0 729.6,184.7 729.8,179.3 729.8,196.6 729.9,194.9 730.2,139.1 730.3,180.2 730.5,199.1 730.6,174.6 730.6,179.6 730.8,195.0 730.9,186.1 730.9,189.6 731.1,217.4 731.1,178.2 731.2,186.4 731.3,190.9 731.5,174.6 731.6,175.1 731.7,186.9 731.7,193.0 731.8,179.0 731.9,191.3 731.9,187.9 732.0,170.0 732.2,208.4 732.2,186.9 732.3,179.0 732.5,208.9 732.6,182.7 732.7,181.1 732.7,191.8 732.9,178.1 732.9,186.2 733.0,189.9 733.2,178.0 733.2,179.3 733.3,169.5 733.5,198.5 733.6,150.2 733.7,172.2 733.8,200.8 734.0,182.3 734.0,181.4 734.2,211.7 734.3,163.8 734.5,180.4 734.6,180.1 734.7,165.5 734.8,195.2 735.0,193.6 735.0,188.9 735.1,192.9 735.3,180.0 735.3,183.0 735.4,175.4 735.6,188.7 735.7,200.9 735.8,168.2 736.0,184.0 736.0,182.7 736.1,190.6 736.2,168.4 736.3,177.1 736.4,180.5 736.6,196.4 736.6,167.4 736.7,173.3 736.8,168.0 736.9,183.9 737.0,183.1 737.1,188.5 737.1,175.5 737.3,204.6 737.4,195.0 737.5,170.4 737.7,177.4 737.8,188.2 737.9,163.1 738.0,171.8 738.1,178.0 738.2,172.5 738.3,200.5 738.4,184.2 738.4,179.1 738.7,203.5 738.8,189.8 738.9,181.7 739.0,206.2 739.1,184.7 739.1,215.2 739.3,165.1 739.4,190.2 739.4,189.4 739.5,200.7 739.7,193.7 739.8,218.1 740.1,174.5 740.2,183.4 740.3,203.6 740.4,171.4 740.4,165.6 740.5,163.8 740.7,191.8 740.7,177.2 740.8,191.2 741.0,193.8 741.0,160.6 741.1,192.7 741.2,180.2 741.3,178.6 741.4,197.9 741.5,169.8 741.7,206.1 741.7,177.8 741.8,181.8 741.9,190.0 742.1,177.4 742.2,181.1 742.4,188.1 742.5,178.7 742.5,185.0 742.6,186.2 742.7,167.0 742.8,177.6 742.8,163.6 743.0,191.1 743.1,186.4 743.2,180.1 743.3,171.8 743.5,213.6 743.5,179.8 743.8,190.7 743.8,182.3 744.0,177.6 744.1,194.8 744.2,192.5 744.3,177.9 744.5,189.1 744.6,192.1 744.8,171.3 744.9,179.0 745.0,189.5 745.1,170.5 745.2,183.9 745.3,181.9 745.4,190.7 745.5,187.6 745.6,177.7 745.9,194.5 745.9,189.7 746.0,189.8 746.1,176.4 746.2,186.5 746.4,187.1 746.4,174.0 746.5,176.1 746.6,185.4 746.7,187.6 746.8,179.1 746.9,180.4 746.9,187.3 747.2,186.3 747.2,197.1 747.3,187.2 747.4,192.3 747.4,182.1 747.5,191.5 747.6,200.7 747.7,182.9 747.9,183.1 747.9,188.6 748.0,190.8 748.2,179.7 748.3,184.9 748.5,191.6 748.5,168.9 748.6,180.9 748.7,184.5 748.7,176.7 748.9,176.9 749.0,186.0 749.2,175.5 749.3,183.2 749.5,191.5 749.6,181.2 749.7,190.8 749.9,180.2 750.0,183.1 750.0,187.6 750.3,180.2 750.3,181.8 750.4,184.5 750.6,179.1 750.7,187.0 750.8,187.6 750.8,180.2 750.9,182.5 751.0,195.4 751.2,185.1 751.3,200.3 751.3,180.4 751.6,190.9 751.6,183.9 751.7,192.8 751.8,169.8 752.0,195.7 752.1,190.7 752.1,179.8 752.3,190.6 752.3,182.9 752.6,197.7 752.6,182.5 752.7,182.4 752.8,192.0 753.0,190.3 753.1,191.5 753.3,167.5 753.4,186.4 753.4,194.6 753.6,177.3 753.6,193.0 753.7,188.8 753.9,180.1 754.0,198.6 754.1,184.9 754.2,187.7 754.3,179.7 754.4,184.7 754.4,184.4 754.6,177.2 754.7,203.1 754.7,184.9 754.9,176.2 754.9,189.7 755.0,184.2 755.1,187.2 755.2,176.0 755.4,189.8 755.4,187.1 755.5,187.6 755.7,182.4 755.7,185.8 755.8,181.7 755.9,188.2 756.0,188.1 756.1,171.5 756.3,187.9 756.4,186.2 756.5,176.8 756.5,188.5 756.7,181.5 756.8,192.2 757.0,180.9 757.1,188.7 757.2,191.4 757.3,181.8 757.4,183.5 757.5,190.4 757.6,179.2 757.8,182.4 757.8,181.5 758.0,185.0 758.1,183.6 758.3,194.2 758.4,172.8 758.5,189.8 758.6,185.2 758.8,187.5 758.8,179.8 759.0,190.1 759.1,184.7 759.2,186.5 759.3,173.4 759.4,187.7 759.5,181.0 759.7,184.6 759.8,184.1 759.8,186.0 759.9,178.1 760.1,187.9 760.2,192.4 760.3,188.6 760.4,191.2 760.5,183.5 760.6,190.7 760.8,185.1 760.9,180.7 761.1,198.9 761.2,181.2 761.4,187.5 761.5,184.6 761.6,187.1 761.7,196.1 761.8,177.9 761.9,183.1 761.9,192.0 762.1,170.7 762.2,184.4 762.2,181.3 762.4,188.3 762.5,186.2 762.6,187.8 762.7,189.1 762.7,181.5 762.8,181.6 762.9,193.7 762.9,200.1 763.2,183.6 763.2,185.3 763.3,191.4 763.5,191.1 763.6,181.3 763.7,180.1 763.9,188.2 764.0,191.4 764.1,180.9 764.2,185.0 764.2,189.1 764.3,177.9 764.4,189.2 764.5,186.9 764.6,180.3 764.7,187.6 764.9,172.2 765.0,190.1 765.2,180.9 765.3,182.4 765.3,174.5 765.5,193.6 765.6,181.2 765.8,189.8 765.9,183.9 766.0,187.3 766.0,190.9 766.1,183.3 766.3,185.6 766.3,177.9 766.5,190.4 766.6,190.9 766.8,184.0 766.9,189.9 767.0,179.5 767.1,196.0 767.3,187.9 767.3,188.5 767.5,179.6 767.6,185.6 767.7,190.4 767.8,193.4 767.9,188.4 768.0,184.3 768.1,181.6 768.3,188.6 768.4,186.8 768.5,181.2 768.6,184.3 768.7,179.3 768.8,186.8 768.9,179.2 768.9,182.8 769.0,179.3 769.1,190.1 769.3,184.0 769.4,183.9 769.4,185.0 769.6,173.0 769.6,181.9 769.7,193.0 769.9,181.9 770.0,185.8 770.1,188.4 770.2,184.3 770.2,193.9 770.3,185.8 770.4,182.9 770.6,178.4 770.7,183.3 770.7,184.9 770.9,194.1 770.9,176.9 771.0,188.2 771.1,189.2 771.2,192.8 771.3,184.9 771.4,184.0 771.5,195.3 771.7,182.3 771.7,185.4 771.8,190.5 772.0,184.1 772.1,190.6 772.2,181.8 772.4,194.1 772.5,195.5 772.7,181.2 772.7,182.3 772.8,191.8 773.0,187.2 773.1,180.7 773.3,191.1 773.4,186.3 773.5,181.7 773.5,181.7 773.7,185.6 773.8,189.4 773.9,179.8 774.0,192.5 774.1,182.8 774.4,188.2 774.5,191.3 774.6,196.0 774.7,176.9 774.8,180.9 774.8,196.7 775.1,176.4 775.1,180.3 775.3,189.1 775.4,187.5 775.5,187.2 775.8,182.4 775.8,187.0 776.0,193.8 776.1,188.2 776.1,180.7 776.3,186.5 776.4,186.1 776.5,180.6 776.7,180.2 776.8,187.3 776.9,182.9 777.1,190.9 777.2,186.5 777.3,180.8 777.4,190.9 777.4,186.0 777.5,184.0 777.8,192.9 777.9,182.2 778.0,181.7 778.1,190.9 778.2,183.5 778.2,183.9 778.3,175.4 778.4,187.2 778.4,184.9 778.5,179.8 778.7,185.2 778.8,180.6 778.9,194.4 779.0,182.6 779.2,184.5 779.2,173.5 779.5,189.1 779.6,181.7 779.7,181.4 779.7,186.9 779.8,183.9 779.9,184.3 780.0,179.3 780.1,198.9 780.2,186.8 780.2,187.4 780.5,171.6 780.5,183.6 780.6,186.1 780.7,187.5 780.8,187.3 780.9,187.8 781.0,183.9 781.0,190.9 781.2,185.3 781.3,190.8 781.4,197.3 781.5,180.7 781.6,181.5 781.7,185.1 781.8,179.8 781.9,182.5 782.0,183.3 782.2,180.6 782.3,181.2 782.4,184.6 782.6,182.7 782.6,180.2 782.8,173.5 782.8,185.7 782.9,185.7 783.0,180.4 783.1,187.7 783.2,181.2 783.3,184.2 783.3,193.2 783.4,182.4 783.6,192.2 783.6,183.2 783.8,191.0 783.9,171.0 784.0,187.7 784.2,183.5 784.3,191.0 784.4,189.1 784.5,180.6 784.6,189.7 784.6,186.9 784.7,184.7 784.8,189.3 784.9,185.9 785.0,181.5 785.3,186.1 785.4,188.6 785.4,177.2 785.6,193.4 785.7,180.0 785.9,176.2 785.9,183.9 786.0,189.0 786.1,184.3 786.3,193.7 786.4,184.1 786.4,173.8 786.6,192.4 786.7,188.6 786.7,187.7 787.0,182.1 787.0,198.6 787.3,178.8 787.4,188.4 787.5,185.1 787.5,194.2 787.7,186.4 787.7,188.3 787.9,183.0 788.0,191.8 788.0,189.2 788.1,178.6 788.3,191.7 788.3,183.0 788.4,185.8 788.5,180.2 788.6,191.0 788.7,184.3 788.8,186.3 788.8,186.4 788.9,181.3 789.0,182.4 789.1,193.7 789.3,186.4 789.3,188.8 789.4,180.3 789.5,177.6 789.7,188.0 789.8,180.5 789.9,186.5 790.1,184.7 790.1,184.5 790.2,171.4 790.3,189.1 790.3,186.4 790.4,188.1 790.6,192.7 790.7,181.7 790.8,198.1 791.0,179.0 791.1,198.8 791.1,184.5 791.2,179.6 791.4,181.0 791.5,187.2 791.6,194.5 791.7,178.1 791.8,189.0 791.9,178.4 792.1,184.0 792.1,186.8 792.4,174.0 792.4,194.3 792.5,182.1 792.6,181.2 792.7,190.9 792.8,198.7 792.9,176.9 793.1,182.1 793.2,179.2 793.2,178.5 793.4,186.5 793.4,185.5 793.5,182.9 793.6,182.6 793.7,191.0 793.8,185.8 793.9,188.5 793.9,192.2 794.0,182.6 794.1,191.8 794.2,181.8 794.4,187.3 794.5,186.5 794.5,185.4 794.6,182.1 794.8,198.6 794.9,196.0 795.0,185.0 795.1,189.7 795.2,195.4 795.5,181.0 795.5,180.7 795.7,192.1 795.8,188.7 795.9,182.1 796.0,189.0 796.2,178.5 796.3,184.7 796.3,191.5 796.5,190.1 796.5,183.9 796.7,180.7 796.8,186.3 796.8,183.3 796.9,177.9 797.1,190.0 797.2,179.7 797.3,188.9 797.5,177.8 797.6,183.1 797.7,192.0 797.8,181.6 797.8,186.3 797.9,189.6 798.1,177.6 798.1,190.2 798.2,189.2 798.3,181.1 798.3,190.9 798.6,186.0 798.6,197.5 798.9,183.1 798.9,179.6 799.1,178.2 799.2,196.6 799.3,186.2 799.4,191.1 799.6,171.3 799.6,171.6 799.9,185.6 799.9,189.5 800.0,179.5 800.1,189.5 800.2,189.2 800.3,187.1 800.4,195.1 800.4,182.9 800.6,183.3 800.7,184.2 800.7,188.1 800.8,179.1 800.9,180.7 801.0,180.8 801.2,198.4 801.3,189.3 801.4,174.2 801.6,178.0 801.7,188.7 801.8,182.4 802.0,187.2 802.0,183.5 802.2,192.7 802.2,185.4 802.3,178.8 802.5,174.4 802.6,193.8 802.7,182.5 802.9,188.5 803.0,179.1 803.0,181.0 803.2,193.2 803.3,184.6 803.4,186.6 803.5,179.2 803.6,186.3 803.7,181.9 803.8,192.0 803.9,173.9 804.0,188.2 804.0,192.0 804.2,182.7 804.3,188.8 804.4,185.3 804.5,190.6 804.6,183.5 804.7,184.2 805.0,173.0 805.1,186.6 805.1,184.2 805.3,198.7 805.4,183.8 805.5,180.9 805.6,189.5 805.7,183.8 805.8,179.4 806.0,194.6 806.1,189.5 806.1,182.9 806.3,183.7 806.4,187.3 806.6,190.4 806.6,183.6 806.7,186.9 806.8,190.2 807.0,174.9 807.1,193.8 807.1,183.1 807.3,188.4 807.4,183.4 807.4,182.0 807.5,184.1 807.6,172.4 807.7,181.7 807.8,182.6 807.9,177.5 808.0,189.1 808.1,186.8 808.2,179.5 808.2,191.9 808.4,184.7 808.4,192.5 808.7,182.7 808.7,184.5 808.8,185.8 808.9,199.0 809.0,183.3 809.1,183.5 809.2,194.0 809.2,180.1 809.4,189.9 809.5,193.6 809.7,180.9 809.8,182.8 810.0,197.0 810.1,187.4 810.2,176.3 810.3,187.7 810.5,187.1 810.5,187.9 810.6,182.6 810.7,182.7 810.8,194.3 810.9,175.7 811.1,185.7 811.2,184.2 811.3,189.3 811.5,177.5 811.5,187.4 811.6,197.8 811.8,183.8 811.8,187.5 811.9,188.6 812.0,193.0 812.1,182.6 812.2,185.8 812.3,199.5 812.5,177.8 812.5,192.9 812.7,181.1 812.8,183.5 812.9,188.3 813.0,192.3 813.1,178.9 813.2,192.3 813.3,182.0 813.5,190.2 813.6,190.1 813.7,180.0 813.8,190.5 813.8,185.6 813.9,181.5 814.0,193.1 814.1,181.3 814.2,181.7 814.3,187.3 814.4,192.5 814.4,175.9 814.5,185.4 814.6,183.0 814.6,180.2 814.7,187.1 814.9,186.5 814.9,181.6 815.0,182.7 815.2,176.9 815.3,183.9 815.4,178.2 815.5,187.1 815.6,168.4 815.9,188.9 815.9,179.3 816.0,185.2 816.2,175.6 816.2,182.6 816.3,185.7 816.4,176.1 816.6,186.1 816.7,183.4 816.7,192.5 816.9,182.7 816.9,183.6 817.0,183.0 817.2,187.1 817.3,176.9 817.4,186.3 817.5,175.8 817.6,184.9 817.7,185.3 817.8,189.2 817.9,176.6 818.0,190.8 818.0,182.4 818.2,187.9 818.3,185.9 818.4,192.3 818.5,182.3 818.6,186.2 818.7,177.4 818.8,195.9 819.0,193.9 819.0,188.7 819.1,179.9 819.2,191.1 819.3,183.5 819.3,187.2 819.4,189.6 819.6,175.1 819.7,189.2 819.8,184.3 819.9,193.3 820.0,192.2 820.0,182.7 820.1,194.6 820.2,180.5 820.3,182.3 820.3,192.4 820.4,203.5 820.6,178.7 820.7,191.0 820.8,183.0 821.0,185.0 821.1,185.1 821.2,176.8 821.3,196.1 821.4,195.8 821.5,176.7 821.6,197.2 821.7,188.0 821.9,199.8 822.0,181.8 822.1,182.6 822.2,170.3 822.4,195.7 822.4,196.3 822.5,209.2 822.6,177.5 822.7,181.6 822.8,192.7 823.0,187.1 823.1,178.7 823.2,194.6 823.4,183.6 823.4,193.2 823.7,177.2 823.7,179.7 823.8,181.7 823.9,178.9 824.0,187.0 824.1,194.7 824.2,206.7 824.2,180.3 824.4,192.7 824.4,190.9 824.5,182.4 824.7,194.1 824.8,182.4 825.0,176.2 825.0,182.2 825.1,214.8 825.3,176.3 825.4,187.4 825.5,174.2 825.7,197.8 825.7,191.0 825.8,187.6 826.0,179.6 826.1,198.7 826.2,201.2 826.3,175.5 826.4,185.2 826.5,176.8 826.5,169.1 826.7,206.2 826.8,196.9 826.8,193.0 826.9,195.4 827.1,168.4 827.2,184.6 827.3,194.6 827.3,184.5 827.4,187.2 827.5,181.9 827.6,207.3 827.7,180.5 827.8,187.0 827.8,184.4 827.9,198.0 828.1,167.0 828.1,174.2 828.2,181.8 828.4,175.8 828.5,201.3 828.6,183.3 828.7,205.1 828.8,188.7 828.8,194.7 829.1,175.4 829.2,186.5 829.3,198.7 829.4,172.6 829.5,180.3 829.6,185.1 829.7,191.1 829.8,180.0 829.9,175.9 830.0,192.3 830.1,175.7 830.2,178.2 830.4,191.2 830.5,173.1 830.6,196.0 830.6,171.3 830.9,183.6 830.9,181.7 831.0,162.6 831.2,212.1 831.2,187.0 831.4,191.2 831.4,170.9 831.5,181.2 831.6,198.5 831.7,171.4 831.9,178.1 831.9,177.0 832.2,189.0 832.2,179.0 832.4,174.3 832.5,186.8 832.5,177.5 832.6,193.3 832.8,179.5 832.9,183.3 833.0,188.0 833.1,182.6 833.2,191.3 833.2,186.5 833.3,178.8 833.5,195.7 833.5,191.7 833.6,194.2 833.9,180.7 834.0,186.1 834.0,198.6 834.1,176.3 834.3,177.2 834.3,180.5 834.4,191.8 834.5,158.4 834.6,183.5 834.8,180.7 834.9,191.7 835.0,189.8 835.0,177.6 835.3,195.3 835.3,185.4 835.4,177.2 835.6,196.0 835.6,186.7 835.7,192.4 835.8,179.7 835.9,196.6 836.0,178.9 836.1,178.1 836.1,200.8 836.3,187.4 836.3,201.6 836.5,170.9 836.6,191.8 836.7,188.4 836.8,195.4 836.9,184.4 837.0,192.9 837.1,202.7 837.2,173.6 837.3,193.0 837.4,189.2 837.4,195.4 837.6,188.6 837.7,192.1 837.8,198.9 838.0,173.5 838.1,191.7 838.3,184.6 838.4,186.2 838.5,179.0 838.6,194.3 838.7,183.0 838.7,170.5 839.0,209.3 839.1,177.7 839.2,192.0 839.3,181.7 839.4,178.1 839.6,156.3 839.7,190.0 839.7,179.4 839.8,210.2 840.0,197.7 840.1,194.9 840.2,191.1 840.2,208.4 840.4,195.4 840.5,202.2 840.5,159.3 840.7,199.6 840.7,194.3 841.0,174.3 841.0,190.9 841.1,190.7 841.3,172.1 841.4,175.9 841.5,201.5 841.7,156.2 841.8,210.2 841.8,174.7 842.0,184.3 842.1,184.0 842.2,160.0 842.4,249.7 842.5,158.2 842.6,226.4 842.8,97.1 842.8,192.6 842.9,182.1 843.0,227.2 843.1,189.3 843.3,121.4 843.4,173.3 843.5,208.1 843.6,170.6 843.8,179.5 843.8,180.0 843.9,156.5 844.0,207.1 844.1,198.2 844.1,166.8 844.2,165.3 844.3,261.0 844.4,212.2 844.5,186.2 844.7,141.3 844.8,219.8 844.9,157.7 845.0,241.5 845.1,160.7 845.2,162.7 845.3,132.7 845.4,197.7 845.4,179.5 845.5,234.3 845.6,257.8 845.8,211.8 845.9,156.1 845.9,120.7 846.1,174.2 846.2,148.8 846.4,187.0 846.5,182.6 846.6,212.2 846.7,213.2 846.8,185.9 846.9,208.7 847.1,170.6 847.2,182.5 847.2,186.0 847.3,207.8 847.4,168.8 847.5,174.3 847.6,210.4 847.7,237.4 847.8,185.0 847.9,172.6 848.0,225.5 848.2,208.2 848.2,180.5 848.5,190.5 848.5,152.7 848.6,189.0 848.7,195.8 848.9,153.6 849.0,171.6 849.0,199.4 849.2,166.2 849.3,163.3 849.5,205.6 849.5,178.6 849.6,192.5 849.8,162.8 849.9,203.7 850.0,160.9 850.0,158.8 850.1,232.0 850.2,170.3 850.3,172.5 850.5,197.4 850.6,187.2 850.7,130.2 850.8,196.9 850.9,195.3 851.0,195.1 851.1,185.9 851.2,201.5 851.3,189.0 851.3,172.3 851.4,185.6 851.5,146.8 851.6,174.3 851.6,182.5 851.8,198.5 851.9,151.3 852.0,202.7 852.1,177.5 852.2,207.4 852.3,183.3 852.4,178.0 852.4,176.5 852.5,227.0 852.6,207.7 852.6,163.0 852.8,213.6 852.9,143.8 853.0,204.9 853.3,161.0 853.4,200.8 853.4,184.8 853.6,205.9 853.7,183.4 853.9,179.8 853.9,213.1 854.0,183.1 854.1,175.8 854.2,194.8 854.3,184.6 854.4,175.1 854.4,199.6 854.7,175.3 854.7,162.6 854.8,204.0 854.9,192.3 855.0,158.0 855.3,209.5 855.4,175.9 855.6,210.2 855.7,185.8 855.7,171.8 856.0,223.1 856.1,176.6 856.2,176.5 856.2,182.1 856.3,178.0 856.4,190.8 856.5,175.3 856.7,203.5 856.7,166.6 856.8,204.5 857.0,172.7 857.1,191.1 857.2,182.5 857.3,207.0 857.3,193.9 857.4,199.4 857.7,178.5 857.8,166.0 857.8,164.7 857.9,192.1 858.0,187.2 858.1,197.4 858.3,161.5 858.4,179.4 858.5,174.0 858.6,193.9 858.7,188.0 858.8,183.2 858.9,176.8 859.0,195.4 859.1,179.1 859.1,160.8 859.3,189.1 859.4,184.3 859.5,183.4 859.6,194.1 859.6,180.3 859.7,191.8 859.8,183.0 859.8,191.0 860.1,177.4 860.1,197.3 860.3,176.9 860.4,184.1 860.5,175.3 860.7,196.4 860.8,181.2 860.9,186.3 861.0,177.1 861.1,186.6 861.1,177.3 861.4,203.3 861.5,182.6 861.7,196.2 861.7,179.9 861.8,195.4 861.9,195.4 862.1,176.3 862.2,192.1 862.3,180.2 862.4,184.6 862.5,185.0 862.7,176.0 862.8,197.1 862.9,184.1 862.9,190.0 863.1,180.2 863.2,188.5 863.2,186.8 863.4,178.0 863.5,198.2 863.5,183.7 863.6,167.7 863.7,189.9 863.8,181.3 863.9,191.0 864.0,194.2 864.2,176.6 864.2,183.4 864.4,182.1 864.5,185.2 864.5,187.4 864.6,190.3 864.8,179.5 864.9,180.2 865.0,188.3 865.0,173.2 865.2,177.2 865.3,184.1 865.5,203.9 865.5,188.9 865.6,180.4 865.8,199.8 865.9,191.5 866.1,176.2 866.2,180.1 866.3,175.7 866.3,169.3 866.5,192.3 866.6,188.4 866.6,166.9 866.7,183.5 866.8,182.9 866.9,189.9 867.1,187.3 867.2,201.8 867.3,181.4 867.3,189.5 867.6,175.3 867.6,190.5 867.7,192.4 867.9,175.1 868.0,186.9 868.1,194.6 868.2,166.2 868.3,185.7 868.4,187.7 868.4,177.2 868.6,186.5 868.6,178.7 868.8,191.6 868.9,184.1 869.0,175.0 869.2,188.3 869.2,181.2 869.3,194.0 869.4,171.9 869.6,189.4 869.7,191.3 869.7,193.0 869.9,179.0 869.9,185.9 870.0,174.4 870.2,210.2 870.3,177.4 870.4,199.2 870.5,171.6 870.6,187.1 870.7,190.9 870.7,177.8 870.9,194.2 871.0,190.7 871.0,178.4 871.1,187.8 871.2,170.0 871.3,181.7 871.4,187.9 871.5,149.6 871.6,190.1 871.7,190.1 871.7,217.4 871.9,180.2 872.0,184.5 872.0,174.2 872.3,202.2 872.4,174.9 872.7,196.3 872.8,186.1 873.0,179.4 873.0,190.6 873.3,183.6 873.3,207.4 873.4,192.6 873.6,170.2 873.7,175.0 873.8,194.3 873.8,180.7 874.0,186.7 874.1,187.4 874.2,202.2 874.3,185.2 874.3,195.0 874.4,191.2 874.6,176.6 874.7,214.0 874.8,187.5 874.8,193.1 875.0,184.1 875.1,188.6 875.1,191.3 875.4,171.4 875.4,177.5 875.6,174.3 875.7,197.1 875.8,164.6 875.9,182.2 876.1,177.6 876.1,182.6 876.2,174.6 876.4,182.1 876.4,172.4 876.6,187.7 876.7,186.0 876.8,185.3 876.9,170.0 877.1,194.9 877.2,183.0 877.2,191.8 877.3,175.8 877.4,182.2 877.5,176.7 877.6,170.2 877.7,183.3 877.8,184.0 878.0,206.3 878.1,193.1 878.2,183.6 878.2,177.2 878.4,188.8 878.5,185.4 878.5,202.0 878.7,179.6 878.8,192.9 878.9,187.7 879.1,188.3 879.2,178.8 879.2,188.6 879.3,176.1 879.5,185.0 879.5,192.1 879.7,177.9 879.8,187.1 879.9,186.8 880.0,184.7 880.1,185.8 880.2,176.9 880.4,200.1 880.5,183.9 880.5,181.0 880.7,180.2 880.8,200.4 880.8,180.9 880.9,186.7 881.0,197.2 881.1,186.6 881.2,189.0 881.3,197.6 881.4,179.7 881.5,187.9 881.6,181.9 881.8,187.1 881.8,181.6 881.9,184.5 882.0,191.1 882.2,180.2 882.3,187.5 882.4,179.8 882.5,181.9 882.6,194.4 882.8,179.6 882.9,187.6 882.9,191.6 883.2,183.4 883.3,185.3 883.4,179.0 883.5,184.3 883.6,178.2 883.6,191.4 883.9,180.6 883.9,180.7 884.0,192.0 884.1,175.9 884.2,189.1 884.3,189.4 884.4,190.4 884.4,177.1 884.6,187.5 884.7,181.2 884.7,195.9 884.9,189.3 884.9,190.0 885.0,173.6 885.1,192.0 885.2,181.0 885.3,185.5 885.5,190.2 885.6,182.4 885.7,184.2 885.7,175.0 885.8,186.4 886.0,182.6 886.0,182.5 886.2,200.9 886.2,181.1 886.3,184.4 886.4,183.2 886.6,189.6 886.7,186.9 886.8,182.2 887.0,190.8 887.0,180.4 887.2,191.2 887.3,182.9 887.4,189.7 887.6,189.4 887.7,169.4 887.9,183.7 888.0,182.5 888.0,187.3 888.3,187.3 888.3,180.7 888.4,181.5 888.5,189.3 888.6,187.2 888.7,187.3 888.9,180.9 889.0,181.5 889.1,188.9 889.2,200.2 889.3,179.2 889.3,185.9 889.4,181.4 889.5,178.2 889.6,193.5 889.6,186.8 889.7,182.5 889.8,188.6 889.8,182.2 890.0,188.1 890.1,181.8 890.3,193.3 890.3,179.8 890.4,191.6 890.5,171.8 890.7,191.9 890.8,185.4 890.9,191.1 891.0,180.9 891.1,183.4 891.2,183.9 891.3,179.7 891.4,181.4 891.4,171.8 891.6,192.6 891.7,179.0 891.8,176.0 891.9,192.8 892.0,187.0 892.1,176.5 892.4,190.5 892.4,163.2 892.5,190.6 892.7,186.3 892.8,186.2 892.9,179.2 893.1,192.7 893.2,170.3 893.2,158.4 893.4,192.3 893.4,193.4 893.5,210.0 893.7,182.7 893.8,189.4 894.0,195.5 894.0,177.4 894.1,182.2 894.2,241.3 894.4,180.8 894.5,181.7 894.7,187.8 894.7,178.6 894.8,200.2 894.9,176.4 895.0,202.2 895.1,177.5 895.2,188.6 895.3,197.0 895.4,172.6 895.5,194.5 895.5,188.4 895.6,193.1 895.8,176.8 895.8,155.7 896.1,209.1 896.2,187.5 896.3,204.8 896.5,178.9 896.5,211.5 896.8,169.9 896.8,195.5 896.9,171.6 897.1,175.6 897.2,184.4 897.3,190.3 897.4,171.7 897.5,176.0 897.6,202.7 897.8,180.5 897.8,201.1 897.9,219.1 898.1,182.3 898.1,193.8 898.2,178.0 898.4,195.3 898.4,168.8 898.5,189.2 898.6,145.8 898.6,225.3 898.9,193.8 898.9,189.3 899.0,176.7 899.1,197.3 899.1,181.1 899.2,183.3 899.4,194.4 899.5,166.6 899.6,186.2 899.7,178.9 899.9,198.2 899.9,162.5 900.1,195.1 900.2,171.7 900.3,195.0 900.4,153.6 900.5,179.4 900.6,178.4 900.7,175.5 900.8,199.1 900.9,187.0 900.9,188.4 901.2,169.9 901.3,187.9 901.4,185.5 901.5,206.6 901.6,189.0 901.8,169.7 901.9,180.4 902.0,184.5 902.0,194.8 902.2,180.8 902.2,187.9 902.3,186.8 902.4,187.9 902.5,178.4 902.6,180.1 902.7,185.3 902.8,167.1 902.9,186.4 903.0,195.4 903.2,182.7 903.3,187.0 903.3,194.7 903.5,178.4 903.6,187.1 903.7,191.1 903.8,185.0 903.9,186.9 904.0,190.3 904.1,182.0 904.3,190.4 904.3,182.0 904.4,190.4 904.6,177.2 904.7,187.8 904.8,182.6 904.9,189.1 905.0,185.6 905.1,186.8 905.2,180.0 905.3,186.3 905.3,185.7 905.5,179.8 905.6,189.7 905.6,182.8 905.7,191.3 905.9,192.0 906.0,178.5 906.1,178.9 906.2,194.3 906.3,186.2 906.4,189.1 906.4,182.3 906.6,190.7 906.7,187.5 906.8,184.6 907.0,186.1 907.1,189.2 907.4,174.9 907.4,184.7 907.5,173.6 907.6,189.4 907.7,173.8 907.7,183.1 907.9,188.4 908.0,184.6 908.1,189.7 908.4,184.4 908.4,184.4 908.6,194.4 908.7,180.2 908.7,181.6 908.9,180.5 909.0,191.4 909.1,177.9 909.2,185.8 909.4,183.1 909.5,180.1 909.7,196.6 909.8,182.6 910.0,187.4 910.1,187.5 910.2,185.4 910.2,193.0 910.4,186.6 910.5,183.1 910.6,193.0 910.8,186.4 910.8,188.2 910.9,191.5 911.0,185.3 911.1,194.0 911.2,185.0 911.4,190.0 911.5,181.7 911.6,194.3 911.7,179.4 911.8,192.4 911.8,190.3 912.1,181.0 912.2,187.9 912.3,190.9 912.3,174.7 912.4,182.1 912.5,180.1 912.6,187.7 912.8,187.3 912.8,181.7 913.0,185.6 913.1,176.6 913.1,182.4 913.2,184.4 913.3,186.9 913.4,181.5 913.5,186.6 913.6,189.5 913.7,183.0 913.8,185.8 913.9,185.5 913.9,182.1 914.1,193.8 914.2,189.3 914.4,178.6 914.4,194.7 914.5,185.1 914.6,186.1 914.6,181.1 914.8,189.5 914.9,181.6 915.2,191.0 915.2,179.1 915.4,184.3 915.4,175.5 915.5,181.8 915.6,173.7 915.8,196.1 915.9,191.3 916.2,186.1 916.2,186.0 916.3,172.7 916.5,181.7 916.6,182.8 916.7,191.5 916.7,178.5 916.9,188.5 917.0,182.6 917.1,183.7 917.2,175.7 917.2,191.8 917.3,183.0 917.5,183.2 917.6,188.1 917.7,193.8 917.8,180.8 917.9,186.0 918.0,186.9 918.0,185.5 918.1,187.4 918.2,186.8 918.3,184.7 918.3,177.1 918.4,185.1 918.5,178.1 918.6,198.3 918.8,183.8 918.9,193.0 919.0,181.7 919.1,179.1 919.3,188.8 919.3,185.9 919.4,184.0 919.6,188.0 919.6,182.6 919.7,189.8 919.9,173.8 920.0,186.0 920.1,182.0 920.3,182.7 920.3,186.6 920.6,182.8 920.6,184.0 920.8,182.2 920.9,197.0 921.0,179.8 921.2,186.2 921.3,180.2 921.4,190.8 921.6,180.4 921.7,190.1 921.8,191.4 921.9,179.9 922.0,184.2 922.1,173.8 922.1,185.1 922.3,183.3 922.4,182.6 922.4,188.4 922.7,185.6 922.7,186.0 922.8,188.0 922.9,183.0 922.9,184.4 923.0,184.9 923.2,191.1 923.3,180.8 923.4,181.2 923.7,186.8 923.7,189.6 923.9,181.4 924.0,186.6 924.1,184.0 924.3,188.0 924.4,193.5 924.7,175.7 924.7,183.7 925.0,187.4 925.0,183.5 925.1,187.8 925.2,181.0 925.2,187.9 925.3,182.9 925.4,188.3 925.6,183.9 925.7,191.2 925.8,185.5 925.8,176.7 926.0,188.4 926.0,186.8 926.1,182.0 926.4,190.6 926.5,192.1 926.7,180.8 926.8,184.8 926.9,183.6 927.0,188.5 927.1,183.7 927.2,188.4 927.4,180.6 927.5,189.2 927.7,181.6 927.8,185.4 927.8,195.7 928.0,179.8 928.1,186.3 928.1,185.4 928.3,180.4 928.3,192.6 928.4,188.1 928.5,187.2 928.8,181.0 928.9,184.5 929.0,180.3 929.1,188.9 929.1,193.4 929.3,182.0 929.4,185.1 929.5,186.7 929.7,180.6 929.8,182.6 929.9,184.8 929.9,183.2 930.1,188.3 930.1,188.2 930.2,188.7 930.4,180.6 930.4,187.3 930.5,184.4 930.8,173.9 930.9,176.7 931.0,174.1 931.2,185.9 931.2,181.4 931.3,196.4 931.4,180.6 931.4,186.9 931.5,178.3 931.7,187.0 931.8,182.4 931.9,185.2 932.0,196.0 932.2,186.7 932.2,188.2 932.5,195.8 932.5,184.3 932.6,186.6 932.7,184.3 932.8,188.7 932.9,184.1 933.0,183.8 933.2,192.4 933.2,183.0 933.5,181.4 933.6,178.3 933.8,196.4 933.9,179.2 934.0,189.8 934.2,181.3 934.3,190.1 934.4,182.8 934.5,186.9 934.6,187.0 934.8,177.2 934.9,181.1 935.0,187.2 935.2,181.0 935.3,178.0 935.3,192.9 935.6,187.4 935.6,187.1 935.7,184.8 935.9,186.0 936.0,181.5 936.1,188.1 936.2,183.3 936.3,179.9 936.4,187.8 936.6,179.4 936.6,187.6 936.7,180.8 936.9,189.6 937.0,179.6 937.1,188.0 937.3,184.7 937.4,179.0 937.5,188.8 937.6,186.5 937.6,185.2 937.7,189.1 937.9,182.1 938.0,187.6 938.2,185.3 938.2,189.2 938.3,188.3 938.4,194.3 938.4,182.9 938.6,186.9 938.7,183.0 938.8,188.5 938.9,177.1 939.0,181.7 939.3,188.8 939.4,184.0 939.5,187.8 939.7,182.4 939.7,186.0 939.9,184.5 940.0,187.2 940.0,181.6 940.1,186.4 940.3,182.4 940.4,181.6 940.5,189.5 940.7,189.1 940.7,188.2 940.9,179.7 941.0,187.5 941.0,186.5 941.1,187.9 941.3,183.4 941.4,184.2 941.5,191.5 941.7,180.6 941.8,180.5 941.9,186.7 942.0,173.9 942.1,186.6 942.3,188.3 942.3,183.2 942.4,186.0 942.5,175.0 942.7,182.3 942.8,179.1 942.8,176.4 942.9,189.7 943.1,184.4 943.1,186.8 943.2,187.2 943.3,180.1 943.3,183.0 943.4,187.3 943.5,189.3 943.6,179.2 943.7,181.7 943.8,188.0 943.8,186.5 944.1,187.7 944.1,180.7 944.2,175.9 944.3,186.1 944.4,184.8 944.5,194.4 944.7,183.4 944.8,190.6 944.9,195.1 945.0,180.7 945.1,183.0 945.1,182.3 945.3,180.6 945.4,196.4 945.4,192.0 945.5,183.0 945.7,185.9 945.7,185.4 945.8,186.2 946.0,191.3 946.1,186.7 946.2,174.5 946.4,186.8 946.4,174.5 946.5,181.4 946.6,190.9 946.8,182.5 946.9,185.2 946.9,178.3 947.1,188.0 947.2,190.4 947.4,184.0 947.5,185.2 947.5,181.9 947.7,185.8 947.8,184.7 947.9,185.1 948.0,179.6 948.0,189.9 948.1,182.9 948.2,183.7 948.2,190.2 948.5,185.9 948.5,186.6 948.6,174.1 948.8,186.6 948.8,181.7 948.9,185.3 949.0,192.8 949.2,176.4 949.3,177.1 949.4,187.3 949.5,179.2 949.5,185.0 949.7,173.8 949.8,187.6 949.9,188.9 950.2,184.0 950.3,174.1 950.5,190.6 950.6,187.5 950.6,187.9 950.7,181.5 950.8,183.8 950.9,188.0 951.1,189.1 951.1,186.1 951.2,188.6 951.3,193.4 951.5,182.0 951.6,191.3 951.6,185.5 951.8,188.6 951.9,185.1 951.9,184.7 952.0,192.8 952.1,182.2 952.2,185.9 952.3,180.3 952.4,189.2 952.5,178.5 952.6,187.2 952.6,185.2 952.7,194.1 952.8,179.8 952.9,182.8 952.9,183.9 953.1,196.9 953.2,183.4 953.3,183.9 953.4,183.6 953.5,188.3 953.6,184.7 953.7,187.7 953.9,183.1 953.9,188.9 954.0,183.8 954.2,188.7 954.3,188.3 954.5,182.9 954.6,194.2 954.7,186.4 954.7,183.4 954.8,192.4 955.0,183.9 955.0,185.9 955.1,182.2 955.2,188.0 955.2,185.4 955.3,185.5 955.5,191.0 955.6,190.0 955.7,187.2 955.7,188.2 955.8,175.9 956.0,186.2 956.0,180.2 956.1,176.5 956.2,186.2 956.3,179.2 956.4,183.3 956.6,178.7 956.7,185.6 956.9,186.1 957.0,176.8 957.0,187.7 957.2,177.8 957.3,185.4 957.4,187.7 957.5,182.1 957.6,186.9 957.7,178.1 957.8,190.6 958.0,185.2 958.1,178.8 958.1,196.2 958.3,184.7 958.4,190.2 958.5,179.4 958.7,186.9 958.8,186.3 958.9,182.0 959.0,186.4 959.1,182.6 959.4,189.4 959.4,184.0 959.5,188.5 959.7,182.2 959.8,183.4 959.9,189.2 960.0,185.5 960.1,184.6 960.1,190.8 960.4,177.6 960.4,183.9 960.7,188.0 960.8,186.2 960.9,184.5 961.1,196.4 961.2,186.0 961.2,188.6 961.3,181.0 961.4,186.1 961.4,182.9 961.5,189.5 961.7,176.9 961.7,178.0 961.8,185.2 961.9,188.2 962.1,181.8 962.2,189.3 962.2,187.8 962.4,189.5 962.5,185.8 962.5,175.4 962.7,191.8 962.7,191.1 962.8,189.8 963.1,183.1 963.2,186.0 963.2,184.6 963.3,195.6 963.5,186.6 963.5,184.1 963.6,189.0 963.7,186.0 963.8,184.2 964.0,173.4 964.0,189.5 964.1,180.7 964.2,185.5 964.3,177.4 964.4,187.5 964.5,186.9 964.5,187.6 964.6,189.5 964.7,181.0 964.8,183.3 964.8,187.3 965.0,181.0 965.1,183.3 965.2,184.6 965.3,176.9 965.4,191.6 965.5,184.2 965.6,182.0 965.6,190.3 965.8,180.9 965.8,185.2 965.9,190.4 966.1,179.8 966.2,171.9 966.3,187.8 966.5,174.9 966.6,179.7 966.6,179.4 966.7,189.6 966.8,183.7 966.9,190.2 967.2,180.9 967.3,189.8 967.4,217.4 967.5,183.3 967.6,154.5 967.6,194.6 967.9,187.1 967.9,173.9 968.1,190.9 968.2,176.9 968.3,191.3 968.4,175.9 968.5,190.2 968.6,191.8 968.7,196.4 968.9,165.3 968.9,178.9 969.0,174.4 969.2,191.8 969.2,191.3 969.3,181.7 969.4,191.8 969.4,177.7 969.6,185.6 969.7,198.9 969.7,199.3 969.9,184.3 970.0,195.8 970.1,203.6 970.2,181.5 970.2,182.4 970.3,171.7 970.5,211.8 970.6,190.5 970.7,181.3 970.7,157.5 970.9,192.0 971.0,188.7 971.1,183.2 971.2,198.4 971.2,191.2 971.3,178.7 971.5,192.6 971.6,188.7 971.7,203.0 971.8,212.9 971.9,183.0 972.0,200.7 972.0,189.0 972.2,186.5 972.3,188.8 972.3,193.0 972.5,197.4 972.6,180.4 972.7,174.2 972.8,192.3 973.0,183.2 973.1,193.2 973.1,178.2 973.3,186.4 973.3,183.8 973.4,178.8 973.5,194.4 973.6,181.5 973.7,195.0 973.8,196.3 974.0,182.0 974.1,170.7 974.3,192.8 974.4,189.5 974.6,199.7 974.6,182.1 974.7,178.1 975.0,191.9 975.1,176.4 975.4,194.0 975.4,167.9 975.6,200.3 975.6,188.0 975.7,173.3 976.0,191.8 976.1,182.3 976.2,192.1 976.2,175.7 976.4,183.2 976.4,174.0 976.7,194.3 976.7,184.6 976.8,197.1 976.9,177.0 977.0,178.3 977.1,174.2 977.2,187.9 977.2,173.0 977.4,182.4 977.4,189.4 977.5,191.3 977.6,180.5 977.7,186.1 977.8,186.8 977.9,188.4 978.0,183.8 978.1,181.9 978.2,181.2 978.3,192.4 978.4,191.2 978.5,181.7 978.5,180.7 978.7,192.9 978.8,184.0 978.9,183.2 979.0,189.6 979.1,184.0 979.2,182.0 979.4,191.6 979.5,185.5 979.5,191.4 979.8,181.3 979.8,179.2 979.9,191.5 980.1,177.8 980.2,184.2 980.3,182.8 980.3,186.1 980.4,183.9 980.5,185.9 980.8,180.0 980.8,187.6 981.0,177.9 981.1,185.6 981.2,189.1 981.3,182.9 981.4,189.3 981.5,188.8 981.6,186.2 981.6,178.5 981.7,192.6 981.8,186.4 981.8,176.8 982.1,193.2 982.2,178.7 982.5,189.3 982.6,190.2 982.8,178.2 982.9,187.9 983.0,192.2 983.1,178.8 983.2,189.3 983.4,174.8 983.5,189.2 983.6,183.6 983.6,176.2 983.7,186.0 983.9,177.8 983.9,187.3 984.2,179.4 984.2,177.6 984.3,189.1 984.5,182.9 984.6,186.2 984.7,187.7 984.8,182.0 984.9,187.6 984.9,182.5 985.1,191.4 985.2,179.7 985.2,187.5 985.5,183.9 985.5,185.5 985.6,184.6 985.7,182.7 985.9,186.6 986.0,182.8 986.1,189.0 986.2,186.0 986.3,186.4 986.4,179.3 986.5,188.0 986.5,186.9 986.6,182.4 986.8,182.1 986.9,194.6 987.0,185.4 987.2,189.5 987.3,185.5 987.3,184.5 987.5,179.0 987.5,188.0 987.6,181.5 987.8,190.4 987.9,180.8 988.0,195.8 988.3,179.5 988.3,186.0 988.6,182.9 988.6,184.0 988.7,185.8 988.9,186.4 989.0,178.5 989.1,188.9 989.3,174.9 989.3,186.0 989.5,190.7 989.6,185.4 989.6,185.7 989.7,183.6 989.8,181.8 989.9,187.0 990.0,176.3 990.3,185.8 990.4,187.6 990.4,188.9 990.5,181.9 990.6,187.2 990.7,186.8 991.0,179.8 991.1,175.6 991.3,186.4 991.4,189.4 991.5,174.5 991.7,186.0 991.7,188.8 991.8,182.4 992.0,187.9 992.1,191.3 992.2,181.4 992.3,186.0 992.4,183.1 992.4,181.3 992.5,184.9 992.7,184.0 992.7,182.2 993.0,189.5 993.0,182.8 993.1,182.0 993.4,193.0 993.5,190.4 993.7,182.6 993.7,187.7 993.9,182.1 994.0,184.5 994.1,184.6 994.3,189.1 994.4,180.2 994.5,184.5 994.5,181.9 994.7,188.0 994.8,193.6 994.8,182.4 995.0,188.8 995.1,179.6 995.2,193.7 995.4,180.4 995.5,179.0 995.6,190.5 995.8,186.4 995.8,180.8 996.0,189.8 996.1,183.0 996.1,183.5 996.2,185.6 996.3,179.8 996.4,182.4 996.5,183.9 996.7,188.6 996.8,188.6 996.8,184.6 997.0,191.5 997.1,186.9 997.1,187.1 997.3,179.1 997.4,186.2 997.5,185.7 997.6,183.3 997.7,187.5 997.8,183.8 997.9,185.2 997.9,177.8 998.1,185.4 998.1,182.6 998.2,183.3 998.3,191.2 998.4,185.3 998.5,183.4 998.6,180.2 998.6,190.6 998.8,186.4 998.9,190.3 998.9,183.2 999.2,188.6 999.2,188.4 999.3,184.5 999.4,185.8 999.5,183.8 999.6,189.8 999.7,181.6 999.8,185.4 999.9,188.6 1000.1,183.3 1000.2,193.6 1000.2,186.6 1000.4,183.8 1000.5,190.0 1000.6,180.2 1000.7,186.9 1000.8,185.6 1000.9,181.1 1001.0,189.6 1001.2,185.1 1001.2,185.2 1001.4,176.2 1001.5,190.1 1001.5,183.3 1001.6,189.4 1001.7,181.6 1001.8,185.6 1001.9,189.2 1002.0,179.2 1002.2,187.4 1002.3,187.8 1002.3,184.3 1002.5,193.1 1002.5,185.9 1002.6,179.8 1002.8,190.8 1002.9,183.6 1003.0,187.0 1003.0,185.2 1003.2,189.4 1003.3,188.9 1003.4,190.2 1003.6,180.5 1003.6,185.8 1003.7,178.7 1003.8,190.8 1003.9,186.9 1004.0,188.3 1004.1,188.9 1004.2,185.4 1004.3,182.1 1004.3,189.2 1004.6,184.0 1004.6,184.5 1004.8,186.8 1004.9,178.0 1005.0,179.6 1005.3,188.1 1005.4,176.6 1005.6,190.3 1005.6,185.3 1005.7,185.4 1005.9,182.0 1006.0,175.9 1006.1,194.3 1006.3,186.0 1006.4,189.7 1006.4,176.6 1006.6,185.0 1006.7,188.4 1006.7,180.0 1006.9,186.7 1007.0,195.0 1007.3,182.7 1007.4,183.9 1007.4,180.7 1007.7,185.5 1007.7,185.6 1007.9,188.5 1008.0,185.4 1008.1,187.8 1008.3,176.6 1008.4,181.2 1008.5,185.3 1008.7,184.8 1008.7,184.3 1009.0,173.8 1009.0,184.5 1009.1,181.9 1009.2,187.6 1009.3,186.5 1009.4,183.2 1009.5,185.1 1009.6,179.4 1009.7,184.2 1009.8,183.6 1009.8,197.7 1009.9,178.4 1010.0,184.4 1010.1,188.2 1010.2,191.2 1010.3,182.7 1010.4,184.3 1010.5,184.2 1010.7,190.9 1010.8,188.0 1010.8,191.2 1011.0,181.0 1011.0,186.5 1011.1,178.8 1011.2,193.0 1011.4,184.7 1011.5,185.3 1011.6,184.2 1011.6,196.4 1011.7,196.3 1011.8,186.9 1011.8,184.1 1012.0,218.3 1012.1,190.6 1012.1,183.8 1012.2,178.3 1012.3,200.7 1012.4,187.5 1012.5,201.3 1012.7,175.1 1012.8,183.2 1012.9,167.7 1013.1,196.0 1013.1,182.3 1013.2,191.2 1013.4,178.2 1013.4,180.3 1013.5,201.5 1013.6,180.4 1013.8,182.8 1013.9,185.3 1013.9,175.8 1014.0,192.1 1014.1,184.7 1014.1,205.6 1014.2,169.6 1014.4,172.2 1014.5,180.3 1014.6,180.2 1014.7,198.3 1014.8,184.4 1014.9,182.7 1015.0,192.2 1015.1,186.6 1015.2,181.3 1015.3,199.0 1015.4,182.1 1015.5,183.9 1015.6,194.6 1015.7,178.1 1015.8,178.9 1015.9,202.0 1016.1,164.7 1016.2,192.8 1016.2,189.0 1016.4,181.7 1016.5,189.1 1016.5,191.4 1016.7,180.2 1016.8,183.2 1016.9,193.6 1017.1,180.2 1017.2,187.6 1017.2,188.6 1017.5,185.3 1017.5,191.9 1017.8,178.1 1017.9,183.1 1018.1,187.5 1018.2,183.2 1018.3,183.3 1018.3,176.9 1018.4,193.4 1018.5,180.2 1018.6,187.6 1018.7,193.3 1018.8,180.5 1018.9,182.9 1019.1,187.6 1019.2,180.8 1019.3,192.3 1019.6,178.4 1019.6,180.5 1019.8,186.8 1019.8,182.1 1019.9,186.7 1020.1,183.9 1020.1,190.7 1020.2,185.9 1020.3,181.2 1020.4,185.0 1020.5,180.8 1020.6,183.9 1020.6,189.0 1020.9,179.0 1020.9,190.7 1021.0,188.0 1021.1,192.9 1021.2,177.9 1021.3,183.8 1021.4,175.2 1021.6,198.2 1021.6,185.3 1021.8,190.8 1021.9,182.3 1021.9,186.7 1022.0,178.2 1022.1,171.8 1022.2,188.8 1022.2,187.9 1022.3,183.7 1022.4,187.9 1022.6,185.1 1022.7,189.0 1022.7,171.2 1022.9,176.3 1023.0,184.0 1023.1,183.1 1023.3,188.9 1023.4,190.4 1023.5,182.0 1023.6,192.9 1023.7,179.4 1023.9,186.7 1024.0,186.5 1024.0,182.2 1024.2,204.8 1024.2,181.9 1024.3,182.9 1024.4,182.2 1024.5,182.6 1024.6,177.5 1024.7,217.4 1024.8,176.6 1025.0,184.8 1025.0,202.1 1025.2,179.0 1025.3,188.7 1025.4,190.7 1025.6,182.2 1025.7,197.0 1025.8,177.8 1025.9,191.7 1026.0,176.9 1026.0,176.0 1026.1,193.2 1026.3,181.9 1026.4,181.1 1026.6,178.9 1026.7,190.6 1026.8,201.8 1026.8,168.2 1027.0,183.8 1027.1,172.3 1027.2,191.9 1027.3,187.0 1027.4,179.6 1027.6,192.9 1027.7,187.3 1027.8,146.4 1027.9,188.5 1028.1,159.4 1028.1,174.3 1028.4,195.1 1028.4,188.5 1028.5,198.7 1028.6,177.0 1028.7,190.5 1028.8,183.2 1028.9,192.1 1029.1,187.9 1029.1,186.0 1029.3,188.8 1029.4,173.5 1029.4,180.6 1029.6,175.4 1029.7,200.8 1029.8,185.5 1030.0,188.7 1030.1,180.5 1030.2,187.2 1030.2,165.8 1030.4,182.7 1030.5,191.2 1030.6,192.2 1030.7,176.1 1030.7,185.5 1030.8,177.3 1030.9,192.4 1031.1,186.5 1031.2,181.0 1031.4,188.3 1031.5,188.0 1031.5,177.6 1031.7,191.5 1031.7,188.3 1031.8,185.8 1031.9,180.2 1032.0,190.3 1032.1,186.3 1032.2,178.4 1032.5,193.3 1032.5,186.8 1032.6,186.5 1032.8,192.2 1032.8,191.3 1032.9,188.3 1033.0,185.8 1033.1,191.3 1033.2,184.2 1033.3,181.0 1033.4,198.0 1033.5,183.5 1033.5,182.7 1033.8,197.9 1033.8,179.2 1033.9,178.4 1034.0,191.5 1034.1,184.5 1034.2,183.0 1034.4,190.4 1034.5,186.2 1034.6,187.5 1034.8,183.3 1034.8,191.6 1034.9,189.0 1035.0,192.4 1035.1,180.8 1035.2,186.1 1035.3,186.2 1035.3,193.8 1035.5,183.2 1035.6,181.9 1035.8,190.0 1035.9,187.1 1035.9,181.1 1036.2,185.7 1036.3,189.4 1036.5,184.5 1036.6,188.3 1036.8,181.1 1036.9,185.4 1036.9,188.8 1037.2,173.0 1037.3,189.5 1037.6,182.7 1037.7,178.6 1037.9,190.4 1037.9,177.2 1038.2,191.0 1038.3,181.9 1038.6,189.7 1038.7,186.0 1038.8,188.0 1038.9,187.8 1039.0,181.8 1039.1,179.9 1039.2,189.2 1039.3,183.6 1039.5,176.8 1039.6,180.9 1039.7,184.8 1039.8,183.8 1039.9,190.2 1040.0,189.7 1040.0,187.2 1040.1,190.4 1040.2,181.8 1040.3,184.9 1040.3,183.5 1040.4,178.7 1040.6,187.5 1040.7,187.8 1040.8,181.0 1040.9,190.0 1041.0,189.4 1041.0,193.0 1041.2,194.2 1041.3,184.1 1041.3,179.0 1041.5,195.4 1041.6,185.0 1041.7,186.2 1041.9,174.9 1042.0,185.8 1042.1,192.1 1042.3,174.8 1042.3,186.4 1042.4,188.4 1042.5,182.1 1042.6,189.4 1042.6,184.7 1042.7,187.4 1042.8,188.6 1043.0,183.5 1043.1,187.3 1043.3,181.0 1043.4,188.0 1043.4,191.5 1043.5,191.5 1043.6,188.9 1043.7,183.1 1043.9,193.5 1044.0,177.9 1044.1,181.5 1044.2,188.2 1044.4,187.9 1044.4,185.5 1044.6,180.8 1044.7,194.8 1044.8,184.3 1044.9,186.3 1044.9,179.2 1045.0,181.6 1045.1,187.7 1045.2,180.2 1045.3,190.9 1045.4,181.9 1045.4,182.0 1045.6,187.5 1045.7,184.1 1045.8,195.8 1045.9,181.1 1046.0,189.1 1046.1,187.8 1046.2,178.4 1046.3,189.9 1046.4,181.2 1046.5,182.1 1046.7,191.5 1046.8,185.3 1046.9,170.5 1047.0,190.5 1047.1,185.1 1047.2,184.7 1047.2,176.0 1047.4,181.5 1047.5,185.7 1047.6,180.7 1047.7,191.6 1047.7,184.4 1047.8,175.8 1048.0,191.4 1048.1,184.7 1048.2,196.9 1048.5,172.4 1048.5,199.6 1048.8,148.5 1048.8,184.3 1049.0,166.7 1049.0,198.8 1049.1,173.1 1049.2,191.5 1049.3,213.7 1049.4,179.5 1049.5,184.0 1049.6,207.3 1049.6,165.3 1049.7,261.9 1049.8,183.5 1049.8,138.1 1050.1,288.1 1050.1,194.2 1050.2,205.4 1050.4,109.3 1050.5,156.4 1050.6,184.8 1050.7,254.6 1050.8,130.2 1050.8,147.5 1050.9,196.2 1051.1,194.8 1051.1,196.7 1051.2,229.1 1051.3,186.5 1051.5,220.7 1051.6,171.7 1051.8,155.4 1051.9,217.1 1051.9,163.9 1052.0,145.9 1052.1,185.2 1052.2,166.3 1052.4,205.1 1052.5,200.1 1052.6,167.2 1052.8,212.1 1052.9,197.0 1052.9,188.2 1053.0,140.3 1053.2,220.4 1053.2,179.9 1053.3,176.2 1053.5,193.6 1053.6,183.9 1053.8,194.8 1053.9,144.5 1054.0,212.0 1054.2,172.2 1054.2,187.7 1054.3,172.2 1054.5,152.8 1054.5,196.0 1054.6,182.0 1054.7,161.5 1054.9,180.6 1055.0,168.4 1055.0,186.0 1055.2,184.2 1055.3,181.0 1055.5,160.8 1055.5,184.8 1055.6,178.4 1055.7,184.6 1055.9,174.3 1056.0,193.2 1056.1,197.6 1056.3,188.5 1056.3,178.4 1056.5,188.0 1056.6,178.0 1056.7,162.7 1056.8,191.5 1056.9,179.3 1057.0,181.3 1057.2,180.7 1057.3,187.8 1057.3,185.4 1057.6,197.3 1057.6,193.4 1057.7,196.7 1057.8,189.3 1058.0,190.3 1058.1,198.7 1058.1,183.2 1058.3,189.3 1058.3,197.5 1058.5,178.5 1058.6,181.5 1058.7,184.0 1059.0,173.0 1059.1,189.0 1059.2,182.8 1059.3,197.8 1059.4,186.1 1059.4,189.7 1059.5,179.8 1059.6,181.4 1059.7,194.0 1059.9,172.1 1060.0,193.1 1060.1,162.0 1060.4,191.2 1060.4,180.2 1060.6,187.2 1060.7,177.6 1060.7,188.7 1060.8,181.2 1061.0,184.4 1061.1,187.9 1061.2,196.9 1061.3,175.2 1061.4,187.0 1061.4,186.2 1061.7,173.0 1061.7,181.0 1062.0,197.1 1062.0,194.1 1062.1,183.4 1062.2,191.4 1062.2,180.2 1062.4,185.3 1062.5,187.0 1062.5,182.6 1062.7,198.1 1062.8,180.1 1063.0,192.3 1063.1,184.1 1063.3,176.8 1063.4,187.3 1063.5,174.4 1063.7,192.7 1063.8,185.4 1063.8,182.7 1063.9,194.4 1064.0,177.3 1064.0,187.8 1064.1,181.1 1064.3,193.4 1064.4,173.7 1064.5,188.7 1064.5,181.7 1064.8,185.7 1064.8,189.8 1064.9,179.2 1065.1,187.9 1065.2,181.6 1065.3,189.3 1065.4,180.7 1065.5,191.5 1065.6,183.5 1065.8,189.4 1065.8,190.1 1066.1,176.8 1066.2,185.0 1066.4,187.9 1066.5,181.9 1066.6,180.4 1066.7,188.7 1066.8,184.8 1066.9,185.3 1066.9,187.2 1067.0,177.3 1067.1,180.7 1067.2,189.5 1067.4,178.0 1067.5,185.7 1067.6,187.2 1067.8,177.4 1067.9,199.5 1067.9,187.4 1068.2,194.5 1068.2,190.7 1068.3,196.3 1068.4,182.5 1068.5,189.5 1068.6,185.2 1068.7,186.7 1068.7,179.1 1068.8,186.2 1068.9,186.2 1068.9,180.3 1069.2,195.7 1069.2,188.0 1069.4,185.5 1069.5,191.4 1069.6,183.0 1069.7,180.5 1069.9,187.4 1070.0,187.5 1070.2,177.5 1070.2,186.7 1070.5,181.0 1070.5,190.3 1070.6,180.0 1070.7,190.9 1070.9,182.7 1071.0,180.5 1071.1,188.3 1071.2,185.8 1071.3,188.7 1071.4,177.5 1071.5,189.4 1071.6,188.8 1071.7,178.7 1071.9,186.2 1072.0,183.6 1072.1,178.4 1072.2,187.1 1072.3,180.9 1072.3,170.9 1072.6,197.5 1072.6,188.9 1072.9,180.5 1073.0,186.0 1073.1,183.6 1073.2,193.5 1073.3,184.4 1073.3,185.7 1073.4,183.1 1073.5,188.4 1073.6,184.7 1073.6,192.7 1073.9,176.2 1074.0,182.2 1074.1,186.8 1074.1,178.1 1074.3,181.0 1074.4,199.5 1074.4,183.5 1074.6,193.8 1074.7,179.5 1074.9,192.8 1075.0,187.9 1075.1,177.3 1075.2,193.9 1075.3,183.1 1075.4,188.6 1075.5,179.7 1075.7,185.7 1075.7,186.6 1075.9,195.2 1075.9,186.5 1076.0,187.6 1076.2,183.3 1076.3,184.6 1076.4,199.4 1076.4,183.7 1076.7,184.1 1076.7,193.1 1076.8,183.0 1077.0,189.5 1077.1,183.9 1077.2,185.6 1077.3,184.1 1077.4,192.9 1077.5,183.5 1077.7,187.6 1077.7,187.5 1077.8,179.9 1078.0,191.0 1078.1,182.0 1078.2,184.1 1078.3,182.3 1078.4,191.8 1078.6,184.3 1078.7,190.3 1078.8,188.7 1079.0,191.6 1079.0,181.9 1079.1,186.0 1079.3,189.1 1079.3,178.3 1079.4,184.0 1079.5,187.0 1079.6,180.5 1079.7,185.4 1079.8,183.3 1079.9,178.7 1080.0,188.4 1080.1,186.0 1080.1,192.0 1080.2,180.2 1080.4,184.2 1080.5,182.5 1080.6,187.7 1080.7,170.4 1080.8,186.7 1080.9,169.4 1081.0,190.2 1081.1,180.5 1081.1,181.9 1081.2,192.9 1081.4,183.7 1081.5,181.3 1081.6,189.0 1081.8,186.8 1081.9,184.1 1082.0,192.2 1082.1,178.6 1082.1,187.0 1082.3,176.3 1082.4,190.6 1082.4,190.1 1082.5,161.9 1082.6,207.5 1082.8,179.9 1082.9,184.8 1083.0,200.2 1083.1,184.1 1083.2,188.5 1083.2,212.6 1083.3,177.3 1083.4,194.5 1083.5,183.9 1083.6,178.5 1083.8,199.2 1083.9,187.4 1084.0,177.9 1084.2,193.6 1084.2,188.6 1084.3,186.5 1084.4,194.8 1084.4,189.9 1084.5,172.3 1084.7,193.9 1084.8,190.2 1084.9,194.8 1085.0,204.4 1085.2,182.0 1085.2,189.1 1085.3,186.4 1085.4,202.5 1085.5,201.3 1085.5,153.3 1085.6,196.8 1085.8,189.1 1085.9,188.1 1086.0,190.0 1086.1,172.9 1086.2,182.1 1086.3,173.0 1086.5,192.0 1086.6,202.2 1086.8,159.0 1086.8,189.6 1086.9,195.0 1087.2,169.8 1087.3,179.2 1087.5,203.8 1087.5,192.1 1087.6,192.6 1087.7,194.4 1087.9,175.7 1088.0,153.5 1088.1,186.4 1088.2,174.4 1088.3,189.0 1088.3,200.2 1088.6,189.4 1088.6,163.6 1088.9,216.3 1089.0,182.6 1089.1,210.5 1089.2,168.6 1089.3,174.8 1089.4,201.2 1089.6,189.6 1089.6,167.6 1089.8,197.8 1089.9,170.3 1090.0,181.6 1090.2,190.7 1090.3,171.6 1090.4,199.8 1090.5,176.4 1090.6,181.2 1090.7,177.8 1090.7,170.3 1090.9,190.3 1090.9,180.5 1091.0,195.5 1091.2,179.0 1091.3,184.9 1091.4,188.3 1091.4,177.0 1091.6,210.1 1091.7,199.4 1091.8,211.5 1091.9,183.6 1092.0,184.3 1092.1,211.2 1092.3,190.0 1092.4,190.2 1092.5,176.3 1092.7,212.1 1092.7,176.0 1092.9,205.0 1093.0,179.3 1093.0,176.3 1093.2,174.9 1093.3,191.8 1093.4,177.4 1093.5,186.1 1093.5,163.4 1093.7,177.7 1093.8,192.7 1094.0,179.3 1094.0,204.6 1094.3,173.7 1094.3,197.5 1094.4,190.4 1094.5,158.4 1094.7,201.1 1094.8,190.6 1094.8,191.7 1095.0,177.8 1095.0,180.8 1095.1,191.7 1095.3,195.4 1095.3,174.8 1095.4,181.3 1095.6,201.6 1095.7,193.7 1095.8,190.0 1095.9,193.5 1096.1,175.6 1096.1,179.1 1096.3,202.7 1096.4,203.0 1096.7,171.4 1096.8,200.3 1096.9,175.4 1097.1,210.5 1097.1,179.6 1097.3,165.9 1097.4,210.5 1097.5,177.4 1097.6,187.9 1097.7,187.3 1097.8,195.0 1098.1,141.6 1098.1,173.1 1098.3,200.4 1098.4,199.3 1098.5,185.2 1098.6,186.6 1098.7,173.3 1098.7,184.1 1098.8,174.9 1099.1,188.8 1099.2,187.4 1099.2,201.1 1099.4,184.6 1099.4,189.9 1099.5,173.7 1099.7,171.0 1099.8,199.6 1099.9,175.0 1100.0,190.8 1100.1,171.1 1100.2,183.0 1100.3,179.2 1100.4,189.1 1100.5,181.9 1100.5,187.2 1100.7,168.4 1100.8,174.0 1100.9,171.4 1101.0,190.9 1101.1,183.6 1101.2,180.9 1101.3,169.7 1101.4,189.1 1101.5,186.5 1101.5,183.6 1101.6,172.8 1101.8,183.6 1101.9,166.2 1102.0,198.7 1102.2,191.7 1102.3,174.6 1102.3,196.4 1102.5,185.0 1102.5,184.9 1102.7,193.7 1102.8,182.5 1102.8,186.1 1102.9,177.3 1103.2,192.0 1103.3,190.6 1103.3,182.0 1103.5,197.5 1103.6,195.5 1103.7,182.0 1103.8,183.4 1103.9,184.4 1104.0,188.5 1104.1,174.1 1104.2,185.2 1104.3,189.9 1104.4,182.0 1104.6,184.6 1104.6,175.5 1104.9,191.7 1104.9,184.2 1105.1,187.7 1105.2,178.2 1105.3,184.5 1105.4,188.4 1105.6,183.6 1105.6,189.5 1105.7,180.3 1105.9,183.7 1105.9,184.2 1106.2,175.1 1106.2,193.8 1106.3,183.4 1106.4,191.4 1106.6,187.3 1106.7,178.9 1106.9,192.0 1107.0,179.1 1107.2,175.7 1107.2,187.8 1107.3,183.4 1107.5,181.0 1107.5,191.1 1107.6,184.1 1107.7,184.4 1107.8,194.0 1107.9,182.4 1108.0,185.9 1108.0,191.7 1108.2,182.8 1108.3,184.3 1108.4,194.1 1108.6,178.6 1108.7,185.1 1108.7,193.1 1108.8,184.2 1109.0,187.1 1109.0,189.8 1109.1,175.7 1109.3,186.6 1109.4,190.9 1109.5,182.5 1109.6,186.3 1109.7,184.8 1109.8,182.2 1109.9,188.2 1110.0,185.9 1110.0,187.6 1110.2,189.8 1110.3,180.5 1110.4,192.8 1110.6,170.3 1110.6,188.5 1110.7,185.0 1110.8,193.2 1111.0,182.4 1111.1,199.4 1111.3,182.4 1111.4,180.0 1111.6,200.2 1111.7,182.5 1111.8,183.2 1111.9,187.7 1112.0,182.2 1112.1,200.3 1112.3,183.8 1112.4,201.3 1112.4,185.2 1112.6,177.1 1112.7,189.5 1112.8,188.3 1112.9,173.8 1113.0,182.8 1113.1,183.7 1113.1,180.3 1113.2,184.7 1113.4,181.8 1113.4,189.2 1113.5,193.2 1113.7,185.0 1113.8,177.6 1113.9,186.4 1114.1,177.8 1114.2,181.5 1114.4,187.9 1114.4,196.8 1114.6,179.8 1114.7,185.2 1114.8,185.7 1114.9,187.7 1115.1,178.3 1115.2,175.8 1115.3,196.2 1115.4,188.2 1115.5,200.3 1115.7,180.9 1115.8,189.1 1115.9,199.2 1116.0,173.7 1116.1,189.3 1116.2,190.3 1116.3,193.1 1116.4,187.0 1116.5,189.2 1116.5,183.1 1116.7,197.8 1116.8,187.2 1116.8,184.9 1116.9,176.8 1117.0,187.6 1117.1,184.3 1117.2,188.3 1117.3,191.3 1117.4,177.5 1117.5,187.4 1117.5,186.9 1117.6,192.0 1117.7,177.9 1117.8,186.2 1117.8,181.3 1118.0,178.7 1118.0,194.2 1118.1,181.7 1118.2,188.5 1118.3,178.6 1118.4,192.5 1118.5,180.1 1118.6,187.6 1118.6,174.1 1118.7,192.7 1118.8,181.7 1118.9,182.4 1119.0,177.5 1119.1,193.5 1119.2,179.9 1119.3,200.9 1119.5,176.7 1119.6,188.2 1119.8,171.7 1119.9,180.3 1119.9,175.1 1120.1,186.0 1120.1,181.6 1120.2,176.0 1120.5,185.5 1120.6,180.3 1120.6,190.8 1120.8,175.1 1120.9,183.0 1120.9,189.1 1121.2,169.0 1121.3,178.3 1121.4,191.0 1121.5,176.9 1121.6,188.1 1121.8,174.4 1121.9,179.5 1121.9,196.2 1122.0,182.5 1122.2,197.3 1122.2,184.5 1122.3,193.9 1122.4,183.4 1122.5,188.3 1122.6,191.3 1122.7,179.6 1122.9,185.2 1123.0,187.3 1123.2,181.3 1123.3,186.6 1123.4,180.7 1123.5,188.0 1123.6,183.5 1123.7,188.8 1123.7,190.4 1123.8,180.4 1123.9,188.5 1124.0,182.2 1124.0,190.8 1124.1,174.9 1124.3,190.2 1124.3,187.9 1124.6,178.0 1124.7,186.4 1124.8,180.9 1124.9,188.2 1125.0,186.5 1125.2,180.0 1125.3,193.0 1125.3,182.0 1125.5,192.1 1125.6,184.3 1125.7,183.8 1125.8,184.8 1126.0,179.6 1126.1,180.7 1126.3,188.2 1126.3,190.3 1126.4,194.1 1126.5,183.1 1126.6,185.5 1126.7,188.9 1126.8,179.7 1127.0,181.6 1127.1,197.0 1127.1,180.4 1127.3,181.9 1127.4,188.6 1127.4,192.7 1127.6,174.6 1127.7,182.6 1127.8,190.5 1127.9,182.0 1128.0,187.2 1128.1,184.8 1128.2,192.9 1128.3,176.7 1128.4,180.9 1128.4,190.6 1128.5,184.4 1128.6,189.8 1128.7,191.6 1128.9,179.6 1129.0,192.8 1129.1,180.9 1129.2,187.9 1129.4,176.6 1129.4,193.0 1129.6,177.2 1129.7,189.3 1129.8,193.2 1130.0,185.7 1130.1,185.9 1130.2,192.8 1130.4,180.3 1130.5,193.5 1130.6,182.1 1130.7,187.7 1130.8,193.0 1131.0,175.9 1131.1,190.3 1131.2,195.0 1131.2,181.2 1131.4,192.8 1131.5,187.7 1131.5,192.0 1131.7,187.3 1131.8,190.1 1132.1,180.7 1132.2,182.0 1132.3,191.5 1132.4,187.3 1132.5,180.7 1132.7,190.7 1132.8,180.6 1132.8,183.2 1133.0,173.3 1133.1,186.0 1133.2,179.3 1133.3,186.0 1133.4,180.5 1133.5,173.2 1133.6,188.8 1133.8,185.6 1133.8,179.4 1133.9,190.2 1134.1,179.6 1134.2,180.5 1134.4,194.4 1134.5,182.5 1134.6,181.9 1134.8,194.1 1134.8,184.4 1134.9,181.1 1135.1,194.5 1135.1,181.3 1135.2,180.7 1135.3,186.3 1135.4,177.1 1135.5,181.0 1135.6,186.0 1135.7,189.6 1135.8,178.2 1135.9,181.3 1136.0,188.3 1136.1,179.5 1136.1,186.4 1136.2,189.8 1136.4,183.6 1136.5,187.8 1136.6,182.0 1136.7,178.7 1136.9,195.5 1136.9,198.8 1137.1,177.3 1137.2,185.4 1137.2,188.6 1137.4,192.9 1137.5,186.0 1137.6,186.4 1137.7,177.1 1137.8,186.7 1137.9,182.1 1137.9,182.6 1138.2,194.6 1138.2,189.5 1138.4,201.8 1138.5,185.3 1138.5,189.2 1138.6,186.1 1138.8,193.8 1138.9,182.0 1139.0,193.6 1139.1,180.9 1139.2,181.1 1139.3,182.3 1139.4,201.5 1139.5,191.0 1139.6,189.9 1139.7,179.5 1139.9,180.4 1140.0,184.1 1140.2,200.9 1140.3,179.0 1140.3,172.2 1140.4,199.0 1140.5,181.1 1140.6,181.3 1140.7,189.5 1140.8,174.1 1140.9,177.9 1141.0,189.4 1141.2,189.5 1141.3,164.1 1141.3,171.0 1141.5,164.7 1141.6,202.4 1141.6,189.6 1141.7,157.0 1141.9,233.6 1142.0,194.2 1142.3,108.4 1142.3,182.0 1142.5,210.5 1142.6,179.9 1142.6,200.4 1142.7,196.9 1142.9,169.8 1142.9,177.7 1143.0,181.3 1143.1,179.3 1143.3,191.2 1143.4,200.2 1143.6,182.0 1143.7,175.7 1143.9,209.7 1144.0,188.6 1144.1,197.7 1144.2,159.9 1144.3,183.0 1144.4,181.2 1144.5,180.8 1144.7,193.2 1144.7,191.2 1145.0,167.3 1145.1,176.0 1145.2,189.1 1145.3,188.5 1145.4,192.8 1145.7,177.5 1145.7,172.2 1145.9,187.3 1146.0,186.6 1146.1,184.1 1146.2,194.3 1146.2,182.6 1146.4,186.9 1146.5,191.0 1146.7,180.4 1146.7,187.2 1146.8,179.1 1147.0,184.2 1147.1,181.5 1147.3,189.2 1147.4,184.5 1147.5,189.1 1147.5,192.1 1147.6,180.5 1147.7,182.3 1147.8,184.0 1147.8,188.8 1147.9,173.3" fill="none" stroke="#FFFF00" stroke-width="1" stroke-linejoin="round"/>
</g>
<g clip-path="url(#c3)">
<polyline points="75.0,708.5 75.5,708.5 76.0,708.5 76.5,708.5 77.0,708.5 77.5,708.5 78.0,708.5 78.5,708.5 79.0,708.5 79.5,708.5 80.0,708.5 80.5,708.5 81.0,708.5 81.5,708.5 82.0,708.5 82.5,708.5 83.0,708.5 83.5,708.5 84.0,708.5 84.5,708.5 85.0,708.5 85.5,708.5 86.0,708.5 86.5,708.5 87.0,708.5 87.5,708.5 88.0,708.5 88.5,708.5 89.0,708.5 89.5,708.5 90.0,708.5 90.5,708.5 91.0,708.5 91.5,708.5 92.0,708.5 92.5,708.5 93.0,708.5 93.5,708.5 94.0,708.5 94.5,708.5 95.0,708.5 95.5,708.5 96.0,708.5 96.5,708.5 97.0,708.5 97.5,708.5 98.0,708.5 98.5,708.5 99.0,708.5 99.5,708.5 100.0,708.5 100.5,708.5 101.0,708.5 101.5,708.5 102.0,708.5 102.5,708.5 103.0,708.5 103.5,708.5 104.0,708.5 104.5,708.5 105.0,708.5 105.5,708.5 106.0,708.5 106.5,708.5 107.0,708.5 107.5,708.5 108.0,708.5 108.5,708.5 109.0,708.5 109.5,708.5 110.0,708.5 110.5,708.5 111.0,708.5 111.5,708.5 112.0,708.5 112.5,708.5 113.0,708.5 113.5,708.5 114.0,708.5 114.5,708.5 115.0,708.5 115.5,708.5 116.0,708.5 116.5,708.5 117.0,708.5 117.5,708.1 118.0,707.6 118.5,708.0 119.0,708.5 119.5,708.5 120.0,708.5 120.5,708.5 121.0,708.5 121.5,708.5 122.0,708.5 122.5,708.5 123.0,708.5 123.5,708.5 124.0,708.5 124.5,708.5 125.0,708.5 125.5,708.5 126.0,708.5 126.5,708.5 127.0,708.5 127.5,708.5 128.0,708.5 128.5,708.5 129.0,708.5 129.5,708.5 130.0,708.5 130.5,708.5 131.0,708.5 131.5,708.5 132.0,708.5 132.5,708.5 133.0,708.5 133.5,708.5 134.0,708.5 134.5,708.5 135.0,708.5 135.5,708.5 136.0,708.5 136.5,708.5 137.0,708.5 137.5,708.5 138.0,708.5 138.5,708.5 139.0,708.5 139.5,708.5 140.0,708.5 140.5,708.5 141.0,708.5 141.5,708.5 142.0,708.5 142.5,708.5 143.0,708.5 143.5,708.5 144.0,708.5 144.5,708.5 145.0,708.5 145.5,708.5 146.0,708.5 146.5,708.5 147.0,708.5 147.5,708.5 148.0,708.5 148.5,708.5 149.0,708.5 149.5,708.5 150.0,708.5 150.5,708.5 151.0,708.5 151.5,708.5 152.0,708.5 152.5,708.5 153.0,708.5 153.5,708.5 154.0,708.5 154.5,708.5 155.0,708.5 155.5,708.5 156.0,708.5 156.5,708.5 157.0,708.5 157.5,708.5 158.0,708.5 158.5,708.5 159.0,708.5 159.5,708.5 160.0,708.5 160.5,708.5 161.0,708.5 161.5,708.5 162.0,708.5 162.5,708.5 163.0,708.5 163.5,708.5 164.0,708.5 164.5,708.5 165.0,708.5 165.5,708.5 166.0,708.5 166.5,708.5 167.0,708.5 167.5,708.5 168.0,708.5 168.5,708.5 169.0,708.5 169.5,708.5 170.0,708.5 170.5,708.5 171.0,708.5 171.5,708.5 172.0,708.5 172.5,708.5 173.0,708.5 173.5,708.5 174.0,708.5 174.5,708.5 175.0,708.5 175.5,708.5 176.0,708.5 176.5,708.5 177.0,708.5 177.5,708.5 178.0,708.5 178.5,708.5 179.0,708.5 179.5,708.5 180.0,708.5 180.5,708.5 181.0,708.5 181.5,708.5 182.0,708.5 182.5,708.5 183.0,708.5 183.5,708.5 184.0,708.5 184.5,708.5 185.0,708.5 185.5,708.5 186.0,708.5 186.5,708.5 187.0,708.5 187.5,708.5 188.0,708.5 188.5,708.5 189.0,708.5 189.5,708.5 190.0,708.5 190.5,708.5 191.0,708.5 191.5,708.5 192.0,708.5 192.5,708.5 193.0,708.5 193.5,708.5 194.0,708.5 194.5,708.5 195.0,708.5 195.5,708.5 196.0,708.5 196.5,708.5 197.0,708.5 197.5,708.5 198.0,708.5 198.5,708.5 199.0,708.5 199.5,708.5 200.0,708.5 200.5,708.5 201.0,708.5 201.5,708.5 202.0,708.5 202.5,708.5 203.0,708.5 203.5,708.5 204.0,708.5 204.5,708.5 205.0,708.5 205.5,708.4 206.0,708.3 206.5,708.1 207.0,707.8 207.5,707.7 208.0,707.6 208.5,707.6 209.0,707.6 209.5,707.6 210.0,707.6 210.5,707.6 211.0,707.6 211.5,707.6 212.0,707.6 212.5,707.6 213.0,707.6 213.5,707.7 214.0,707.8 214.5,708.0 215.0,708.1 215.5,708.2 216.0,708.3 216.5,708.2 217.0,708.1 217.5,708.0 218.0,707.8 218.5,707.7 219.0,707.6 219.5,707.6 220.0,707.6 220.5,707.6 221.0,707.6 221.5,707.6 222.0,707.5 222.5,707.5 223.0,707.5 223.5,707.5 224.0,707.5 224.5,707.5 225.0,707.5 225.5,707.5 226.0,707.5 226.5,707.5 227.0,707.5 227.5,707.5 228.0,707.5 228.5,707.5 229.0,707.5 229.5,707.5 230.0,707.5 230.5,707.5 231.0,707.5 231.5,707.5 232.0,707.5 232.5,707.5 233.0,707.5 233.5,707.5 234.0,707.5 234.5,707.5 235.0,707.5 235.5,707.5 236.0,707.5 236.5,707.5 237.0,707.4 237.5,707.4 238.0,707.4 238.5,707.4 239.0,707.4 239.5,707.4 240.0,707.4 240.5,707.4 241.0,707.4 241.5,707.3 242.0,707.3 242.5,707.3 243.0,707.2 243.5,707.2 244.0,707.1 244.5,707.1 245.0,707.0 245.5,707.0 246.0,706.9 246.5,706.9 247.0,706.8 247.5,706.7 248.0,706.7 248.5,706.6 249.0,706.5 249.5,706.4 250.0,706.3 250.5,706.1 251.0,706.0 251.5,705.9 252.0,705.8 252.5,705.7 253.0,705.6 253.5,705.4 254.0,705.3 254.5,705.2 255.0,705.0 255.5,704.9 256.0,704.8 256.5,704.7 257.0,704.6 257.5,704.5 258.0,704.4 258.5,704.2 259.0,704.2 259.5,704.1 260.0,704.0 260.5,703.9 261.0,703.9 261.5,703.9 262.0,703.8 262.5,703.8 263.0,703.8 263.5,703.8 264.0,703.8 264.5,703.8 265.0,703.7 265.5,703.7 266.0,703.7 266.5,703.7 267.0,703.6 267.5,703.6 268.0,703.6 268.5,703.6 269.0,703.5 269.5,703.5 270.0,703.4 270.5,703.4 271.0,703.3 271.5,703.3 272.0,703.2 272.5,703.1 273.0,703.0 273.5,702.9 274.0,702.6 274.5,702.3 275.0,702.0 275.5,701.6 276.0,701.3 276.5,700.9 277.0,700.6 277.5,700.3 278.0,700.0 278.5,699.7 279.0,699.4 279.5,699.1 280.0,698.8 280.5,698.5 281.0,698.2 281.5,698.0 282.0,697.7 282.5,697.5 283.0,697.2 283.5,697.0 284.0,696.7 284.5,696.4 285.0,696.1 285.5,695.8 286.0,695.4 286.5,695.1 287.0,694.6 287.5,694.2 288.0,693.7 288.5,693.1 289.0,692.4 289.5,691.7 290.0,690.9 290.5,690.2 291.0,689.5 291.5,688.7 292.0,687.9 292.5,687.1 293.0,686.2 293.5,685.3 294.0,684.3 294.5,683.2 295.0,682.1 295.5,680.9 296.0,679.7 296.5,678.5 297.0,677.3 297.5,676.1 298.0,674.9 298.5,673.6 299.0,672.4 299.5,671.2 300.0,670.0 300.5,668.8 301.0,667.7 301.5,666.5 302.0,665.4 302.5,664.3 303.0,663.2 303.5,662.1 304.0,661.0 304.5,659.9 305.0,658.8 305.5,657.5 306.0,656.0 306.5,654.3 307.0,652.5 307.5,650.7 308.0,648.8 308.5,647.0 309.0,645.2 309.5,643.5 310.0,641.7 310.5,640.0 311.0,638.2 311.5,636.3 312.0,634.5 312.5,632.6 313.0,630.6 313.5,628.7 314.0,626.6 314.5,624.4 315.0,622.2 315.5,619.8 316.0,617.2 316.5,614.6 317.0,611.8 317.5,608.7 318.0,605.2 318.5,601.5 319.0,598.0 319.5,595.0 320.0,592.7 320.5,590.8 321.0,588.7 321.5,586.3 322.0,583.3 322.5,580.7 323.0,578.4 323.5,576.4 324.0,575.0 324.5,573.9 325.0,572.9 325.5,572.2 326.0,571.7 326.5,571.4 327.0,571.1 327.5,570.8 328.0,570.6 328.5,570.5 329.0,570.5 329.5,570.6 330.0,570.7 330.5,570.9 331.0,571.1 331.5,571.4 332.0,571.7 332.5,572.2 333.0,572.8 333.5,573.4 334.0,574.2 334.5,574.9 335.0,575.8 335.5,576.8 336.0,577.9 336.5,579.3 337.0,581.0 337.5,583.1 338.0,585.6 338.5,588.8 339.0,592.4 339.5,595.5 340.0,598.5 340.5,601.4 341.0,604.2 341.5,607.0 342.0,609.6 342.5,612.1 343.0,614.5 343.5,616.9 344.0,619.2 344.5,621.4 345.0,623.5 345.5,625.5 346.0,627.4 346.5,629.2 347.0,630.9 347.5,632.6 348.0,634.3 348.5,636.1 349.0,638.0 349.5,640.0 350.0,642.2 350.5,644.5 351.0,646.9 351.5,649.2 352.0,651.5 352.5,653.7 353.0,655.8 353.5,658.0 354.0,660.1 354.5,662.1 355.0,664.1 355.5,665.9 356.0,667.6 356.5,669.1 357.0,670.5 357.5,671.9 358.0,673.1 358.5,674.3 359.0,675.4 359.5,676.5 360.0,677.6 360.5,678.6 361.0,679.6 361.5,680.6 362.0,681.6 362.5,682.5 363.0,683.5 363.5,684.4 364.0,685.2 364.5,686.1 365.0,686.8 365.5,687.6 366.0,688.3 366.5,688.9 367.0,689.4 367.5,690.0 368.0,690.5 368.5,691.0 369.0,691.4 369.5,691.9 370.0,692.3 370.5,692.7 371.0,693.1 371.5,693.5 372.0,693.9 372.5,694.3 373.0,694.7 373.5,695.1 374.0,695.5 374.5,695.9 375.0,696.4 375.5,696.8 376.0,697.2 376.5,697.7 377.0,698.1 377.5,698.5 378.0,698.9 378.5,699.3 379.0,699.7 379.5,700.1 380.0,700.5 380.5,700.8 381.0,701.1 381.5,701.4 382.0,701.7 382.5,701.9 383.0,702.1 383.5,702.3 384.0,702.4 384.5,702.6 385.0,702.7 385.5,702.8 386.0,703.0 386.5,703.1 387.0,703.2 387.5,703.3 388.0,703.4 388.5,703.5 389.0,703.6 389.5,703.7 390.0,703.8 390.5,704.0 391.0,704.1 391.5,704.2 392.0,704.3 392.5,704.5 393.0,704.7 393.5,704.9 394.0,705.1 394.5,705.3 395.0,705.5 395.5,705.7 396.0,705.9 396.5,706.1 397.0,706.2 397.5,706.4 398.0,706.5 398.5,706.5 399.0,706.5 399.5,706.6 400.0,706.6 400.5,706.7 401.0,706.7 401.5,706.7 402.0,706.8 402.5,706.8 403.0,706.8 403.5,706.8 404.0,706.9 404.5,706.9 405.0,706.9 405.5,706.9 406.0,706.9 406.5,707.0 407.0,707.0 407.5,707.0 408.0,707.0 408.5,707.0 409.0,707.0 409.5,707.0 410.0,707.0 410.5,707.0 411.0,707.0 411.5,707.0 412.0,707.0 412.5,707.0 413.0,707.0 413.5,707.0 414.0,707.0 414.5,707.0 415.0,707.0 415.5,707.0 416.0,707.0 416.5,707.0 417.0,707.0 417.5,707.0 418.0,707.0 418.5,707.0 419.0,707.0 419.5,707.0 420.0,707.0 420.5,707.0 421.0,707.0 421.5,707.1 422.0,707.2 422.5,707.3 423.0,707.4 423.5,707.6 424.0,707.6 424.5,707.6 425.0,707.6 425.5,707.6 426.0,707.6 426.5,707.6 427.0,707.7 427.5,707.7 428.0,707.7 428.5,707.7 429.0,707.7 429.5,707.7 430.0,707.7 430.5,707.7 431.0,707.7 431.5,707.7 432.0,707.7 432.5,707.7 433.0,707.7 433.5,707.7 434.0,707.7 434.5,707.7 435.0,707.7 435.5,707.7 436.0,707.7 436.5,707.7 437.0,707.7 437.5,707.7 438.0,707.7 438.5,707.7 439.0,707.7 439.5,707.7 440.0,707.7 440.5,707.7 441.0,707.7 441.5,707.7 442.0,707.8 442.5,707.8 443.0,707.8 443.5,707.8 444.0,707.8 444.5,707.8 445.0,707.8 445.5,707.8 446.0,707.9 446.5,707.9 447.0,708.0 447.5,708.1 448.0,708.2 448.5,708.3 449.0,708.3 449.5,708.4 450.0,708.4 450.5,708.4 451.0,708.3 451.5,708.1 452.0,708.0 452.5,707.9 453.0,707.7 453.5,707.6 454.0,707.6 454.5,707.6 455.0,707.6 455.5,707.6 456.0,707.6 456.5,707.6 457.0,707.6 457.5,707.6 458.0,707.6 458.5,707.6 459.0,707.6 459.5,707.6 460.0,707.6 460.5,707.6 461.0,707.6 461.5,707.6 462.0,707.6 462.5,707.7 463.0,707.8 463.5,708.0 464.0,708.3 464.5,708.4 465.0,708.5 465.5,708.5 466.0,708.5 466.5,708.5 467.0,708.5 467.5,708.5 468.0,708.5 468.5,708.5 469.0,708.5 469.5,708.5 470.0,708.5 470.5,708.5 471.0,708.5 471.5,708.5 472.0,708.5 472.5,708.5 473.0,708.5 473.5,708.5 474.0,708.5 474.5,708.5 475.0,708.5 475.5,708.5 476.0,708.5 476.5,708.5 477.0,708.5 477.5,708.5 478.0,708.5 478.5,708.5 479.0,708.5 479.5,708.5 480.0,708.5 480.5,708.5 481.0,708.5 481.5,708.5 482.0,708.5 482.5,708.5 483.0,708.5 483.5,708.5 484.0,708.5 484.5,708.5 485.0,708.5 485.5,708.5 486.0,708.5 486.5,708.5 487.0,708.5 487.5,708.5 488.0,708.5 488.5,708.5 489.0,708.5 489.5,708.5 490.0,708.5 490.5,708.5 491.0,708.5 491.5,708.5 492.0,708.5 492.5,708.5 493.0,708.5 493.5,708.5 494.0,708.5 494.5,708.5 495.0,708.5 495.5,708.5 496.0,708.5 496.5,708.5 497.0,708.5 497.5,708.5 498.0,708.5 498.5,708.5 499.0,708.5 499.5,708.5 500.0,708.5 500.5,708.5 501.0,708.5 501.5,708.5 502.0,708.5 502.5,708.5 503.0,708.5 503.5,708.5 504.0,708.5 504.5,708.5 505.0,708.5 505.5,708.5 506.0,708.5 506.5,708.5 507.0,708.5 507.5,708.5 508.0,708.5 508.5,708.5 509.0,708.5 509.5,708.5 510.0,708.5 510.5,708.5 511.0,708.5 511.5,708.5 512.0,708.5 512.5,708.5 513.0,708.5 513.5,708.5 514.0,708.5 514.5,708.5 515.0,708.5 515.5,708.5 516.0,708.5 516.5,708.5 517.0,708.5 517.5,708.5 518.0,708.5 518.5,708.5 519.0,708.5 519.5,708.5 520.0,708.5 520.5,708.5 521.0,708.5 521.5,708.5 522.0,708.5 522.5,708.5 523.0,708.5 523.5,708.5 524.0,708.5 524.5,708.5 525.0,708.5 525.5,708.5 526.0,708.5 526.5,708.5 527.0,708.5 527.5,708.5 528.0,708.5 528.5,708.5 529.0,708.5 529.5,708.5 530.0,708.5 530.5,708.5 531.0,708.5 531.5,708.5 532.0,708.5 532.5,708.5 533.0,708.5 533.5,708.5 534.0,708.5 534.5,708.5 535.0,708.5 535.5,708.5 536.0,708.5 536.5,708.5 537.0,708.5 537.5,708.5 538.0,708.5 538.5,708.5 539.0,708.5 539.5,708.5 540.0,708.5 540.5,708.5 541.0,708.5 541.5,708.5 542.0,708.5 542.5,708.5 543.0,708.5 543.5,708.5 544.0,708.5 544.5,708.5 545.0,708.5 545.5,708.5 546.0,708.5 546.5,708.5 547.0,708.5 547.5,708.5 548.0,708.5 548.5,708.5 549.0,708.5 549.5,708.5 550.0,708.5 550.5,708.5 551.0,708.5 551.5,708.5 552.0,708.5 552.5,708.5 553.0,708.5 553.5,708.5 554.0,708.5 554.5,708.5 555.0,708.5 555.5,708.5 556.0,708.5 556.5,708.5" fill="none" stroke="#228B22" stroke-width="2" stroke-linejoin="round"/>
<polyline points="126.0,709.0 126.5,709.0 127.0,709.0 127.5,709.0 128.0,709.0 128.5,709.0 129.0,709.0 129.5,709.0 130.0,709.0 130.5,709.0 131.0,709.0 131.5,709.0 132.0,709.0 132.5,709.0 133.0,709.0 133.5,709.0 134.0,709.0 134.5,709.0 135.0,709.0 135.5,709.0 136.0,709.0 136.5,709.0 137.0,709.0 137.5,709.0 138.0,709.0 138.5,709.0 139.0,709.0 139.5,709.0 140.0,709.0 140.5,709.0 141.0,709.0 141.5,709.0 142.0,709.0 142.5,709.0 143.0,709.0 143.5,709.0 144.0,709.0 144.5,709.0 145.0,709.0 145.5,709.0 146.0,709.0 146.5,709.0 147.0,709.0 147.5,709.0 148.0,709.0 148.5,709.0 149.0,709.0 149.5,709.0 150.0,709.0 150.5,709.0 151.0,709.0 151.5,709.0 152.0,709.0 152.5,709.0 153.0,709.0 153.5,709.0 154.0,709.0 154.5,709.0 155.0,709.0 155.5,709.0 156.0,709.0 156.5,709.0 157.0,709.0 157.5,709.0 158.0,709.0 158.5,709.0 159.0,709.0 159.5,709.0 160.0,709.0 160.5,709.0 161.0,709.0 161.5,709.0 162.0,709.0 162.5,709.0 163.0,709.0 163.5,709.0 164.0,709.0 164.5,709.0 165.0,709.0 165.5,709.0 166.0,709.0 166.5,709.0 167.0,709.0 167.5,709.0 168.0,709.0 168.5,709.0 169.0,709.0 169.5,709.0 170.0,709.0 170.5,709.0 171.0,709.0 171.5,709.0 172.0,709.0 172.5,709.0 173.0,709.0 173.5,709.0 174.0,709.0 174.5,709.0 175.0,709.0 175.5,709.0 176.0,709.0 176.5,708.9 177.0,708.8 177.5,708.6 178.0,708.5 178.5,708.5 179.0,708.5 179.5,708.5 180.0,708.5 180.5,708.5 181.0,708.5 181.5,708.6 182.0,708.8 182.5,708.9 183.0,709.0 183.5,709.0 184.0,709.0 184.5,709.0 185.0,709.0 185.5,709.0 186.0,709.0 186.5,709.0 187.0,709.0 187.5,709.0 188.0,709.0 188.5,709.0 189.0,709.0 189.5,709.0 190.0,709.0 190.5,709.0 191.0,709.0 191.5,709.0 192.0,709.0 192.5,709.0 193.0,709.0 193.5,709.0 194.0,709.0 194.5,709.0 195.0,709.0 195.5,709.0 196.0,709.0 196.5,709.0 197.0,709.0 197.5,709.0 198.0,709.0 198.5,709.0 199.0,709.0 199.5,709.0 200.0,709.0 200.5,708.9 201.0,708.6 201.5,708.5 202.0,708.5 202.5,708.5 203.0,708.5 203.5,708.5 204.0,708.5 204.5,708.6 205.0,708.8 205.5,708.9 206.0,709.0 206.5,709.0 207.0,709.0 207.5,709.0 208.0,709.0 208.5,709.0 209.0,709.0 209.5,709.0 210.0,709.0 210.5,709.0 211.0,709.0 211.5,709.0 212.0,709.0 212.5,709.0 213.0,709.0 213.5,709.0 214.0,709.0 214.5,709.0 215.0,709.0 215.5,709.0 216.0,709.0 216.5,708.9 217.0,708.6 217.5,708.5 218.0,708.5 218.5,708.5 219.0,708.5 219.5,708.5 220.0,708.5 220.5,708.6 221.0,708.8 221.5,708.9 222.0,709.0 222.5,709.0 223.0,709.0 223.5,709.0 224.0,709.0 224.5,709.0 225.0,709.0 225.5,708.9 226.0,708.6 226.5,708.5 227.0,708.5 227.5,708.5 228.0,708.5 228.5,708.5 229.0,708.5 229.5,708.5 230.0,708.4 230.5,708.4 231.0,708.4 231.5,708.4 232.0,708.4 232.5,708.4 233.0,708.4 233.5,708.4 234.0,708.4 234.5,708.4 235.0,708.4 235.5,708.4 236.0,708.4 236.5,708.4 237.0,708.4 237.5,708.4 238.0,708.4 238.5,708.4 239.0,708.4 239.5,708.4 240.0,708.4 240.5,708.4 241.0,708.4 241.5,708.4 242.0,708.4 242.5,708.4 243.0,708.4 243.5,708.4 244.0,708.4 244.5,708.4 245.0,708.4 245.5,708.4 246.0,708.4 246.5,708.4 247.0,708.4 247.5,708.4 248.0,708.4 248.5,708.4 249.0,708.4 249.5,708.4 250.0,708.4 250.5,708.4 251.0,708.3 251.5,708.3 252.0,708.3 252.5,708.3 253.0,708.3 253.5,708.3 254.0,708.3 254.5,708.2 255.0,707.9 255.5,707.5 256.0,707.4 256.5,707.4 257.0,707.4 257.5,707.4 258.0,707.4 258.5,707.3 259.0,707.3 259.5,707.3 260.0,707.3 260.5,707.3 261.0,707.3 261.5,707.3 262.0,707.3 262.5,707.3 263.0,707.3 263.5,707.3 264.0,707.3 264.5,707.2 265.0,707.2 265.5,707.2 266.0,707.2 266.5,707.2 267.0,707.2 267.5,707.1 268.0,707.1 268.5,707.1 269.0,707.0 269.5,707.0 270.0,706.9 270.5,706.8 271.0,706.6 271.5,706.3 272.0,706.1 272.5,705.8 273.0,705.6 273.5,705.4 274.0,705.2 274.5,705.0 275.0,704.7 275.5,704.5 276.0,704.3 276.5,704.1 277.0,703.8 277.5,703.6 278.0,703.3 278.5,703.1 279.0,702.9 279.5,702.7 280.0,702.6 280.5,702.6 281.0,702.5 281.5,702.5 282.0,702.4 282.5,702.4 283.0,702.3 283.5,702.3 284.0,702.2 284.5,702.2 285.0,702.0 285.5,701.9 286.0,701.4 286.5,700.8 287.0,700.1 287.5,699.5 288.0,698.8 288.5,698.2 289.0,697.6 289.5,697.2 290.0,696.9 290.5,696.6 291.0,696.4 291.5,696.2 292.0,696.0 292.5,695.8 293.0,695.5 293.5,695.2 294.0,694.8 294.5,694.2 295.0,693.6 295.5,692.8 296.0,691.9 296.5,691.0 297.0,690.1 297.5,689.1 298.0,688.2 298.5,687.1 299.0,685.9 299.5,684.7 300.0,683.4 300.5,682.1 301.0,680.9 301.5,679.6 302.0,678.4 302.5,677.3 303.0,676.1 303.5,674.9 304.0,673.7 304.5,672.5 305.0,671.3 305.5,670.2 306.0,669.0 306.5,667.8 307.0,666.7 307.5,665.6 308.0,664.6 308.5,663.5 309.0,662.3 309.5,661.1 310.0,659.7 310.5,658.2 311.0,656.4 311.5,654.5 312.0,652.3 312.5,649.7 313.0,646.3 313.5,642.0 314.0,637.9 314.5,634.5 315.0,631.5 315.5,628.5 316.0,625.6 316.5,622.5 317.0,619.3 317.5,616.0 318.0,612.7 318.5,609.3 319.0,605.8 319.5,602.5 320.0,598.7 320.5,593.8 321.0,586.4 321.5,580.6 322.0,575.1 322.5,569.9 323.0,563.8 323.5,555.1 324.0,544.4 324.5,532.1 325.0,523.1 325.5,515.4 326.0,506.4 326.5,498.0 327.0,492.5 327.5,488.2 328.0,484.6 328.5,481.9 329.0,479.7 329.5,479.6 330.0,480.4 330.5,481.9 331.0,485.4 331.5,489.5 332.0,492.9 332.5,496.6 333.0,501.6 333.5,508.0 334.0,517.6 334.5,525.9 335.0,531.7 335.5,537.1 336.0,541.9 336.5,547.1 337.0,553.2 337.5,558.8 338.0,563.7 338.5,568.2 339.0,572.1 339.5,577.3 340.0,586.4 340.5,593.7 341.0,598.7 341.5,602.2 342.0,605.0 342.5,607.7 343.0,610.6 343.5,613.9 344.0,617.3 344.5,620.8 345.0,624.2 345.5,627.6 346.0,630.8 346.5,634.1 347.0,637.3 347.5,640.6 348.0,644.0 348.5,647.6 349.0,651.2 349.5,654.6 350.0,657.5 350.5,659.9 351.0,662.1 351.5,664.1 352.0,666.0 352.5,667.9 353.0,669.7 353.5,671.5 354.0,673.5 354.5,675.6 355.0,677.9 355.5,680.1 356.0,682.2 356.5,684.0 357.0,685.6 357.5,686.9 358.0,688.2 358.5,689.3 359.0,690.4 359.5,691.3 360.0,692.2 360.5,692.9 361.0,693.5 361.5,694.0 362.0,694.5 362.5,694.9 363.0,695.2 363.5,695.6 364.0,695.9 364.5,696.3 365.0,696.8 365.5,697.3 366.0,697.8 366.5,698.4 367.0,698.9 367.5,699.5 368.0,700.0 368.5,700.5 369.0,701.0 369.5,701.6 370.0,702.2 370.5,702.7 371.0,703.2 371.5,703.7 372.0,704.1 372.5,704.3 373.0,704.5 373.5,704.6 374.0,704.7 374.5,704.8 375.0,704.9 375.5,705.0 376.0,705.0 376.5,705.1 377.0,705.1 377.5,705.2 378.0,705.3 378.5,705.3 379.0,705.4 379.5,705.5 380.0,705.6 380.5,705.6 381.0,705.7 381.5,705.8 382.0,706.0 382.5,706.1 383.0,706.2 383.5,706.3 384.0,706.4 384.5,706.5 385.0,706.6 385.5,706.7 386.0,706.8 386.5,706.9 387.0,706.9 387.5,707.0 388.0,707.1 388.5,707.1 389.0,707.1 389.5,707.2 390.0,707.2 390.5,707.3 391.0,707.3 391.5,707.3 392.0,707.3 392.5,707.4 393.0,707.4 393.5,707.4 394.0,707.5 394.5,707.5 395.0,707.6 395.5,707.6 396.0,707.7 396.5,707.7 397.0,707.8 397.5,707.9 398.0,708.1 398.5,708.3 399.0,708.4 399.5,708.4 400.0,708.4 400.5,708.4 401.0,708.4 401.5,708.4 402.0,708.4 402.5,708.4 403.0,708.4 403.5,708.4 404.0,708.4 404.5,708.4 405.0,708.4 405.5,708.4 406.0,708.4 406.5,708.4 407.0,708.4 407.5,708.4 408.0,708.4 408.5,708.4 409.0,708.4 409.5,708.4 410.0,708.4 410.5,708.4 411.0,708.4 411.5,708.4 412.0,708.4 412.5,708.4 413.0,708.4 413.5,708.4 414.0,708.4 414.5,708.4 415.0,708.4 415.5,708.4 416.0,708.4 416.5,708.4 417.0,708.4 417.5,708.4 418.0,708.4 418.5,708.5 419.0,708.7 419.5,708.9 420.0,709.0 420.5,709.0 421.0,708.9 421.5,708.8 422.0,708.6 422.5,708.5 423.0,708.5 423.5,708.5 424.0,708.5 424.5,708.5 425.0,708.5 425.5,708.5 426.0,708.5 426.5,708.5 427.0,708.5 427.5,708.5 428.0,708.5 428.5,708.5 429.0,708.5 429.5,708.5 430.0,708.5 430.5,708.6 431.0,708.8 431.5,708.9 432.0,709.0 432.5,709.0 433.0,708.9 433.5,708.8 434.0,708.6 434.5,708.5 435.0,708.5 435.5,708.5 436.0,708.5 436.5,708.5 437.0,708.5 437.5,708.5 438.0,708.5 438.5,708.5 439.0,708.5 439.5,708.6 440.0,708.8 440.5,708.9 441.0,709.0 441.5,709.0 442.0,709.0 442.5,709.0 443.0,709.0 443.5,709.0 444.0,709.0 444.5,709.0 445.0,709.0 445.5,709.0 446.0,709.0 446.5,709.0 447.0,709.0 447.5,709.0 448.0,709.0 448.5,709.0 449.0,709.0 449.5,709.0 450.0,709.0 450.5,709.0 451.0,709.0 451.5,709.0 452.0,709.0 452.5,709.0 453.0,709.0 453.5,709.0 454.0,709.0 454.5,709.0 455.0,709.0 455.5,709.0 456.0,709.0 456.5,709.0 457.0,709.0 457.5,709.0 458.0,709.0 458.5,709.0 459.0,709.0 459.5,709.0 460.0,709.0 460.5,709.0 461.0,709.0 461.5,709.0 462.0,709.0 462.5,709.0 463.0,709.0 463.5,709.0 464.0,709.0 464.5,709.0 465.0,709.0 465.5,709.0 466.0,709.0 466.5,709.0 467.0,709.0 467.5,709.0 468.0,709.0 468.5,709.0 469.0,709.0 469.5,708.9 470.0,708.6 470.5,708.5 471.0,708.5 471.5,708.5 472.0,708.5 472.5,708.5 473.0,708.5 473.5,708.5 474.0,708.5 474.5,708.6 475.0,708.9 475.5,709.0 476.0,709.0 476.5,709.0 477.0,709.0 477.5,709.0 478.0,709.0 478.5,709.0 479.0,709.0 479.5,709.0 480.0,709.0 480.5,709.0 481.0,709.0 481.5,709.0 482.0,709.0 482.5,709.0 483.0,709.0 483.5,709.0 484.0,709.0 484.5,709.0 485.0,709.0 485.5,709.0 486.0,709.0 486.5,709.0 487.0,709.0 487.5,709.0 488.0,709.0 488.5,709.0 489.0,709.0 489.5,709.0 490.0,709.0 490.5,709.0 491.0,709.0 491.5,709.0 492.0,709.0 492.5,709.0 493.0,709.0 493.5,709.0 494.0,709.0 494.5,709.0 495.0,709.0 495.5,709.0 496.0,709.0 496.5,709.0 497.0,709.0 497.5,709.0 498.0,709.0 498.5,709.0 499.0,709.0 499.5,709.0 500.0,709.0 500.5,709.0 501.0,709.0 501.5,709.0 502.0,709.0 502.5,709.0 503.0,709.0 503.5,709.0 504.0,709.0 504.5,709.0 505.0,709.0 505.5,709.0 506.0,709.0 506.5,709.0 507.0,709.0 507.5,709.0 508.0,709.0 508.5,709.0 509.0,709.0 509.5,709.0 510.0,709.0 510.5,709.0 511.0,709.0 511.5,709.0 512.0,709.0 512.5,709.0 513.0,709.0 513.5,709.0 514.0,709.0 514.5,709.0 515.0,709.0 515.5,709.0 516.0,709.0 516.5,709.0 517.0,709.0 517.5,709.0 518.0,709.0 518.5,709.0 519.0,709.0 519.5,709.0 520.0,709.0" fill="none" stroke="#FFA500" stroke-width="1" stroke-linejoin="round"/>
<line x1="65.5" y1="709.5" x2="566.5" y2="709.5" stroke="#BEBEBE" stroke-width="1"/>
</g>
<g clip-path="url(#c4)">
<line x1="683" y1="716.5" x2="690" y2="716.5" stroke="#000" stroke-width="1"/>
<line x1="689" y1="716.5" x2="695" y2="716.5" stroke="#000" stroke-width="1"/>
<line x1="699" y1="716.5" x2="705" y2="716.5" stroke="#000" stroke-width="1"/>
<line x1="704" y1="716.5" x2="710" y2="716.5" stroke="#000" stroke-width="1"/>
<rect x="715.5" y="715.5" width="5" height="1" fill="#0000FF" stroke="#000" stroke-width="1"/>
<line x1="720" y1="716.5" x2="726" y2="716.5" stroke="#000" stroke-width="1"/>
<line x1="730" y1="716.5" x2="737" y2="716.5" stroke="#000" stroke-width="1"/>
<line x1="736" y1="716.5" x2="742" y2="716.5" stroke="#000" stroke-width="1"/>
<line x1="746" y1="716.5" x2="752" y2="716.5" stroke="#000" stroke-width="1"/>
<line x1="751" y1="716.5" x2="757" y2="716.5" stroke="#000" stroke-width="1"/>
<line x1="762" y1="716.5" x2="768" y2="716.5" stroke="#000" stroke-width="1"/>
<line x1="767" y1="716.5" x2="773" y2="716.5" stroke="#000" stroke-width="1"/>
<line x1="777" y1="716.5" x2="783" y2="716.5" stroke="#000" stroke-width="1"/>
<rect x="782.5" y="715.5" width="6" height="1" fill="#FFFF00" stroke="#000" stroke-width="1"/>
<rect x="793.5" y="715.5" width="5" height="1" fill="#0000FF" stroke="#000" stroke-width="1"/>
<line x1="798" y1="716.5" x2="804" y2="716.5" stroke="#000" stroke-width="1"/>
<rect x="809.5" y="715.5" width="5" height="1" fill="#0000FF" stroke="#000" stroke-width="1"/>
<line x1="814" y1="716.5" x2="820" y2="716.5" stroke="#000" stroke-width="1"/>
<rect x="824.5" y="714.5" width="5" height="2" fill="#0000FF" stroke="#000" stroke-width="1"/>
<rect x="829.5" y="715.5" width="6" height="1" fill="#FFFF00" stroke="#000" stroke-width="1"/>
<rect x="840.5" y="713.5" width="5" height="3" fill="#0000FF" stroke="#000" stroke-width="1"/>
<rect x="845.5" y="714.5" width="5" height="2" fill="#FFFF00" stroke="#000" stroke-width="1"/>
<rect x="855.5" y="709.5" width="6" height="7" fill="#0000FF" stroke="#000" stroke-width="1"/>
<rect x="861.5" y="713.5" width="5" height="3" fill="#FFFF00" stroke="#000" stroke-width="1"/>
<rect x="871.5" y="702.5" width="5" height="14" fill="#0000FF" stroke="#000" stroke-width="1"/>
<rect x="876.5" y="707.5" width="6" height="9" fill="#FFFF00" stroke="#000" stroke-width="1"/>
<rect x="887.5" y="682.5" width="5" height="34" fill="#0000FF" stroke="#000" stroke-width="1"/>
<rect x="892.5" y="693.5" width="5" height="23" fill="#FFFF00" stroke="#000" stroke-width="1"/>
<rect x="902.5" y="620.5" width="6" height="96" fill="#0000FF" stroke="#000" stroke-width="1"/>
<rect x="908.5" y="642.5" width="5" height="74" fill="#FFFF00" stroke="#000" stroke-width="1"/>
<rect x="918.5" y="526.5" width="5" height="190" fill="#0000FF" stroke="#000" stroke-width="1"/>
<rect x="923.5" y="446.5" width="5" height="270" fill="#FFFF00" stroke="#000" stroke-width="1"/>
<rect x="934.5" y="538.5" width="5" height="178" fill="#0000FF" stroke="#000" stroke-width="1"/>
<rect x="939.5" y="506.5" width="5" height="210" fill="#FFFF00" stroke="#000" stroke-width="1"/>
<rect x="949.5" y="642.5" width="6" height="74" fill="#0000FF" stroke="#000" stroke-width="1"/>
<rect x="955.5" y="663.5" width="5" height="53" fill="#FFFF00" stroke="#000" stroke-width="1"/>
<rect x="965.5" y="689.5" width="5" height="27" fill="#0000FF" stroke="#000" stroke-width="1"/>
<rect x="970.5" y="703.5" width="5" height="13" fill="#FFFF00" stroke="#000" stroke-width="1"/>
<rect x="981.5" y="706.5" width="5" height="10" fill="#0000FF" stroke="#000" stroke-width="1"/>
<rect x="986.5" y="711.5" width="5" height="5" fill="#FFFF00" stroke="#000" stroke-width="1"/>
<rect x="996.5" y="712.5" width="5" height="4" fill="#0000FF" stroke="#000" stroke-width="1"/>
<rect x="1001.5" y="714.5" width="6" height="2" fill="#FFFF00" stroke="#000" stroke-width="1"/>
<rect x="1012.5" y="713.5" width="5" height="3" fill="#0000FF" stroke="#000" stroke-width="1"/>
<rect x="1017.5" y="715.5" width="5" height="1" fill="#FFFF00" stroke="#000" stroke-width="1"/>
<rect x="1028.5" y="714.5" width="5" height="2" fill="#0000FF" stroke="#000" stroke-width="1"/>
<rect x="1033.5" y="715.5" width="5" height="1" fill="#FFFF00" stroke="#000" stroke-width="1"/>
<rect x="1043.5" y="715.5" width="5" height="1" fill="#0000FF" stroke="#000" stroke-width="1"/>
<line x1="1048" y1="716.5" x2="1055" y2="716.5" stroke="#000" stroke-width="1"/>
<rect x="1059.5" y="715.5" width="5" height="1" fill="#0000FF" stroke="#000" stroke-width="1"/>
<line x1="1064" y1="716.5" x2="1070" y2="716.5" stroke="#000" stroke-width="1"/>
<line x1="1074" y1="716.5" x2="1081" y2="716.5" stroke="#000" stroke-width="1"/>
<line x1="1080" y1="716.5" x2="1086" y2="716.5" stroke="#000" stroke-width="1"/>
<rect x="1090.5" y="715.5" width="5" height="1" fill="#0000FF" stroke="#000" stroke-width="1"/>
<line x1="1095" y1="716.5" x2="1102" y2="716.5" stroke="#000" stroke-width="1"/>
<line x1="1106" y1="716.5" x2="1112" y2="716.5" stroke="#000" stroke-width="1"/>
<line x1="1111" y1="716.5" x2="1117" y2="716.5" stroke="#000" stroke-width="1"/>
<line x1="1121" y1="716.5" x2="1128" y2="716.5" stroke="#000" stroke-width="1"/>
<line x1="1127" y1="716.5" x2="1133" y2="716.5" stroke="#000" stroke-width="1"/>
<line x1="1137" y1="716.5" x2="1143" y2="716.5" stroke="#000" stroke-width="1"/>
<line x1="1142" y1="716.5" x2="1148" y2="716.5" stroke="#000" stroke-width="1"/>
</g>
<rect x="1002.5" y="65.5" width="164" height="48" fill="#fff" stroke="#000" stroke-width="1"/>
<line x1="1014" y1="81" x2="1039" y2="81" stroke="#0000FF" stroke-width="2"/>
<line x1="1014" y1="97.5" x2="1039" y2="97.5" stroke="#FFFF00" stroke-width="1"/>
<rect x="65.5" y="465.5" width="195" height="48" fill="#fff" stroke="#000" stroke-width="1"/>
<line x1="77" y1="481" x2="102" y2="481" stroke="#228B22" stroke-width="2"/>
<line x1="77" y1="497.5" x2="102" y2="497.5" stroke="#FFA500" stroke-width="1"/>
<rect x="993.5" y="465.5" width="173" height="48" fill="#fff" stroke="#000" stroke-width="1"/>
<rect x="1005.5" y="477.5" width="9" height="8" fill="#0000FF" stroke="#000"/>
<rect x="1005.5" y="493.5" width="9" height="8" fill="#FFFF00" stroke="#000"/>
<rect x="65.5" y="65.5" width="501" height="253" fill="none" stroke="#000" stroke-width="1"/>
<rect x="665.5" y="65.5" width="501" height="253" fill="none" stroke="#000" stroke-width="1"/>
<rect x="65.5" y="465.5" width="501" height="253" fill="none" stroke="#000" stroke-width="1"/>
<rect x="665.5" y="465.5" width="501" height="253" fill="none" stroke="#000" stroke-width="1"/>
<line x1="57" y1="296.5" x2="65.5" y2="296.5" stroke="#000" stroke-width="1"/>
<line x1="57" y1="251.5" x2="65.5" y2="251.5" stroke="#000" stroke-width="1"/>
<line x1="57" y1="206.5" x2="65.5" y2="206.5" stroke="#000" stroke-width="1"/>
<line x1="57" y1="161.5" x2="65.5" y2="161.5" stroke="#000" stroke-width="1"/>
<line x1="57" y1="116.5" x2="65.5" y2="116.5" stroke="#000" stroke-width="1"/>
<line x1="57" y1="71.5" x2="65.5" y2="71.5" stroke="#000" stroke-width="1"/>
<line x1="83.5" y1="318.5" x2="83.5" y2="327" stroke="#000" stroke-width="1"/>
<line x1="174.5" y1="318.5" x2="174.5" y2="327" stroke="#000" stroke-width="1"/>
<line x1="264.5" y1="318.5" x2="264.5" y2="327" stroke="#000" stroke-width="1"/>
<line x1="355.5" y1="318.5" x2="355.5" y2="327" stroke="#000" stroke-width="1"/>
<line x1="445.5" y1="318.5" x2="445.5" y2="327" stroke="#000" stroke-width="1"/>
<line x1="536.5" y1="318.5" x2="536.5" y2="327" stroke="#000" stroke-width="1"/>
<line x1="657" y1="306.5" x2="665.5" y2="306.5" stroke="#000" stroke-width="1"/>
<line x1="657" y1="266.5" x2="665.5" y2="266.5" stroke="#000" stroke-width="1"/>
<line x1="657" y1="225.5" x2="665.5" y2="225.5" stroke="#000" stroke-width="1"/>
<line x1="657" y1="185.5" x2="665.5" y2="185.5" stroke="#000" stroke-width="1"/>
<line x1="657" y1="145.5" x2="665.5" y2="145.5" stroke="#000" stroke-width="1"/>
<line x1="657" y1="104.5" x2="665.5" y2="104.5" stroke="#000" stroke-width="1"/>
<line x1="683.5" y1="318.5" x2="683.5" y2="327" stroke="#000" stroke-width="1"/>
<line x1="774.5" y1="318.5" x2="774.5" y2="327" stroke="#000" stroke-width="1"/>
<line x1="864.5" y1="318.5" x2="864.5" y2="327" stroke="#000" stroke-width="1"/>
<line x1="955.5" y1="318.5" x2="955.5" y2="327" stroke="#000" stroke-width="1"/>
<line x1="1045.5" y1="318.5" x2="1045.5" y2="327" stroke="#000" stroke-width="1"/>
<line x1="1136.5" y1="318.5" x2="1136.5" y2="327" stroke="#000" stroke-width="1"/>
<line x1="57" y1="709.5" x2="65.5" y2="709.5" stroke="#000" stroke-width="1"/>
<line x1="57" y1="668.5" x2="65.5" y2="668.5" stroke="#000" stroke-width="1"/>
<line x1="57" y1="628.5" x2="65.5" y2="628.5" stroke="#000" stroke-width="1"/>
<line x1="57" y1="587.5" x2="65.5" y2="587.5" stroke="#000" stroke-width="1"/>
<line x1="57" y1="546.5" x2="65.5" y2="546.5" stroke="#000" stroke-width="1"/>
<line x1="57" y1="506.5" x2="65.5" y2="506.5" stroke="#000" stroke-width="1"/>
<line x1="57" y1="465.5" x2="65.5" y2="465.5" stroke="#000" stroke-width="1"/>
<line x1="89.5" y1="718.5" x2="89.5" y2="727" stroke="#000" stroke-width="1"/>
<line x1="169.5" y1="718.5" x2="169.5" y2="727" stroke="#000" stroke-width="1"/>
<line x1="249.5" y1="718.5" x2="249.5" y2="727" stroke="#000" stroke-width="1"/>
<line x1="329.5" y1="718.5" x2="329.5" y2="727" stroke="#000" stroke-width="1"/>
<line x1="409.5" y1="718.5" x2="409.5" y2="727" stroke="#000" stroke-width="1"/>
<line x1="489.5" y1="718.5" x2="489.5" y2="727" stroke="#000" stroke-width="1"/>
<line x1="657" y1="716.5" x2="665.5" y2="716.5" stroke="#000" stroke-width="1"/>
<line x1="657" y1="666.5" x2="665.5" y2="666.5" stroke="#000" stroke-width="1"/>
<line x1="657" y1="616.5" x2="665.5" y2="616.5" stroke="#000" stroke-width="1"/>
<line x1="657" y1="566.5" x2="665.5" y2="566.5" stroke="#000" stroke-width="1"/>
<line x1="657" y1="516.5" x2="665.5" y2="516.5" stroke="#000" stroke-width="1"/>
<line x1="657" y1="466.5" x2="665.5" y2="466.5" stroke="#000" stroke-width="1"/>
</g>
<g fill="#000">
<text x="1050" y="86.7" font-size="13" textLength="101.5" lengthAdjust="spacingAndGlyphs">SON stock return</text>
<text x="1050" y="102.7" font-size="13" textLength="110" lengthAdjust="spacingAndGlyphs">GSPC stock return</text>
<text x="113" y="486.7" font-size="13" textLength="133" lengthAdjust="spacingAndGlyphs">SON return distribution</text>
<text x="113" y="502.7" font-size="13" textLength="141.5" lengthAdjust="spacingAndGlyphs">GSPC return distribution</text>
<text x="1026" y="486.7" font-size="13" textLength="125" lengthAdjust="spacingAndGlyphs">SON return frequency</text>
<text x="1026" y="502.7" font-size="13" textLength="133.5" lengthAdjust="spacingAndGlyphs">GSPC return frequency</text>
<text x="315.5" y="40" font-size="16" text-anchor="middle" font-weight="bold" textLength="209" lengthAdjust="spacingAndGlyphs">SON stock price time-series</text>
<text x="914.6" y="40" font-size="16" text-anchor="middle" font-weight="bold" textLength="338" lengthAdjust="spacingAndGlyphs">SON versus S&amp;P500 stock return time-series</text>
<text x="314.9" y="440" font-size="16" text-anchor="middle" font-weight="bold" textLength="341.5" lengthAdjust="spacingAndGlyphs">SON versus S&amp;P500 stock return distribution</text>
<text x="915.5" y="440" font-size="16" text-anchor="middle" font-weight="bold" textLength="376.5" lengthAdjust="spacingAndGlyphs">SON versus S&amp;P500 return frequency distribution</text>
<text x="47" y="296.5" font-size="13" text-anchor="middle" transform="rotate(-90 47 296.5)" textLength="14" lengthAdjust="spacingAndGlyphs">10</text>
<text x="47" y="251.5" font-size="13" text-anchor="middle" transform="rotate(-90 47 251.5)" textLength="14" lengthAdjust="spacingAndGlyphs">20</text>
<text x="47" y="206.5" font-size="13" text-anchor="middle" transform="rotate(-90 47 206.5)" textLength="14" lengthAdjust="spacingAndGlyphs">30</text>
<text x="47" y="161.5" font-size="13" text-anchor="middle" transform="rotate(-90 47 161.5)" textLength="14" lengthAdjust="spacingAndGlyphs">40</text>
<text x="47" y="116.5" font-size="13" text-anchor="middle" transform="rotate(-90 47 116.5)" textLength="14" lengthAdjust="spacingAndGlyphs">50</text>
<text x="47" y="71.5" font-size="13" text-anchor="middle" transform="rotate(-90 47 71.5)" textLength="14" lengthAdjust="spacingAndGlyphs">60</text>
<text x="82.8" y="348" font-size="13" text-anchor="middle" textLength="28" lengthAdjust="spacingAndGlyphs">2000</text>
<text x="173.4" y="348" font-size="13" text-anchor="middle" textLength="28" lengthAdjust="spacingAndGlyphs">2005</text>
<text x="264" y="348" font-size="13" text-anchor="middle" textLength="28" lengthAdjust="spacingAndGlyphs">2010</text>
<text x="354.6" y="348" font-size="13" text-anchor="middle" textLength="28" lengthAdjust="spacingAndGlyphs">2015</text>
<text x="445.2" y="348" font-size="13" text-anchor="middle" textLength="28" lengthAdjust="spacingAndGlyphs">2020</text>
<text x="535.8" y="348" font-size="13" text-anchor="middle" textLength="28" lengthAdjust="spacingAndGlyphs">2025</text>
<text x="647" y="306.8" font-size="13" text-anchor="middle" transform="rotate(-90 647 306.8)" textLength="29" lengthAdjust="spacingAndGlyphs">-0.15</text>
<text x="647" y="266.4" font-size="13" text-anchor="middle" transform="rotate(-90 647 266.4)" textLength="29" lengthAdjust="spacingAndGlyphs">-0.10</text>
<text x="647" y="226" font-size="13" text-anchor="middle" transform="rotate(-90 647 226)" textLength="29" lengthAdjust="spacingAndGlyphs">-0.05</text>
<text x="647" y="185.6" font-size="13" text-anchor="middle" transform="rotate(-90 647 185.6)" textLength="25" lengthAdjust="spacingAndGlyphs">0.00</text>
<text x="647" y="145.2" font-size="13" text-anchor="middle" transform="rotate(-90 647 145.2)" textLength="25" lengthAdjust="spacingAndGlyphs">0.05</text>
<text x="647" y="104.8" font-size="13" text-anchor="middle" transform="rotate(-90 647 104.8)" textLength="25" lengthAdjust="spacingAndGlyphs">0.10</text>
<text x="682.8" y="348" font-size="13" text-anchor="middle" textLength="28" lengthAdjust="spacingAndGlyphs">2000</text>
<text x="773.4" y="348" font-size="13" text-anchor="middle" textLength="28" lengthAdjust="spacingAndGlyphs">2005</text>
<text x="864" y="348" font-size="13" text-anchor="middle" textLength="28" lengthAdjust="spacingAndGlyphs">2010</text>
<text x="954.6" y="348" font-size="13" text-anchor="middle" textLength="28" lengthAdjust="spacingAndGlyphs">2015</text>
<text x="1045.2" y="348" font-size="13" text-anchor="middle" textLength="28" lengthAdjust="spacingAndGlyphs">2020</text>
<text x="1135.8" y="348" font-size="13" text-anchor="middle" textLength="28" lengthAdjust="spacingAndGlyphs">2025</text>
<text x="47" y="709.5" font-size="13" text-anchor="middle" transform="rotate(-90 47 709.5)" textLength="7" lengthAdjust="spacingAndGlyphs">0</text>
<text x="47" y="668.8" font-size="13" text-anchor="middle" transform="rotate(-90 47 668.8)" textLength="14" lengthAdjust="spacingAndGlyphs">10</text>
<text x="47" y="628.2" font-size="13" text-anchor="middle" transform="rotate(-90 47 628.2)" textLength="14" lengthAdjust="spacingAndGlyphs">20</text>
<text x="47" y="587.5" font-size="13" text-anchor="middle" transform="rotate(-90 47 587.5)" textLength="14" lengthAdjust="spacingAndGlyphs">30</text>
<text x="47" y="546.8" font-size="13" text-anchor="middle" transform="rotate(-90 47 546.8)" textLength="14" lengthAdjust="spacingAndGlyphs">40</text>
<text x="47" y="506.2" font-size="13" text-anchor="middle" transform="rotate(-90 47 506.2)" textLength="14" lengthAdjust="spacingAndGlyphs">50</text>
<text x="47" y="465.5" font-size="13" text-anchor="middle" transform="rotate(-90 47 465.5)" textLength="14" lengthAdjust="spacingAndGlyphs">60</text>
<text x="88.9" y="748" font-size="13" text-anchor="middle" textLength="29" lengthAdjust="spacingAndGlyphs">-0.15</text>
<text x="168.9" y="748" font-size="13" text-anchor="middle" textLength="29" lengthAdjust="spacingAndGlyphs">-0.10</text>
<text x="248.9" y="748" font-size="13" text-anchor="middle" textLength="29" lengthAdjust="spacingAndGlyphs">-0.05</text>
<text x="328.9" y="748" font-size="13" text-anchor="middle" textLength="25" lengthAdjust="spacingAndGlyphs">0.00</text>
<text x="408.9" y="748" font-size="13" text-anchor="middle" textLength="25" lengthAdjust="spacingAndGlyphs">0.05</text>
<text x="488.9" y="748" font-size="13" text-anchor="middle" textLength="25" lengthAdjust="spacingAndGlyphs">0.10</text>
<text x="647" y="716.5" font-size="13" text-anchor="middle" transform="rotate(-90 647 716.5)" textLength="7" lengthAdjust="spacingAndGlyphs">0</text>
<text x="647" y="666.5" font-size="13" text-anchor="middle" transform="rotate(-90 647 666.5)" textLength="21" lengthAdjust="spacingAndGlyphs">500</text>
<text x="647" y="616.5" font-size="13" text-anchor="middle" transform="rotate(-90 647 616.5)" textLength="28" lengthAdjust="spacingAndGlyphs">1000</text>
<text x="647" y="566.5" font-size="13" text-anchor="middle" transform="rotate(-90 647 566.5)" textLength="28" lengthAdjust="spacingAndGlyphs">1500</text>
<text x="647" y="516.5" font-size="13" text-anchor="middle" transform="rotate(-90 647 516.5)" textLength="28" lengthAdjust="spacingAndGlyphs">2000</text>
<text x="647" y="466.5" font-size="13" text-anchor="middle" transform="rotate(-90 647 466.5)" textLength="28" lengthAdjust="spacingAndGlyphs">2500</text>
<text x="689.1" y="748" font-size="13" text-anchor="middle" textLength="86" lengthAdjust="spacingAndGlyphs">[-0.153,-0.144)</text>
<text x="798.6" y="748" font-size="13" text-anchor="middle" textLength="100" lengthAdjust="spacingAndGlyphs">[-0.0856,-0.0759)</text>
<text x="923.7" y="748" font-size="13" text-anchor="middle" textLength="110" lengthAdjust="spacingAndGlyphs">[-0.00804,0.00165)</text>
<text x="1048.9" y="748" font-size="13" text-anchor="middle" textLength="92" lengthAdjust="spacingAndGlyphs">[0.0695,0.0792)</text>
<text x="914.5" y="780" font-size="13" text-anchor="middle" textLength="32.5" lengthAdjust="spacingAndGlyphs">return</text>
<text x="615" y="593" font-size="13" text-anchor="middle" transform="rotate(-90 615 593)" textLength="58" lengthAdjust="spacingAndGlyphs">frequency</text>
</g>
</svg>
</body></html>
